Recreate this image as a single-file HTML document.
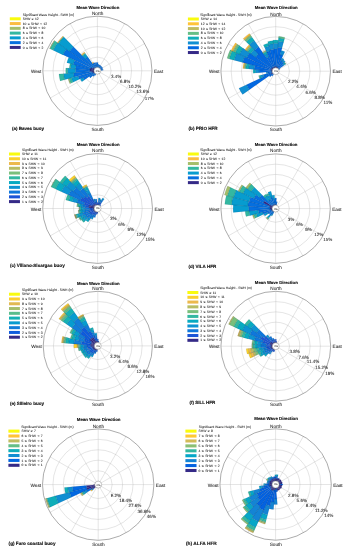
<!DOCTYPE html>
<html><head><meta charset="utf-8"><title>Wave roses</title>
<style>html,body{margin:0;padding:0;background:#fff}svg{display:block}</style></head>
<body>
<svg width="349" height="550" viewBox="0 0 349 550" text-rendering="geometricPrecision" font-family="'Liberation Sans', sans-serif">
<style>text{stroke:#222;stroke-width:0.05px}text[font-weight=bold]{stroke:#111;stroke-width:0.13px}</style>
<rect width="349" height="550" fill="#fff"/>
<g>
<circle cx="97.4" cy="70.8" r="13.65" fill="none" stroke="#b4b4b4" stroke-width="0.35"/>
<circle cx="97.4" cy="70.8" r="23.89" fill="none" stroke="#b4b4b4" stroke-width="0.35"/>
<circle cx="97.4" cy="70.8" r="34.12" fill="none" stroke="#b4b4b4" stroke-width="0.35"/>
<circle cx="97.4" cy="70.8" r="44.36" fill="none" stroke="#b4b4b4" stroke-width="0.35"/>
<line x1="97.4" y1="67.39" x2="97.4" y2="16.2" stroke="#b4b4b4" stroke-width="0.35"/>
<line x1="99.11" y1="67.84" x2="124.7" y2="23.52" stroke="#b4b4b4" stroke-width="0.35"/>
<line x1="100.36" y1="69.09" x2="144.68" y2="43.5" stroke="#b4b4b4" stroke-width="0.35"/>
<line x1="100.81" y1="70.8" x2="152" y2="70.8" stroke="#b4b4b4" stroke-width="0.35"/>
<line x1="100.36" y1="72.51" x2="144.68" y2="98.1" stroke="#b4b4b4" stroke-width="0.35"/>
<line x1="99.11" y1="73.76" x2="124.7" y2="118.08" stroke="#b4b4b4" stroke-width="0.35"/>
<line x1="97.4" y1="74.21" x2="97.4" y2="125.4" stroke="#b4b4b4" stroke-width="0.35"/>
<line x1="95.69" y1="73.76" x2="70.1" y2="118.08" stroke="#b4b4b4" stroke-width="0.35"/>
<line x1="94.44" y1="72.51" x2="50.12" y2="98.1" stroke="#b4b4b4" stroke-width="0.35"/>
<line x1="93.99" y1="70.8" x2="42.8" y2="70.8" stroke="#b4b4b4" stroke-width="0.35"/>
<line x1="94.44" y1="69.09" x2="50.12" y2="43.5" stroke="#b4b4b4" stroke-width="0.35"/>
<line x1="95.69" y1="67.84" x2="70.1" y2="23.52" stroke="#b4b4b4" stroke-width="0.35"/>
<circle cx="97.4" cy="70.8" r="54.6" fill="none" stroke="#666" stroke-width="0.55"/>
<path d="M97.09 67.4L96.65 62.53A8.3 8.3 0 0 1 98.15 62.53L97.71 67.4A3.41 3.41 0 0 0 97.09 67.4Z" fill="#066fdf"/>
<path d="M97.69 67.4L97.94 64.32A6.5 6.5 0 0 1 99.1 64.53L98.29 67.51A3.41 3.41 0 0 0 97.69 67.4Z" fill="#066fdf"/>
<path d="M98.27 67.5L98.98 64.81A6.2 6.2 0 0 1 100.04 65.19L98.85 67.71A3.41 3.41 0 0 0 98.27 67.5Z" fill="#066fdf"/>
<path d="M98.83 67.7L99.92 65.35A6 6 0 0 1 100.86 65.9L99.37 68.01A3.41 3.41 0 0 0 98.83 67.7Z" fill="#066fdf"/>
<path d="M99.35 68L100.82 65.87A6 6 0 0 1 101.66 66.57L99.82 68.4A3.41 3.41 0 0 0 99.35 68Z" fill="#066fdf"/>
<path d="M99.8 68.38L101.49 66.68A5.8 5.8 0 0 1 102.16 67.49L100.2 68.85A3.41 3.41 0 0 0 99.8 68.38Z" fill="#066fdf"/>
<path d="M100.19 68.83L102.3 67.34A6 6 0 0 1 102.85 68.28L100.5 69.37A3.41 3.41 0 0 0 100.19 68.83Z" fill="#066fdf"/>
<path d="M100.49 69.35L102.38 68.46A5.5 5.5 0 0 1 102.72 69.4L100.7 69.93A3.41 3.41 0 0 0 100.49 69.35Z" fill="#066fdf"/>
<path d="M100.69 69.91L103.09 69.25A5.9 5.9 0 0 1 103.28 70.31L100.8 70.51A3.41 3.41 0 0 0 100.69 69.91Z" fill="#066fdf"/>
<path d="M95.97 73.9L95.09 75.79A5.5 5.5 0 0 1 94.23 75.29L95.43 73.59A3.41 3.41 0 0 0 95.97 73.9Z" fill="#066fdf"/>
<path d="M95.45 73.6L93.41 76.55A7 7 0 0 1 92.43 75.73L94.98 73.2A3.41 3.41 0 0 0 95.45 73.6Z" fill="#066fdf"/>
<path d="M95 73.22L90.35 77.9A10 10 0 0 1 89.19 76.51L94.6 72.75A3.41 3.41 0 0 0 95 73.22Z" fill="#066fdf"/>
<path d="M94.61 72.77L93.89 73.28A4.3 4.3 0 0 1 93.5 72.6L94.3 72.23A3.41 3.41 0 0 0 94.61 72.77Z" fill="#352a87"/>
<path d="M93.97 73.22L84.33 80.02A16 16 0 0 1 82.88 77.51L93.59 72.56A4.2 4.2 0 0 0 93.97 73.22Z" fill="#066fdf"/>
<path d="M84.41 79.97L81.87 81.75A19 19 0 0 1 80.15 78.77L82.97 77.47A15.9 15.9 0 0 0 84.41 79.97Z" fill="#079ccf"/>
<path d="M94.31 72.25L92.88 72.93A5 5 0 0 1 92.57 72.08L94.1 71.67A3.41 3.41 0 0 0 94.31 72.25Z" fill="#352a87"/>
<path d="M92.97 72.89L79.3 79.32A20 20 0 0 1 78.06 75.91L92.66 72.05A4.9 4.9 0 0 0 92.97 72.89Z" fill="#066fdf"/>
<path d="M79.39 79.27L72.97 82.3A27 27 0 0 1 71.3 77.7L78.16 75.88A19.9 19.9 0 0 0 79.39 79.27Z" fill="#079ccf"/>
<path d="M73.06 82.25L70.71 83.36A29.5 29.5 0 0 1 68.88 78.34L71.39 77.67A26.9 26.9 0 0 0 73.06 82.25Z" fill="#33b8a1"/>
<path d="M70.8 83.32L69.8 83.79A30.5 30.5 0 0 1 67.91 78.59L68.98 78.31A29.4 29.4 0 0 0 70.8 83.32Z" fill="#a5be6b"/>
<path d="M94.11 71.69L91.61 72.37A6 6 0 0 1 91.42 71.3L94 71.09A3.41 3.41 0 0 0 94.11 71.69Z" fill="#352a87"/>
<path d="M91.71 72.35L74.24 77.09A24 24 0 0 1 73.48 72.81L91.52 71.29A5.9 5.9 0 0 0 91.71 72.35Z" fill="#066fdf"/>
<path d="M74.34 77.07L64.59 79.71A34 34 0 0 1 63.52 73.65L73.58 72.8A23.9 23.9 0 0 0 74.34 77.07Z" fill="#079ccf"/>
<path d="M64.69 79.69L60.15 80.92A38.6 38.6 0 0 1 58.94 74.03L63.62 73.64A33.9 33.9 0 0 0 64.69 79.69Z" fill="#33b8a1"/>
<path d="M94 71.11L89.93 71.48A7.5 7.5 0 0 1 89.93 70.12L94 70.49A3.41 3.41 0 0 0 94 71.11Z" fill="#352a87"/>
<path d="M90.03 71.47L75.49 72.79A22 22 0 0 1 75.49 68.81L90.03 70.13A7.4 7.4 0 0 0 90.03 71.47Z" fill="#066fdf"/>
<path d="M75.59 72.78L67.52 73.52A30 30 0 0 1 67.52 68.08L75.59 68.82A21.9 21.9 0 0 0 75.59 72.78Z" fill="#079ccf"/>
<path d="M67.62 73.51L65.83 73.67A31.7 31.7 0 0 1 65.83 67.93L67.62 68.09A29.9 29.9 0 0 0 67.62 73.51Z" fill="#33b8a1"/>
<path d="M94 70.51L89.93 70.17A7.5 7.5 0 0 1 90.16 68.83L94.11 69.91A3.41 3.41 0 0 0 94 70.51Z" fill="#352a87"/>
<path d="M90.03 70.18L75.48 68.96A22 22 0 0 1 76.17 65.03L90.26 68.86A7.4 7.4 0 0 0 90.03 70.18Z" fill="#066fdf"/>
<path d="M75.58 68.97L70.49 68.54A27 27 0 0 1 71.34 63.72L76.27 65.06A21.9 21.9 0 0 0 75.58 68.97Z" fill="#079ccf"/>
<path d="M70.59 68.55L69.2 68.43A28.3 28.3 0 0 1 70.09 63.38L71.44 63.75A26.9 26.9 0 0 0 70.59 68.55Z" fill="#33b8a1"/>
<path d="M94.1 69.93L90.15 68.88A7.5 7.5 0 0 1 90.61 67.61L94.31 69.35A3.41 3.41 0 0 0 94.1 69.93Z" fill="#352a87"/>
<path d="M90.25 68.91L73.23 64.41A25 25 0 0 1 74.78 60.16L90.7 67.65A7.4 7.4 0 0 0 90.25 68.91Z" fill="#066fdf"/>
<path d="M73.33 64.44L66.85 62.73A31.6 31.6 0 0 1 68.81 57.35L74.87 60.2A24.9 24.9 0 0 0 73.33 64.44Z" fill="#079ccf"/>
<path d="M94.3 69.37L92.41 68.49A5.5 5.5 0 0 1 92.91 67.63L94.61 68.83A3.41 3.41 0 0 0 94.3 69.37Z" fill="#352a87"/>
<path d="M92.5 68.53L62.9 54.86A38 38 0 0 1 66.35 48.9L92.99 67.69A5.4 5.4 0 0 0 92.5 68.53Z" fill="#066fdf"/>
<path d="M63 54.9L53.1 50.33A48.8 48.8 0 0 1 57.52 42.67L66.43 48.95A37.9 37.9 0 0 0 63 54.9Z" fill="#079ccf"/>
<path d="M53.19 50.37L49.92 48.86A52.3 52.3 0 0 1 54.66 40.65L57.61 42.73A48.7 48.7 0 0 0 53.19 50.37Z" fill="#33b8a1"/>
<path d="M50.01 48.9L49.47 48.65A52.8 52.8 0 0 1 54.25 40.36L54.75 40.71A52.2 52.2 0 0 0 50.01 48.9Z" fill="#a5be6b"/>
<path d="M94.6 68.85L93.29 67.95A5 5 0 0 1 93.88 67.25L95 68.38A3.41 3.41 0 0 0 94.6 68.85Z" fill="#352a87"/>
<path d="M93.38 68L69.48 51.4A34 34 0 0 1 73.44 46.67L93.95 67.32A4.9 4.9 0 0 0 93.38 68Z" fill="#066fdf"/>
<path d="M69.56 51.45L58.4 43.69A47.5 47.5 0 0 1 63.93 37.1L73.51 46.75A33.9 33.9 0 0 0 69.56 51.45Z" fill="#079ccf"/>
<path d="M58.48 43.75L57.74 43.23A48.3 48.3 0 0 1 63.37 36.53L64 37.17A47.4 47.4 0 0 0 58.48 43.75Z" fill="#33b8a1"/>
<path d="M57.82 43.29L57.16 42.84A49 49 0 0 1 62.87 36.03L63.44 36.6A48.2 48.2 0 0 0 57.82 43.29Z" fill="#fbbc41"/>
<path d="M94.98 68.4L94.35 67.77A4.3 4.3 0 0 1 94.95 67.27L95.45 68A3.41 3.41 0 0 0 94.98 68.4Z" fill="#352a87"/>
<path d="M94.42 67.84L85.34 58.82A17 17 0 0 1 87.7 56.84L95 67.35A4.2 4.2 0 0 0 94.42 67.84Z" fill="#066fdf"/>
<path d="M85.41 58.89L82.85 56.35A20.5 20.5 0 0 1 85.7 53.97L87.75 56.92A16.9 16.9 0 0 0 85.41 58.89Z" fill="#079ccf"/>
<path d="M82.92 56.43L81.93 55.44A21.8 21.8 0 0 1 84.96 52.9L85.76 54.05A20.4 20.4 0 0 0 82.92 56.43Z" fill="#33b8a1"/>
<path d="M82 55.51L81.22 54.73A22.8 22.8 0 0 1 84.39 52.08L85.02 52.98A21.7 21.7 0 0 0 82 55.51Z" fill="#fbbc41"/>
<path d="M95.43 68.01L92.39 63.69A8.7 8.7 0 0 1 93.75 62.9L95.97 67.7A3.41 3.41 0 0 0 95.43 68.01Z" fill="#066fdf"/>
<path d="M92.44 63.77L91.87 62.96A9.6 9.6 0 0 1 93.37 62.09L93.79 62.99A8.6 8.6 0 0 0 92.44 63.77Z" fill="#fbbc41"/>
<path d="M95.95 67.71L93.78 63.11A8.5 8.5 0 0 1 95.23 62.58L96.53 67.5A3.41 3.41 0 0 0 95.95 67.71Z" fill="#066fdf"/>
<path d="M96.51 67.51L95.22 62.79A8.3 8.3 0 0 1 96.71 62.53L97.11 67.4A3.41 3.41 0 0 0 96.51 67.51Z" fill="#066fdf"/>
<path d="M97.1 67.4L96.68 62.53A8.3 8.3 0 0 1 98.12 62.53L97.7 67.4A3.41 3.41 0 0 0 97.1 67.4ZM97.7 67.4L97.97 64.32A6.5 6.5 0 0 1 99.08 64.52L98.28 67.5A3.41 3.41 0 0 0 97.7 67.4ZM98.28 67.5L99 64.81A6.2 6.2 0 0 1 100.02 65.18L98.84 67.71A3.41 3.41 0 0 0 98.28 67.5ZM98.84 67.71L99.94 65.36A6 6 0 0 1 100.84 65.89L99.36 68A3.41 3.41 0 0 0 98.84 67.71ZM99.36 68L100.84 65.89A6 6 0 0 1 101.64 66.56L99.81 68.39A3.41 3.41 0 0 0 99.36 68ZM99.81 68.39L101.5 66.7A5.8 5.8 0 0 1 102.15 67.47L100.2 68.84A3.41 3.41 0 0 0 99.81 68.39ZM100.2 68.84L102.31 67.36A6 6 0 0 1 102.84 68.26L100.49 69.36A3.41 3.41 0 0 0 100.2 68.84ZM100.49 69.36L102.38 68.48A5.5 5.5 0 0 1 102.71 69.38L100.7 69.92A3.41 3.41 0 0 0 100.49 69.36ZM100.7 69.92L103.1 69.27A5.9 5.9 0 0 1 103.28 70.29L100.8 70.5A3.41 3.41 0 0 0 100.7 69.92ZM95.96 73.89L95.08 75.78A5.5 5.5 0 0 1 94.25 75.31L95.44 73.6A3.41 3.41 0 0 0 95.96 73.89ZM95.44 73.6L93.38 76.53A7 7 0 0 1 92.45 75.75L94.99 73.21A3.41 3.41 0 0 0 95.44 73.6ZM94.99 73.21L90.33 77.87A10 10 0 0 1 89.21 76.54L94.6 72.76A3.41 3.41 0 0 0 94.99 73.21ZM94.6 72.76L93.88 73.27A4.3 4.3 0 0 1 93.5 72.62L94.31 72.24A3.41 3.41 0 0 0 94.6 72.76ZM93.88 73.27L84.29 79.98A16 16 0 0 1 82.9 77.56L93.5 72.62A4.3 4.3 0 0 0 93.88 73.27ZM84.29 79.98L81.84 81.7A19 19 0 0 1 80.18 78.83L82.9 77.56A16 16 0 0 0 84.29 79.98ZM94.31 72.24L92.87 72.91A5 5 0 0 1 92.57 72.09L94.1 71.68A3.41 3.41 0 0 0 94.31 72.24ZM92.87 72.91L79.27 79.25A20 20 0 0 1 78.08 75.98L92.57 72.09A5 5 0 0 0 92.87 72.91ZM79.27 79.25L72.93 82.21A27 27 0 0 1 71.32 77.79L78.08 75.98A20 20 0 0 0 79.27 79.25ZM72.93 82.21L70.66 83.27A29.5 29.5 0 0 1 68.91 78.44L71.32 77.79A27 27 0 0 0 72.93 82.21ZM70.66 83.27L69.76 83.69A30.5 30.5 0 0 1 67.94 78.69L68.91 78.44A29.5 29.5 0 0 0 70.66 83.27ZM94.1 71.68L91.6 72.35A6 6 0 0 1 91.42 71.32L94 71.1A3.41 3.41 0 0 0 94.1 71.68ZM91.6 72.35L74.22 77.01A24 24 0 0 1 73.49 72.89L91.42 71.32A6 6 0 0 0 91.6 72.35ZM74.22 77.01L64.56 79.6A34 34 0 0 1 63.53 73.76L73.49 72.89A24 24 0 0 0 74.22 77.01ZM64.56 79.6L60.12 80.79A38.6 38.6 0 0 1 58.95 74.16L63.53 73.76A34 34 0 0 0 64.56 79.6ZM94 71.1L89.93 71.45A7.5 7.5 0 0 1 89.93 70.15L94 70.5A3.41 3.41 0 0 0 94 71.1ZM89.93 71.45L75.48 72.72A22 22 0 0 1 75.48 68.88L89.93 70.15A7.5 7.5 0 0 0 89.93 71.45ZM75.48 72.72L67.51 73.41A30 30 0 0 1 67.51 68.19L75.48 68.88A22 22 0 0 0 75.48 72.72ZM67.51 73.41L65.82 73.56A31.7 31.7 0 0 1 65.82 68.04L67.51 68.19A30 30 0 0 0 67.51 73.41ZM94 70.5L89.93 70.15A7.5 7.5 0 0 1 90.16 68.86L94.1 69.92A3.41 3.41 0 0 0 94 70.5ZM89.93 70.15L75.48 68.88A22 22 0 0 1 76.15 65.11L90.16 68.86A7.5 7.5 0 0 0 89.93 70.15ZM75.48 68.88L70.5 68.45A27 27 0 0 1 71.32 63.81L76.15 65.11A22 22 0 0 0 75.48 68.88ZM70.5 68.45L69.21 68.33A28.3 28.3 0 0 1 70.06 63.48L71.32 63.81A27 27 0 0 0 70.5 68.45ZM94.1 69.92L90.16 68.86A7.5 7.5 0 0 1 90.6 67.63L94.31 69.36A3.41 3.41 0 0 0 94.1 69.92ZM90.16 68.86L73.25 64.33A25 25 0 0 1 74.74 60.23L90.6 67.63A7.5 7.5 0 0 0 90.16 68.86ZM73.25 64.33L66.88 62.62A31.6 31.6 0 0 1 68.76 57.45L74.74 60.23A25 25 0 0 0 73.25 64.33ZM94.31 69.36L92.42 68.48A5.5 5.5 0 0 1 92.89 67.65L94.6 68.84A3.41 3.41 0 0 0 94.31 69.36ZM92.42 68.48L62.96 54.74A38 38 0 0 1 66.27 49L92.89 67.65A5.5 5.5 0 0 0 92.42 68.48ZM62.96 54.74L53.17 50.18A48.8 48.8 0 0 1 57.43 42.81L66.27 49A38 38 0 0 0 62.96 54.74ZM53.17 50.18L50 48.7A52.3 52.3 0 0 1 54.56 40.8L57.43 42.81A48.8 48.8 0 0 0 53.17 50.18ZM50 48.7L49.55 48.49A52.8 52.8 0 0 1 54.15 40.52L54.56 40.8A52.3 52.3 0 0 0 50 48.7ZM94.6 68.84L93.3 67.93A5 5 0 0 1 93.86 67.26L94.99 68.39A3.41 3.41 0 0 0 94.6 68.84ZM93.3 67.93L69.55 51.3A34 34 0 0 1 73.36 46.76L93.86 67.26A5 5 0 0 0 93.3 67.93ZM69.55 51.3L58.49 43.56A47.5 47.5 0 0 1 63.81 37.21L73.36 46.76A34 34 0 0 0 69.55 51.3ZM58.49 43.56L57.83 43.1A48.3 48.3 0 0 1 63.25 36.65L63.81 37.21A47.5 47.5 0 0 0 58.49 43.56ZM57.83 43.1L57.26 42.69A49 49 0 0 1 62.75 36.15L63.25 36.65A48.3 48.3 0 0 0 57.83 43.1ZM94.99 68.39L94.36 67.76A4.3 4.3 0 0 1 94.93 67.28L95.44 68A3.41 3.41 0 0 0 94.99 68.39ZM94.36 67.76L85.38 58.78A17 17 0 0 1 87.65 56.87L94.93 67.28A4.3 4.3 0 0 0 94.36 67.76ZM85.38 58.78L82.9 56.3A20.5 20.5 0 0 1 85.64 54.01L87.65 56.87A17 17 0 0 0 85.38 58.78ZM82.9 56.3L81.99 55.39A21.8 21.8 0 0 1 84.9 52.94L85.64 54.01A20.5 20.5 0 0 0 82.9 56.3ZM81.99 55.39L81.28 54.68A22.8 22.8 0 0 1 84.32 52.12L84.9 52.94A21.8 21.8 0 0 0 81.99 55.39ZM95.44 68L92.41 63.67A8.7 8.7 0 0 1 93.72 62.92L95.96 67.71A3.41 3.41 0 0 0 95.44 68ZM92.41 63.67L91.89 62.94A9.6 9.6 0 0 1 93.34 62.1L93.72 62.92A8.7 8.7 0 0 0 92.41 63.67ZM95.96 67.71L93.81 63.1A8.5 8.5 0 0 1 95.2 62.59L96.52 67.5A3.41 3.41 0 0 0 95.96 67.71ZM96.52 67.5L95.25 62.78A8.3 8.3 0 0 1 96.68 62.53L97.1 67.4A3.41 3.41 0 0 0 96.52 67.5Z" fill="none" stroke="#06183c" stroke-opacity="0.42" stroke-width="0.2"/>
<circle cx="97.4" cy="70.8" r="3.41" fill="#fff" stroke="#666" stroke-width="0.4"/>
<text x="97.6" y="71.7" font-size="2.6" text-anchor="middle" fill="#555" stroke="none">0%</text>
<text x="97.9" y="8.6" font-size="4.27" font-weight="bold" text-anchor="middle" fill="#111">Mean Wave Direction</text>
<text x="97.6" y="15" font-size="4.65" text-anchor="middle" fill="#222">North</text>
<text x="97.6" y="130.7" font-size="4.65" text-anchor="middle" fill="#222">South</text>
<text x="41.4" y="73" font-size="4.65" text-anchor="end" fill="#222">West</text>
<text x="153.9" y="73" font-size="4.65" text-anchor="start" fill="#222">East</text>
<text x="111.02" y="78.12" font-size="4.5" fill="#222">3.4%</text>
<text x="119.89" y="83.24" font-size="4.5" fill="#222">6.8%</text>
<text x="128.45" y="88.36" font-size="4.5" fill="#222">10.2%</text>
<text x="136.52" y="93.48" font-size="4.5" fill="#222">13.6%</text>
<text x="144.68" y="100.2" font-size="4.5" fill="#222">17%</text>
<text x="22.7" y="15.7" font-size="3.3" fill="#222">Significant Wave Height - SWH (m)</text>
<rect x="9.8" y="17.3" width="10.9" height="3" fill="#f9fb0e"/>
<text x="22.7" y="19.9" font-size="3.3" word-spacing="0.5" fill="#222">SHW ≥ 12</text>
<rect x="9.8" y="22.07" width="10.9" height="3" fill="#fbbc41"/>
<text x="22.7" y="24.67" font-size="3.3" word-spacing="0.5" fill="#222">10 ≤ SHW &lt; 12</text>
<rect x="9.8" y="26.84" width="10.9" height="3" fill="#a5be6b"/>
<text x="22.7" y="29.44" font-size="3.3" word-spacing="0.5" fill="#222">8 ≤ SHW &lt; 10</text>
<rect x="9.8" y="31.61" width="10.9" height="3" fill="#33b8a1"/>
<text x="22.7" y="34.21" font-size="3.3" word-spacing="0.5" fill="#222">6 ≤ SHW &lt; 8</text>
<rect x="9.8" y="36.38" width="10.9" height="3" fill="#079ccf"/>
<text x="22.7" y="38.98" font-size="3.3" word-spacing="0.5" fill="#222">4 ≤ SHW &lt; 6</text>
<rect x="9.8" y="41.15" width="10.9" height="3" fill="#066fdf"/>
<text x="22.7" y="43.75" font-size="3.3" word-spacing="0.5" fill="#222">2 ≤ SHW &lt; 4</text>
<rect x="9.8" y="45.92" width="10.9" height="3" fill="#352a87"/>
<text x="22.7" y="48.52" font-size="3.3" word-spacing="0.5" fill="#222">0 ≤ SHW &lt; 2</text>
<text x="12" y="130" font-size="4.5" font-weight="bold" fill="#111">(a) Baves buoy</text>
</g>
<g>
<circle cx="275.7" cy="71.2" r="13.7" fill="none" stroke="#b4b4b4" stroke-width="0.35"/>
<circle cx="275.7" cy="71.2" r="23.98" fill="none" stroke="#b4b4b4" stroke-width="0.35"/>
<circle cx="275.7" cy="71.2" r="34.25" fill="none" stroke="#b4b4b4" stroke-width="0.35"/>
<circle cx="275.7" cy="71.2" r="44.52" fill="none" stroke="#b4b4b4" stroke-width="0.35"/>
<line x1="275.7" y1="67.78" x2="275.7" y2="16.4" stroke="#b4b4b4" stroke-width="0.35"/>
<line x1="277.41" y1="68.23" x2="303.1" y2="23.74" stroke="#b4b4b4" stroke-width="0.35"/>
<line x1="278.67" y1="69.49" x2="323.16" y2="43.8" stroke="#b4b4b4" stroke-width="0.35"/>
<line x1="279.12" y1="71.2" x2="330.5" y2="71.2" stroke="#b4b4b4" stroke-width="0.35"/>
<line x1="278.67" y1="72.91" x2="323.16" y2="98.6" stroke="#b4b4b4" stroke-width="0.35"/>
<line x1="277.41" y1="74.17" x2="303.1" y2="118.66" stroke="#b4b4b4" stroke-width="0.35"/>
<line x1="275.7" y1="74.62" x2="275.7" y2="126" stroke="#b4b4b4" stroke-width="0.35"/>
<line x1="273.99" y1="74.17" x2="248.3" y2="118.66" stroke="#b4b4b4" stroke-width="0.35"/>
<line x1="272.73" y1="72.91" x2="228.24" y2="98.6" stroke="#b4b4b4" stroke-width="0.35"/>
<line x1="272.27" y1="71.2" x2="220.9" y2="71.2" stroke="#b4b4b4" stroke-width="0.35"/>
<line x1="272.73" y1="69.49" x2="228.24" y2="43.8" stroke="#b4b4b4" stroke-width="0.35"/>
<line x1="273.99" y1="68.23" x2="248.3" y2="23.74" stroke="#b4b4b4" stroke-width="0.35"/>
<circle cx="275.7" cy="71.2" r="54.8" fill="none" stroke="#666" stroke-width="0.55"/>
<path d="M275.39 67.79L275.28 66.56A4.65 4.65 0 0 1 276.12 66.56L276.01 67.79A3.42 3.42 0 0 0 275.39 67.79Z" fill="#352a87"/>
<path d="M275.29 66.66L273.66 48.8A22.49 22.49 0 0 1 277.74 48.8L276.11 66.66A4.55 4.55 0 0 0 275.29 66.66Z" fill="#0268e1"/>
<path d="M273.67 48.9L273.16 43.29A28.03 28.03 0 0 1 278.24 43.29L277.73 48.9A22.39 22.39 0 0 0 273.67 48.9Z" fill="#108ed2"/>
<path d="M273.17 43.39L272.88 40.23A31.1 31.1 0 0 1 278.52 40.23L278.23 43.39A27.93 27.93 0 0 0 273.17 43.39Z" fill="#0faeb9"/>
<path d="M275.99 67.79L276.1 66.46A4.76 4.76 0 0 1 276.95 66.61L276.6 67.89A3.42 3.42 0 0 0 275.99 67.79Z" fill="#352a87"/>
<path d="M276.09 66.55L277.72 47.14A24.14 24.14 0 0 1 282.03 47.9L276.92 66.7A4.66 4.66 0 0 0 276.09 66.55Z" fill="#0268e1"/>
<path d="M277.71 47.24L278.22 41.15A30.16 30.16 0 0 1 283.61 42.1L282 48A24.04 24.04 0 0 0 277.71 47.24Z" fill="#108ed2"/>
<path d="M278.21 41.25L278.5 37.82A33.5 33.5 0 0 1 284.48 38.88L283.58 42.2A30.06 30.06 0 0 0 278.21 41.25Z" fill="#0faeb9"/>
<path d="M278.49 37.92L278.63 36.32A35 35 0 0 1 284.88 37.42L284.46 38.97A33.4 33.4 0 0 0 278.49 37.92Z" fill="#65be86"/>
<path d="M276.57 67.89L276.81 67.01A4.33 4.33 0 0 1 277.54 67.28L277.16 68.1A3.42 3.42 0 0 0 276.57 67.89Z" fill="#352a87"/>
<path d="M276.78 67.11L280.15 54.35A17.43 17.43 0 0 1 283.12 55.43L277.5 67.37A4.23 4.23 0 0 0 276.78 67.11Z" fill="#0268e1"/>
<path d="M280.13 54.44L281.19 50.41A21.5 21.5 0 0 1 284.85 51.75L283.08 55.52A17.33 17.33 0 0 0 280.13 54.44Z" fill="#108ed2"/>
<path d="M277.14 68.09L277.37 67.59A3.98 3.98 0 0 1 277.99 67.95L277.67 68.4A3.42 3.42 0 0 0 277.14 68.09Z" fill="#352a87"/>
<path d="M277.33 67.68L280.74 60.3A12.01 12.01 0 0 1 282.62 61.39L277.94 68.03A3.88 3.88 0 0 0 277.33 67.68Z" fill="#0268e1"/>
<path d="M280.69 60.39L281.78 58.04A14.5 14.5 0 0 1 284.06 59.35L282.56 61.47A11.91 11.91 0 0 0 280.69 60.39Z" fill="#108ed2"/>
<path d="M277.65 68.39L277.94 67.97A3.93 3.93 0 0 1 278.49 68.43L278.13 68.79A3.42 3.42 0 0 0 277.65 68.39Z" fill="#352a87"/>
<path d="M277.89 68.06L282.11 61.98A11.23 11.23 0 0 1 283.67 63.28L278.42 68.5A3.83 3.83 0 0 0 277.89 68.06Z" fill="#0268e1"/>
<path d="M282.05 62.06L283.4 60.11A13.5 13.5 0 0 1 285.28 61.69L283.6 63.36A11.13 11.13 0 0 0 282.05 62.06Z" fill="#108ed2"/>
<path d="M278.11 68.77L278.39 68.49A3.82 3.82 0 0 1 278.83 69.02L278.51 69.25A3.42 3.42 0 0 0 278.11 68.77Z" fill="#352a87"/>
<path d="M278.32 68.56L282.4 64.45A9.51 9.51 0 0 1 283.51 65.77L278.75 69.08A3.72 3.72 0 0 0 278.32 68.56Z" fill="#0268e1"/>
<path d="M282.33 64.52L283.65 63.2A11.28 11.28 0 0 1 284.96 64.76L283.43 65.83A9.41 9.41 0 0 0 282.33 64.52Z" fill="#108ed2"/>
<path d="M283.58 63.27L284.34 62.5A12.26 12.26 0 0 1 285.77 64.2L284.88 64.82A11.18 11.18 0 0 0 283.58 63.27Z" fill="#0faeb9"/>
<path d="M284.27 62.57L284.65 62.19A12.7 12.7 0 0 1 286.13 63.95L285.68 64.26A12.16 12.16 0 0 0 284.27 62.57Z" fill="#65be86"/>
<path d="M278.5 69.23L278.58 69.17A3.53 3.53 0 0 1 278.9 69.72L278.81 69.76A3.42 3.42 0 0 0 278.5 69.23Z" fill="#352a87"/>
<path d="M278.5 69.22L279.79 68.32A5 5 0 0 1 280.24 69.1L278.81 69.76A3.43 3.43 0 0 0 278.5 69.22Z" fill="#0268e1"/>
<path d="M273.75 74.01L273.65 74.15A3.59 3.59 0 0 1 273.15 73.73L273.27 73.61A3.42 3.42 0 0 0 273.75 74.01Z" fill="#352a87"/>
<path d="M273.71 74.07L272.28 76.13A6 6 0 0 1 271.44 75.43L273.22 73.66A3.49 3.49 0 0 0 273.71 74.07Z" fill="#0268e1"/>
<path d="M273.29 73.63L273.08 73.84A3.72 3.72 0 0 1 272.65 73.32L272.89 73.15A3.42 3.42 0 0 0 273.29 73.63Z" fill="#352a87"/>
<path d="M273.15 73.77L270.06 76.88A8 8 0 0 1 269.13 75.77L272.73 73.27A3.62 3.62 0 0 0 273.15 73.77Z" fill="#0268e1"/>
<path d="M272.9 73.17L271.39 74.24A5.28 5.28 0 0 1 270.91 73.41L272.59 72.64A3.42 3.42 0 0 0 272.9 73.17Z" fill="#352a87"/>
<path d="M271.47 74.19L249.42 89.74A32.16 32.16 0 0 1 246.51 84.69L271 73.37A5.18 5.18 0 0 0 271.47 74.19Z" fill="#0268e1"/>
<path d="M249.5 89.68L242.61 94.55A40.5 40.5 0 0 1 238.94 88.19L246.6 84.65A32.06 32.06 0 0 0 249.5 89.68Z" fill="#108ed2"/>
<path d="M272.6 72.66L272.05 72.92A4.03 4.03 0 0 1 271.8 72.23L272.39 72.07A3.42 3.42 0 0 0 272.6 72.66Z" fill="#352a87"/>
<path d="M272.14 72.87L264.13 76.65A12.79 12.79 0 0 1 263.33 74.47L271.9 72.2A3.93 3.93 0 0 0 272.14 72.87Z" fill="#0268e1"/>
<path d="M264.22 76.6L261.67 77.8A15.51 15.51 0 0 1 260.7 75.16L263.43 74.44A12.69 12.69 0 0 0 264.22 76.6Z" fill="#108ed2"/>
<path d="M261.76 77.76L260.3 78.45A17.02 17.02 0 0 1 259.24 75.55L260.8 75.14A15.41 15.41 0 0 0 261.76 77.76Z" fill="#0faeb9"/>
<path d="M260.39 78.4L259.68 78.74A17.7 17.7 0 0 1 258.59 75.72L259.34 75.52A16.92 16.92 0 0 0 260.39 78.4Z" fill="#65be86"/>
<path d="M272.39 72.1L272.1 72.18A3.73 3.73 0 0 1 271.98 71.51L272.29 71.49A3.42 3.42 0 0 0 272.39 72.1Z" fill="#352a87"/>
<path d="M272.19 72.15L267.78 73.35A8.21 8.21 0 0 1 267.52 71.89L272.08 71.5A3.63 3.63 0 0 0 272.19 72.15Z" fill="#0268e1"/>
<path d="M267.87 73.33L266.44 73.72A9.6 9.6 0 0 1 266.13 72L267.62 71.88A8.11 8.11 0 0 0 267.87 73.33Z" fill="#108ed2"/>
<path d="M272.29 71.51L271.44 71.59A4.28 4.28 0 0 1 271.44 70.81L272.29 70.89A3.42 3.42 0 0 0 272.29 71.51Z" fill="#352a87"/>
<path d="M271.54 71.58L259.13 72.71A16.63 16.63 0 0 1 259.13 69.69L271.54 70.82A4.18 4.18 0 0 0 271.54 71.58Z" fill="#0268e1"/>
<path d="M259.23 72.7L255.31 73.06A20.47 20.47 0 0 1 255.31 69.34L259.23 69.7A16.53 16.53 0 0 0 259.23 72.7Z" fill="#108ed2"/>
<path d="M255.41 73.05L253.19 73.25A22.6 22.6 0 0 1 253.19 69.15L255.41 69.35A20.37 20.37 0 0 0 255.41 73.05Z" fill="#0faeb9"/>
<path d="M272.29 70.91L271.11 70.81A4.61 4.61 0 0 1 271.25 69.99L272.39 70.3A3.42 3.42 0 0 0 272.29 70.91Z" fill="#352a87"/>
<path d="M271.21 70.82L254.01 69.38A21.76 21.76 0 0 1 254.7 65.49L271.35 70.02A4.51 4.51 0 0 0 271.21 70.82Z" fill="#0268e1"/>
<path d="M254.11 69.39L248.71 68.93A27.09 27.09 0 0 1 249.56 64.1L254.8 65.52A21.66 21.66 0 0 0 254.11 69.39Z" fill="#108ed2"/>
<path d="M248.81 68.94L245.76 68.69A30.04 30.04 0 0 1 246.71 63.32L249.66 64.12A26.98 26.98 0 0 0 248.81 68.94Z" fill="#0faeb9"/>
<path d="M245.86 68.69L244.44 68.57A31.37 31.37 0 0 1 245.42 62.97L246.8 63.35A29.94 29.94 0 0 0 245.86 68.69Z" fill="#65be86"/>
<path d="M244.54 68.58L243.76 68.52A32.05 32.05 0 0 1 244.77 62.8L245.52 63A31.27 31.27 0 0 0 244.54 68.58Z" fill="#c0bc60"/>
<path d="M243.86 68.53L242.82 68.44A33 33 0 0 1 243.85 62.55L244.86 62.82A31.95 31.95 0 0 0 243.86 68.53Z" fill="#ffc337"/>
<path d="M272.39 70.33L270.47 69.82A5.41 5.41 0 0 1 270.81 68.9L272.6 69.74A3.42 3.42 0 0 0 272.39 70.33Z" fill="#352a87"/>
<path d="M270.57 69.84L242.65 62.47A34.18 34.18 0 0 1 244.77 56.65L270.9 68.94A5.31 5.31 0 0 0 270.57 69.84Z" fill="#0268e1"/>
<path d="M242.75 62.49L234.02 60.19A43.11 43.11 0 0 1 236.7 52.85L244.86 56.69A34.08 34.08 0 0 0 242.75 62.49Z" fill="#108ed2"/>
<path d="M234.12 60.21L229.23 58.92A48.07 48.07 0 0 1 232.21 50.73L236.79 52.89A43.01 43.01 0 0 0 234.12 60.21Z" fill="#0faeb9"/>
<path d="M229.32 58.95L227.07 58.35A50.3 50.3 0 0 1 230.19 49.78L232.3 50.78A47.97 47.97 0 0 0 229.32 58.95Z" fill="#65be86"/>
<path d="M272.59 69.76L270.93 69A5.26 5.26 0 0 1 271.41 68.17L272.9 69.23A3.42 3.42 0 0 0 272.59 69.76Z" fill="#352a87"/>
<path d="M271.02 69.04L246.83 57.86A31.81 31.81 0 0 1 249.71 52.87L271.49 68.23A5.16 5.16 0 0 0 271.02 69.04Z" fill="#0268e1"/>
<path d="M246.92 57.9L239.35 54.4A40.05 40.05 0 0 1 242.98 48.12L249.79 52.92A31.71 31.71 0 0 0 246.92 57.9Z" fill="#108ed2"/>
<path d="M239.44 54.44L235.19 52.48A44.62 44.62 0 0 1 239.24 45.48L243.06 48.17A39.95 39.95 0 0 0 239.44 54.44Z" fill="#0faeb9"/>
<path d="M235.28 52.52L233.32 51.62A46.68 46.68 0 0 1 237.55 44.29L239.32 45.54A44.52 44.52 0 0 0 235.28 52.52Z" fill="#65be86"/>
<path d="M233.41 51.66L232.37 51.18A47.74 47.74 0 0 1 236.69 43.68L237.64 44.35A46.58 46.58 0 0 0 233.41 51.66Z" fill="#c0bc60"/>
<path d="M232.46 51.22L231.04 50.56A49.2 49.2 0 0 1 235.5 42.84L236.78 43.74A47.64 47.64 0 0 0 232.46 51.22Z" fill="#ffc337"/>
<path d="M272.89 69.25L271.77 68.47A4.79 4.79 0 0 1 272.33 67.8L273.29 68.77A3.42 3.42 0 0 0 272.89 69.25Z" fill="#352a87"/>
<path d="M271.85 68.52L255.54 57.19A24.55 24.55 0 0 1 258.4 53.78L272.4 67.87A4.69 4.69 0 0 0 271.85 68.52Z" fill="#0268e1"/>
<path d="M255.62 57.25L250.5 53.69A30.69 30.69 0 0 1 254.08 49.43L258.47 53.85A24.45 24.45 0 0 0 255.62 57.25Z" fill="#108ed2"/>
<path d="M250.59 53.74L247.7 51.74A34.09 34.09 0 0 1 251.68 47.01L254.15 49.5A30.59 30.59 0 0 0 250.59 53.74Z" fill="#0faeb9"/>
<path d="M247.79 51.8L246.45 50.87A35.63 35.63 0 0 1 250.6 45.92L251.75 47.08A33.99 33.99 0 0 0 247.79 51.8Z" fill="#65be86"/>
<path d="M246.53 50.92L245.8 50.42A36.41 36.41 0 0 1 250.04 45.36L250.67 45.99A35.53 35.53 0 0 0 246.53 50.92Z" fill="#c0bc60"/>
<path d="M245.88 50.48L244.91 49.8A37.5 37.5 0 0 1 249.28 44.59L250.12 45.44A36.31 36.31 0 0 0 245.88 50.48Z" fill="#ffc337"/>
<path d="M273.27 68.79L272.06 67.59A5.13 5.13 0 0 1 272.77 66.99L273.75 68.39A3.42 3.42 0 0 0 273.27 68.79Z" fill="#352a87"/>
<path d="M272.13 67.66L254.54 50.19A29.82 29.82 0 0 1 258.68 46.71L272.83 67.07A5.03 5.03 0 0 0 272.13 67.66Z" fill="#0268e1"/>
<path d="M254.61 50.26L249.1 44.79A37.48 37.48 0 0 1 254.31 40.42L258.74 46.79A29.72 29.72 0 0 0 254.61 50.26Z" fill="#108ed2"/>
<path d="M249.17 44.86L246.08 41.79A41.74 41.74 0 0 1 251.88 36.92L254.36 40.5A37.38 37.38 0 0 0 249.17 44.86Z" fill="#0faeb9"/>
<path d="M246.15 41.86L244.72 40.44A43.66 43.66 0 0 1 250.78 35.35L251.93 37.01A41.64 41.64 0 0 0 246.15 41.86Z" fill="#65be86"/>
<path d="M244.79 40.51L244.03 39.75A44.64 44.64 0 0 1 250.22 34.55L250.84 35.43A43.56 43.56 0 0 0 244.79 40.51Z" fill="#c0bc60"/>
<path d="M244.1 39.82L243.06 38.79A46 46 0 0 1 249.45 33.43L250.28 34.63A44.54 44.54 0 0 0 244.1 39.82Z" fill="#ffc337"/>
<path d="M273.73 68.4L273.26 67.74A4.24 4.24 0 0 1 273.92 67.35L274.26 68.09A3.42 3.42 0 0 0 273.73 68.4Z" fill="#352a87"/>
<path d="M273.31 67.82L266.46 58.1A16.03 16.03 0 0 1 268.98 56.65L273.96 67.44A4.14 4.14 0 0 0 273.31 67.82Z" fill="#0268e1"/>
<path d="M266.52 58.19L264.35 55.11A19.69 19.69 0 0 1 267.44 53.33L269.02 56.74A15.93 15.93 0 0 0 266.52 58.19Z" fill="#108ed2"/>
<path d="M264.41 55.2L263.18 53.45A21.72 21.72 0 0 1 266.59 51.49L267.48 53.42A19.59 19.59 0 0 0 264.41 55.2Z" fill="#0faeb9"/>
<path d="M263.24 53.54L262.65 52.71A22.63 22.63 0 0 1 266.21 50.65L266.63 51.58A21.62 21.62 0 0 0 263.24 53.54Z" fill="#65be86"/>
<path d="M262.71 52.79L262.38 52.32A23.1 23.1 0 0 1 266.01 50.23L266.25 50.75A22.53 22.53 0 0 0 262.71 52.79Z" fill="#c0bc60"/>
<path d="M274.24 68.1L273.76 67.07A4.56 4.56 0 0 1 274.53 66.79L274.83 67.89A3.42 3.42 0 0 0 274.24 68.1Z" fill="#352a87"/>
<path d="M273.8 67.16L266.74 52.16A21.04 21.04 0 0 1 270.32 50.85L274.56 66.89A4.46 4.46 0 0 0 273.8 67.16Z" fill="#0268e1"/>
<path d="M266.78 52.25L264.56 47.53A26.16 26.16 0 0 1 269.02 45.91L270.35 50.95A20.94 20.94 0 0 0 266.78 52.25Z" fill="#108ed2"/>
<path d="M264.6 47.62L263.35 44.96A29 29 0 0 1 268.29 43.16L269.04 46.01A26.06 26.06 0 0 0 264.6 47.62Z" fill="#0faeb9"/>
<path d="M274.8 67.89L274.49 66.73A4.63 4.63 0 0 1 275.31 66.58L275.41 67.79A3.42 3.42 0 0 0 274.8 67.89Z" fill="#352a87"/>
<path d="M274.51 66.83L269.89 49.83A22.15 22.15 0 0 1 273.85 49.13L275.32 66.68A4.53 4.53 0 0 0 274.51 66.83Z" fill="#0268e1"/>
<path d="M269.92 49.93L268.47 44.58A27.58 27.58 0 0 1 273.39 43.72L273.86 49.23A22.05 22.05 0 0 0 269.92 49.93Z" fill="#108ed2"/>
<path d="M268.49 44.68L267.68 41.67A30.6 30.6 0 0 1 273.14 40.71L273.4 43.82A27.48 27.48 0 0 0 268.49 44.68Z" fill="#0faeb9"/>
<path d="M275.4 67.79L275.29 66.56A4.65 4.65 0 0 1 276.11 66.56L276 67.79A3.42 3.42 0 0 0 275.4 67.79ZM275.29 66.56L273.74 48.8A22.49 22.49 0 0 1 277.66 48.8L276.11 66.56A4.65 4.65 0 0 0 275.29 66.56ZM273.74 48.8L273.26 43.28A28.03 28.03 0 0 1 278.14 43.28L277.66 48.8A22.49 22.49 0 0 0 273.74 48.8ZM273.26 43.28L272.99 40.22A31.1 31.1 0 0 1 278.41 40.22L278.14 43.28A28.03 28.03 0 0 0 273.26 43.28ZM276 67.79L276.11 66.46A4.76 4.76 0 0 1 276.93 66.6L276.59 67.89A3.42 3.42 0 0 0 276 67.79ZM276.11 66.46L277.8 47.15A24.14 24.14 0 0 1 281.95 47.88L276.93 66.6A4.76 4.76 0 0 0 276.11 66.46ZM277.8 47.15L278.33 41.16A30.16 30.16 0 0 1 283.5 42.07L281.95 47.88A24.14 24.14 0 0 0 277.8 47.15ZM278.33 41.16L278.62 37.83A33.5 33.5 0 0 1 284.37 38.84L283.5 42.07A30.16 30.16 0 0 0 278.33 41.16ZM278.62 37.83L278.75 36.33A35 35 0 0 1 284.76 37.39L284.37 38.84A33.5 33.5 0 0 0 278.62 37.83ZM276.59 67.89L276.82 67.02A4.33 4.33 0 0 1 277.53 67.28L277.15 68.1A3.42 3.42 0 0 0 276.59 67.89ZM276.82 67.02L280.21 54.36A17.43 17.43 0 0 1 283.07 55.4L277.53 67.28A4.33 4.33 0 0 0 276.82 67.02ZM280.21 54.36L281.26 50.43A21.5 21.5 0 0 1 284.79 51.71L283.07 55.4A17.43 17.43 0 0 0 280.21 54.36ZM277.15 68.1L277.38 67.59A3.98 3.98 0 0 1 277.98 67.94L277.66 68.39A3.42 3.42 0 0 0 277.15 68.1ZM277.38 67.59L280.77 60.32A12.01 12.01 0 0 1 282.59 61.36L277.98 67.94A3.98 3.98 0 0 0 277.38 67.59ZM280.77 60.32L281.83 58.06A14.5 14.5 0 0 1 284.02 59.32L282.59 61.36A12.01 12.01 0 0 0 280.77 60.32ZM277.66 68.39L277.95 67.98A3.93 3.93 0 0 1 278.48 68.42L278.12 68.78A3.42 3.42 0 0 0 277.66 68.39ZM277.95 67.98L282.14 62A11.23 11.23 0 0 1 283.64 63.26L278.48 68.42A3.93 3.93 0 0 0 277.95 67.98ZM282.14 62L283.44 60.14A13.5 13.5 0 0 1 285.25 61.65L283.64 63.26A11.23 11.23 0 0 0 282.14 62ZM278.12 68.78L278.4 68.5A3.82 3.82 0 0 1 278.83 69.01L278.51 69.24A3.42 3.42 0 0 0 278.12 68.78ZM278.4 68.5L282.42 64.48A9.51 9.51 0 0 1 283.49 65.75L278.83 69.01A3.82 3.82 0 0 0 278.4 68.5ZM282.42 64.48L283.67 63.23A11.28 11.28 0 0 1 284.94 64.73L283.49 65.75A9.51 9.51 0 0 0 282.42 64.48ZM283.67 63.23L284.37 62.53A12.26 12.26 0 0 1 285.74 64.17L284.94 64.73A11.28 11.28 0 0 0 283.67 63.23ZM284.37 62.53L284.68 62.22A12.7 12.7 0 0 1 286.1 63.92L285.74 64.17A12.26 12.26 0 0 0 284.37 62.53ZM278.51 69.24L278.59 69.18A3.53 3.53 0 0 1 278.9 69.71L278.8 69.75A3.42 3.42 0 0 0 278.51 69.24ZM278.59 69.18L279.8 68.33A5 5 0 0 1 280.23 69.09L278.9 69.71A3.53 3.53 0 0 0 278.59 69.18ZM273.74 74.01L273.64 74.14A3.59 3.59 0 0 1 273.16 73.74L273.28 73.62A3.42 3.42 0 0 0 273.74 74.01ZM273.64 74.14L272.26 76.11A6 6 0 0 1 271.46 75.44L273.16 73.74A3.59 3.59 0 0 0 273.64 74.14ZM273.28 73.62L273.07 73.83A3.72 3.72 0 0 1 272.65 73.33L272.89 73.16A3.42 3.42 0 0 0 273.28 73.62ZM273.07 73.83L270.04 76.86A8 8 0 0 1 269.15 75.79L272.65 73.33A3.72 3.72 0 0 0 273.07 73.83ZM272.89 73.16L271.38 74.23A5.28 5.28 0 0 1 270.92 73.43L272.6 72.65A3.42 3.42 0 0 0 272.89 73.16ZM271.38 74.23L249.36 89.65A32.16 32.16 0 0 1 246.55 84.79L270.92 73.43A5.28 5.28 0 0 0 271.38 74.23ZM249.36 89.65L242.52 94.43A40.5 40.5 0 0 1 238.99 88.32L246.55 84.79A32.16 32.16 0 0 0 249.36 89.65ZM272.6 72.65L272.05 72.9A4.03 4.03 0 0 1 271.81 72.24L272.39 72.09A3.42 3.42 0 0 0 272.6 72.65ZM272.05 72.9L264.11 76.61A12.79 12.79 0 0 1 263.35 74.51L271.81 72.24A4.03 4.03 0 0 0 272.05 72.9ZM264.11 76.61L261.64 77.75A15.51 15.51 0 0 1 260.72 75.21L263.35 74.51A12.79 12.79 0 0 0 264.11 76.61ZM261.64 77.75L260.27 78.39A17.02 17.02 0 0 1 259.26 75.61L260.72 75.21A15.51 15.51 0 0 0 261.64 77.75ZM260.27 78.39L259.66 78.68A17.7 17.7 0 0 1 258.6 75.78L259.26 75.61A17.02 17.02 0 0 0 260.27 78.39ZM272.39 72.09L272.09 72.17A3.73 3.73 0 0 1 271.98 71.53L272.29 71.5A3.42 3.42 0 0 0 272.39 72.09ZM272.09 72.17L267.77 73.33A8.21 8.21 0 0 1 267.52 71.92L271.98 71.53A3.73 3.73 0 0 0 272.09 72.17ZM267.77 73.33L266.43 73.68A9.6 9.6 0 0 1 266.14 72.04L267.52 71.92A8.21 8.21 0 0 0 267.77 73.33ZM272.29 71.5L271.44 71.57A4.28 4.28 0 0 1 271.44 70.83L272.29 70.9A3.42 3.42 0 0 0 272.29 71.5ZM271.44 71.57L259.13 72.65A16.63 16.63 0 0 1 259.13 69.75L271.44 70.83A4.28 4.28 0 0 0 271.44 71.57ZM259.13 72.65L255.31 72.98A20.47 20.47 0 0 1 255.31 69.42L259.13 69.75A16.63 16.63 0 0 0 259.13 72.65ZM255.31 72.98L253.19 73.17A22.6 22.6 0 0 1 253.19 69.23L255.31 69.42A20.47 20.47 0 0 0 255.31 72.98ZM272.29 70.9L271.11 70.8A4.61 4.61 0 0 1 271.25 70.01L272.39 70.31A3.42 3.42 0 0 0 272.29 70.9ZM271.11 70.8L254.02 69.3A21.76 21.76 0 0 1 254.68 65.57L271.25 70.01A4.61 4.61 0 0 0 271.11 70.8ZM254.02 69.3L248.72 68.84A27.09 27.09 0 0 1 249.54 64.19L254.68 65.57A21.76 21.76 0 0 0 254.02 69.3ZM248.72 68.84L245.77 68.58A30.04 30.04 0 0 1 246.68 63.42L249.54 64.19A27.09 27.09 0 0 0 248.72 68.84ZM245.77 68.58L244.45 68.47A31.37 31.37 0 0 1 245.4 63.08L246.68 63.42A30.04 30.04 0 0 0 245.77 68.58ZM244.45 68.47L243.77 68.41A32.05 32.05 0 0 1 244.74 62.9L245.4 63.08A31.37 31.37 0 0 0 244.45 68.47ZM243.77 68.41L242.83 68.32A33 33 0 0 1 243.82 62.66L244.74 62.9A32.05 32.05 0 0 0 243.77 68.41ZM272.39 70.31L270.48 69.8A5.41 5.41 0 0 1 270.8 68.91L272.6 69.75A3.42 3.42 0 0 0 272.39 70.31ZM270.48 69.8L242.69 62.35A34.18 34.18 0 0 1 244.72 56.76L270.8 68.91A5.41 5.41 0 0 0 270.48 69.8ZM242.69 62.35L234.06 60.04A43.11 43.11 0 0 1 236.63 52.98L244.72 56.76A34.18 34.18 0 0 0 242.69 62.35ZM234.06 60.04L229.27 58.76A48.07 48.07 0 0 1 232.14 50.89L236.63 52.98A43.11 43.11 0 0 0 234.06 60.04ZM229.27 58.76L227.11 58.18A50.3 50.3 0 0 1 230.11 49.94L232.14 50.89A48.07 48.07 0 0 0 229.27 58.76ZM272.6 69.75L270.94 68.98A5.26 5.26 0 0 1 271.39 68.19L272.89 69.24A3.42 3.42 0 0 0 272.6 69.75ZM270.94 68.98L246.87 57.76A31.81 31.81 0 0 1 249.65 52.96L271.39 68.19A5.26 5.26 0 0 0 270.94 68.98ZM246.87 57.76L239.41 54.28A40.05 40.05 0 0 1 242.9 48.23L249.65 52.96A31.81 31.81 0 0 0 246.87 57.76ZM239.41 54.28L235.26 52.34A44.62 44.62 0 0 1 239.15 45.61L242.9 48.23A40.05 40.05 0 0 0 239.41 54.28ZM235.26 52.34L233.39 51.47A46.68 46.68 0 0 1 237.46 44.42L239.15 45.61A44.62 44.62 0 0 0 235.26 52.34ZM233.39 51.47L232.44 51.03A47.74 47.74 0 0 1 236.6 43.82L237.46 44.42A46.68 46.68 0 0 0 233.39 51.47ZM232.44 51.03L231.11 50.41A49.2 49.2 0 0 1 235.4 42.98L236.6 43.82A47.74 47.74 0 0 0 232.44 51.03ZM272.89 69.24L271.78 68.45A4.79 4.79 0 0 1 272.31 67.81L273.28 68.78A3.42 3.42 0 0 0 272.89 69.24ZM271.78 68.45L255.59 57.12A24.55 24.55 0 0 1 258.34 53.84L272.31 67.81A4.79 4.79 0 0 0 271.78 68.45ZM255.59 57.12L250.56 53.6A30.69 30.69 0 0 1 254 49.5L258.34 53.84A24.55 24.55 0 0 0 255.59 57.12ZM250.56 53.6L247.77 51.65A34.09 34.09 0 0 1 251.59 47.09L254 49.5A30.69 30.69 0 0 0 250.56 53.6ZM247.77 51.65L246.52 50.77A35.63 35.63 0 0 1 250.51 46.01L251.59 47.09A34.09 34.09 0 0 0 247.77 51.65ZM246.52 50.77L245.88 50.32A36.41 36.41 0 0 1 249.95 45.45L250.51 46.01A35.63 35.63 0 0 0 246.52 50.77ZM245.88 50.32L244.98 49.69A37.5 37.5 0 0 1 249.18 44.68L249.95 45.45A36.41 36.41 0 0 0 245.88 50.32ZM273.28 68.78L272.07 67.57A5.13 5.13 0 0 1 272.76 67L273.74 68.39A3.42 3.42 0 0 0 273.28 68.78ZM272.07 67.57L254.61 50.11A29.82 29.82 0 0 1 258.6 46.77L272.76 67A5.13 5.13 0 0 0 272.07 67.57ZM254.61 50.11L249.19 44.69A37.48 37.48 0 0 1 254.2 40.49L258.6 46.77A29.82 29.82 0 0 0 254.61 50.11ZM249.19 44.69L246.18 41.68A41.74 41.74 0 0 1 251.76 37.01L254.2 40.49A37.48 37.48 0 0 0 249.19 44.69ZM246.18 41.68L244.83 40.33A43.66 43.66 0 0 1 250.66 35.44L251.76 37.01A41.74 41.74 0 0 0 246.18 41.68ZM244.83 40.33L244.14 39.64A44.64 44.64 0 0 1 250.1 34.64L250.66 35.44A43.66 43.66 0 0 0 244.83 40.33ZM244.14 39.64L243.17 38.67A46 46 0 0 1 249.32 33.52L250.1 34.64A44.64 44.64 0 0 0 244.14 39.64ZM273.74 68.39L273.27 67.73A4.24 4.24 0 0 1 273.91 67.36L274.25 68.1A3.42 3.42 0 0 0 273.74 68.39ZM273.27 67.73L266.51 58.07A16.03 16.03 0 0 1 268.93 56.67L273.91 67.36A4.24 4.24 0 0 0 273.27 67.73ZM266.51 58.07L264.41 55.07A19.69 19.69 0 0 1 267.38 53.36L268.93 56.67A16.03 16.03 0 0 0 266.51 58.07ZM264.41 55.07L263.24 53.41A21.72 21.72 0 0 1 266.52 51.52L267.38 53.36A19.69 19.69 0 0 0 264.41 55.07ZM263.24 53.41L262.72 52.66A22.63 22.63 0 0 1 266.14 50.69L266.52 51.52A21.72 21.72 0 0 0 263.24 53.41ZM262.72 52.66L262.45 52.28A23.1 23.1 0 0 1 265.94 50.26L266.14 50.69A22.63 22.63 0 0 0 262.72 52.66ZM274.25 68.1L273.77 67.07A4.56 4.56 0 0 1 274.52 66.79L274.81 67.89A3.42 3.42 0 0 0 274.25 68.1ZM273.77 67.07L266.81 52.13A21.04 21.04 0 0 1 270.25 50.87L274.52 66.79A4.56 4.56 0 0 0 273.77 67.07ZM266.81 52.13L264.65 47.49A26.16 26.16 0 0 1 268.93 45.93L270.25 50.87A21.04 21.04 0 0 0 266.81 52.13ZM264.65 47.49L263.44 44.92A29 29 0 0 1 268.19 43.19L268.93 45.93A26.16 26.16 0 0 0 264.65 47.49ZM274.81 67.89L274.5 66.73A4.63 4.63 0 0 1 275.3 66.58L275.4 67.79A3.42 3.42 0 0 0 274.81 67.89ZM274.5 66.73L269.97 49.81A22.15 22.15 0 0 1 273.77 49.14L275.3 66.58A4.63 4.63 0 0 0 274.5 66.73ZM269.97 49.81L268.56 44.56A27.58 27.58 0 0 1 273.3 43.72L273.77 49.14A22.15 22.15 0 0 0 269.97 49.81ZM268.56 44.56L267.78 41.64A30.6 30.6 0 0 1 273.03 40.72L273.3 43.72A27.58 27.58 0 0 0 268.56 44.56Z" fill="none" stroke="#06183c" stroke-opacity="0.42" stroke-width="0.2"/>
<circle cx="275.7" cy="71.2" r="3.42" fill="#fff" stroke="#666" stroke-width="0.4"/>
<text x="275.9" y="72.1" font-size="2.6" text-anchor="middle" fill="#555" stroke="none">0%</text>
<text x="276.2" y="9.37" font-size="4.29" font-weight="bold" text-anchor="middle" fill="#111">Mean Wave Direction</text>
<text x="275.9" y="15.7" font-size="4.67" text-anchor="middle" fill="#222">North</text>
<text x="275.9" y="131.32" font-size="4.67" text-anchor="middle" fill="#222">South</text>
<text x="219.5" y="73.4" font-size="4.67" text-anchor="end" fill="#222">West</text>
<text x="332.4" y="73.4" font-size="4.67" text-anchor="start" fill="#222">East</text>
<text x="287.96" y="83.15" font-size="4.52" fill="#222">2.2%</text>
<text x="296.36" y="88.29" font-size="4.52" fill="#222">4.4%</text>
<text x="305.46" y="93.62" font-size="4.52" fill="#222">6.6%</text>
<text x="314.46" y="98.76" font-size="4.52" fill="#222">8.8%</text>
<text x="323.56" y="103.7" font-size="4.52" fill="#222">11%</text>
<text x="200.3" y="15.9" font-size="3.31" fill="#222">Significant Wave Height - SWH (m)</text>
<rect x="187.9" y="17.5" width="10.94" height="3.01" fill="#f9fb0e"/>
<text x="200.85" y="20.11" font-size="3.31" word-spacing="0.5" fill="#222">SHW ≥ 14</text>
<rect x="187.9" y="22.29" width="10.94" height="3.01" fill="#ffc337"/>
<text x="200.85" y="24.9" font-size="3.31" word-spacing="0.5" fill="#222">12 ≤ SHW &lt; 14</text>
<rect x="187.9" y="27.08" width="10.94" height="3.01" fill="#c0bc60"/>
<text x="200.85" y="29.69" font-size="3.31" word-spacing="0.5" fill="#222">10 ≤ SHW &lt; 12</text>
<rect x="187.9" y="31.87" width="10.94" height="3.01" fill="#65be86"/>
<text x="200.85" y="34.48" font-size="3.31" word-spacing="0.5" fill="#222">8 ≤ SHW &lt; 10</text>
<rect x="187.9" y="36.66" width="10.94" height="3.01" fill="#0faeb9"/>
<text x="200.85" y="39.27" font-size="3.31" word-spacing="0.5" fill="#222">6 ≤ SHW &lt; 8</text>
<rect x="187.9" y="41.45" width="10.94" height="3.01" fill="#108ed2"/>
<text x="200.85" y="44.06" font-size="3.31" word-spacing="0.5" fill="#222">4 ≤ SHW &lt; 6</text>
<rect x="187.9" y="46.24" width="10.94" height="3.01" fill="#0268e1"/>
<text x="200.85" y="48.85" font-size="3.31" word-spacing="0.5" fill="#222">2 ≤ SHW &lt; 4</text>
<rect x="187.9" y="51.03" width="10.94" height="3.01" fill="#352a87"/>
<text x="200.85" y="53.64" font-size="3.31" word-spacing="0.5" fill="#222">0 ≤ SHW &lt; 2</text>
<text x="188.6" y="130.3" font-size="4.6" font-weight="bold" fill="#111">(b) PRIO HFR</text>
</g>
<g>
<circle cx="97.6" cy="208.5" r="13.72" fill="none" stroke="#b4b4b4" stroke-width="0.35"/>
<circle cx="97.6" cy="208.5" r="24.02" fill="none" stroke="#b4b4b4" stroke-width="0.35"/>
<circle cx="97.6" cy="208.5" r="34.31" fill="none" stroke="#b4b4b4" stroke-width="0.35"/>
<circle cx="97.6" cy="208.5" r="44.61" fill="none" stroke="#b4b4b4" stroke-width="0.35"/>
<line x1="97.6" y1="205.07" x2="97.6" y2="153.6" stroke="#b4b4b4" stroke-width="0.35"/>
<line x1="99.32" y1="205.53" x2="125.05" y2="160.96" stroke="#b4b4b4" stroke-width="0.35"/>
<line x1="100.57" y1="206.78" x2="145.14" y2="181.05" stroke="#b4b4b4" stroke-width="0.35"/>
<line x1="101.03" y1="208.5" x2="152.5" y2="208.5" stroke="#b4b4b4" stroke-width="0.35"/>
<line x1="100.57" y1="210.22" x2="145.14" y2="235.95" stroke="#b4b4b4" stroke-width="0.35"/>
<line x1="99.32" y1="211.47" x2="125.05" y2="256.04" stroke="#b4b4b4" stroke-width="0.35"/>
<line x1="97.6" y1="211.93" x2="97.6" y2="263.4" stroke="#b4b4b4" stroke-width="0.35"/>
<line x1="95.88" y1="211.47" x2="70.15" y2="256.04" stroke="#b4b4b4" stroke-width="0.35"/>
<line x1="94.63" y1="210.22" x2="50.06" y2="235.95" stroke="#b4b4b4" stroke-width="0.35"/>
<line x1="94.17" y1="208.5" x2="42.7" y2="208.5" stroke="#b4b4b4" stroke-width="0.35"/>
<line x1="94.63" y1="206.78" x2="50.06" y2="181.05" stroke="#b4b4b4" stroke-width="0.35"/>
<line x1="95.88" y1="205.53" x2="70.15" y2="160.96" stroke="#b4b4b4" stroke-width="0.35"/>
<circle cx="97.6" cy="208.5" r="54.9" fill="none" stroke="#666" stroke-width="0.55"/>
<path d="M97.29 205.08L97.25 204.66A3.86 3.86 0 0 1 97.95 204.66L97.91 205.08A3.43 3.43 0 0 0 97.29 205.08Z" fill="#352a87"/>
<path d="M97.26 204.76L97.06 202.52A6 6 0 0 1 98.14 202.52L97.94 204.76A3.76 3.76 0 0 0 97.26 204.76Z" fill="#1b55d7"/>
<path d="M97.89 205.08L97.93 204.6A3.91 3.91 0 0 1 98.63 204.73L98.5 205.19A3.43 3.43 0 0 0 97.89 205.08Z" fill="#352a87"/>
<path d="M97.92 204.7L98.13 202.22A6.3 6.3 0 0 1 99.25 202.42L98.6 204.82A3.81 3.81 0 0 0 97.92 204.7Z" fill="#1b55d7"/>
<path d="M98.12 202.32L98.35 199.55A8.98 8.98 0 0 1 99.95 199.84L99.23 202.52A6.2 6.2 0 0 0 98.12 202.32Z" fill="#0f77db"/>
<path d="M98.34 199.65L98.5 197.84A10.7 10.7 0 0 1 100.41 198.17L99.93 199.93A8.88 8.88 0 0 0 98.34 199.65Z" fill="#0d93d2"/>
<path d="M98.48 205.18L98.58 204.8A3.83 3.83 0 0 1 99.23 205.03L99.06 205.4A3.43 3.43 0 0 0 98.48 205.18Z" fill="#352a87"/>
<path d="M98.55 204.89L99.09 202.87A5.83 5.83 0 0 1 100.08 203.23L99.19 205.12A3.73 3.73 0 0 0 98.55 204.89Z" fill="#1b55d7"/>
<path d="M99.06 202.96L99.66 200.7A8.06 8.06 0 0 1 101.03 201.2L100.04 203.32A5.73 5.73 0 0 0 99.06 202.96Z" fill="#0f77db"/>
<path d="M99.63 200.8L100.03 199.32A9.5 9.5 0 0 1 101.64 199.9L100.99 201.3A7.96 7.96 0 0 0 99.63 200.8Z" fill="#0d93d2"/>
<path d="M99.04 205.39L99.27 204.89A3.98 3.98 0 0 1 99.89 205.25L99.58 205.7A3.43 3.43 0 0 0 99.04 205.39Z" fill="#352a87"/>
<path d="M99.23 204.98L100.41 202.42A6.7 6.7 0 0 1 101.46 203.03L99.83 205.33A3.88 3.88 0 0 0 99.23 204.98Z" fill="#1b55d7"/>
<path d="M100.37 202.51L101.69 199.66A9.74 9.74 0 0 1 103.22 200.54L101.4 203.11A6.6 6.6 0 0 0 100.37 202.51Z" fill="#0f77db"/>
<path d="M101.64 199.75L102.51 197.88A11.7 11.7 0 0 1 104.34 198.94L103.16 200.62A9.64 9.64 0 0 0 101.64 199.75Z" fill="#0d93d2"/>
<path d="M99.56 205.68L99.71 205.47A3.69 3.69 0 0 1 100.22 205.9L100.03 206.08A3.43 3.43 0 0 0 99.56 205.68Z" fill="#352a87"/>
<path d="M99.65 205.55L100.45 204.39A5 5 0 0 1 101.15 204.98L100.15 205.97A3.59 3.59 0 0 0 99.65 205.55Z" fill="#1b55d7"/>
<path d="M97.91 211.92L97.93 212.18A3.69 3.69 0 0 1 97.27 212.18L97.29 211.92A3.43 3.43 0 0 0 97.91 211.92Z" fill="#352a87"/>
<path d="M97.93 212.08L98.05 213.48A5 5 0 0 1 97.15 213.48L97.27 212.08A3.59 3.59 0 0 0 97.93 212.08Z" fill="#1b55d7"/>
<path d="M97.31 211.92L97.28 212.35A3.86 3.86 0 0 1 96.59 212.22L96.7 211.81A3.43 3.43 0 0 0 97.31 211.92Z" fill="#352a87"/>
<path d="M97.29 212.25L97.1 214.48A6 6 0 0 1 96.03 214.29L96.61 212.13A3.76 3.76 0 0 0 97.29 212.25Z" fill="#1b55d7"/>
<path d="M96.72 211.82L96.59 212.32A3.95 3.95 0 0 1 95.92 212.08L96.14 211.6A3.43 3.43 0 0 0 96.72 211.82Z" fill="#352a87"/>
<path d="M96.62 212.23L95.92 214.85A6.57 6.57 0 0 1 94.8 214.44L95.96 211.99A3.85 3.85 0 0 0 96.62 212.23Z" fill="#1b55d7"/>
<path d="M95.95 214.76L95.17 217.68A9.5 9.5 0 0 1 93.56 217.1L94.85 214.35A6.47 6.47 0 0 0 95.95 214.76Z" fill="#0f77db"/>
<path d="M96.16 211.61L95.92 212.13A3.99 3.99 0 0 1 95.3 211.76L95.62 211.3A3.43 3.43 0 0 0 96.16 211.61Z" fill="#352a87"/>
<path d="M95.97 212.04L94.74 214.69A6.81 6.81 0 0 1 93.67 214.07L95.35 211.68A3.89 3.89 0 0 0 95.97 212.04Z" fill="#1b55d7"/>
<path d="M94.78 214.59L93.42 217.55A9.97 9.97 0 0 1 91.85 216.65L93.73 213.99A6.71 6.71 0 0 0 94.78 214.59Z" fill="#0f77db"/>
<path d="M93.46 217.46L92.57 219.39A12 12 0 0 1 90.68 218.31L91.91 216.57A9.87 9.87 0 0 0 93.46 217.46Z" fill="#0d93d2"/>
<path d="M95.64 211.32L95.21 211.93A4.18 4.18 0 0 1 94.63 211.45L95.17 210.92A3.43 3.43 0 0 0 95.64 211.32Z" fill="#352a87"/>
<path d="M95.27 211.85L93.07 215.02A7.94 7.94 0 0 1 91.97 214.09L94.7 211.38A4.08 4.08 0 0 0 95.27 211.85Z" fill="#1b55d7"/>
<path d="M93.13 214.94L90.67 218.47A12.14 12.14 0 0 1 88.98 217.06L92.04 214.02A7.84 7.84 0 0 0 93.13 214.94Z" fill="#0f77db"/>
<path d="M90.73 218.39L89.13 220.69A14.85 14.85 0 0 1 87.06 218.96L89.05 216.99A12.04 12.04 0 0 0 90.73 218.39Z" fill="#0d93d2"/>
<path d="M89.18 220.61L88.18 222.05A16.5 16.5 0 0 1 85.89 220.13L87.14 218.89A14.75 14.75 0 0 0 89.18 220.61Z" fill="#07aac1"/>
<path d="M95.18 210.93L94.57 211.56A4.31 4.31 0 0 1 94.06 210.96L94.78 210.46A3.43 3.43 0 0 0 95.18 210.93Z" fill="#352a87"/>
<path d="M94.64 211.48L91.48 214.66A8.68 8.68 0 0 1 90.47 213.45L94.15 210.9A4.21 4.21 0 0 0 94.64 211.48Z" fill="#1b55d7"/>
<path d="M91.55 214.59L88.03 218.13A13.58 13.58 0 0 1 86.45 216.25L90.56 213.4A8.58 8.58 0 0 0 91.55 214.59Z" fill="#0f77db"/>
<path d="M88.1 218.06L85.81 220.37A16.73 16.73 0 0 1 83.87 218.05L86.53 216.19A13.48 13.48 0 0 0 88.1 218.06Z" fill="#0d93d2"/>
<path d="M85.88 220.3L84.46 221.73A18.65 18.65 0 0 1 82.29 219.14L83.95 217.99A16.63 16.63 0 0 0 85.88 220.3Z" fill="#07aac1"/>
<path d="M84.53 221.66L83.72 222.48A19.7 19.7 0 0 1 81.42 219.74L82.37 219.09A18.55 18.55 0 0 0 84.53 221.66Z" fill="#33b8a1"/>
<path d="M94.8 210.48L94.05 211A4.34 4.34 0 0 1 93.66 210.32L94.49 209.94A3.43 3.43 0 0 0 94.8 210.48Z" fill="#352a87"/>
<path d="M94.13 210.94L90.33 213.63A8.89 8.89 0 0 1 89.53 212.23L93.75 210.28A4.24 4.24 0 0 0 94.13 210.94Z" fill="#1b55d7"/>
<path d="M90.41 213.57L86.17 216.56A13.99 13.99 0 0 1 84.9 214.37L89.62 212.19A8.79 8.79 0 0 0 90.41 213.57Z" fill="#0f77db"/>
<path d="M86.25 216.51L83.49 218.45A17.27 17.27 0 0 1 81.92 215.74L84.99 214.33A13.89 13.89 0 0 0 86.25 216.51Z" fill="#0d93d2"/>
<path d="M83.57 218.4L81.85 219.61A19.27 19.27 0 0 1 80.11 216.58L82.02 215.7A17.17 17.17 0 0 0 83.57 218.4Z" fill="#07aac1"/>
<path d="M81.93 219.55L80.96 220.24A20.36 20.36 0 0 1 79.12 217.04L80.2 216.54A19.17 19.17 0 0 0 81.93 219.55Z" fill="#33b8a1"/>
<path d="M81.04 220.18L80.44 220.61A21 21 0 0 1 78.54 217.31L79.21 217A20.26 20.26 0 0 0 81.04 220.18Z" fill="#7abf7c"/>
<path d="M94.5 209.96L93.56 210.4A4.46 4.46 0 0 1 93.29 209.64L94.28 209.38A3.43 3.43 0 0 0 94.5 209.96Z" fill="#352a87"/>
<path d="M93.66 210.36L88.91 212.59A9.6 9.6 0 0 1 88.32 210.95L93.38 209.61A4.36 4.36 0 0 0 93.66 210.36Z" fill="#1b55d7"/>
<path d="M89 212.55L83.7 215.04A15.36 15.36 0 0 1 82.75 212.42L88.41 210.93A9.5 9.5 0 0 0 89 212.55Z" fill="#0f77db"/>
<path d="M83.79 215L80.35 216.62A19.06 19.06 0 0 1 79.17 213.37L82.85 212.4A15.26 15.26 0 0 0 83.79 215Z" fill="#0d93d2"/>
<path d="M80.44 216.57L78.3 217.58A21.33 21.33 0 0 1 76.98 213.95L79.27 213.34A18.96 18.96 0 0 0 80.44 216.57Z" fill="#07aac1"/>
<path d="M78.39 217.54L77.19 218.11A22.56 22.56 0 0 1 75.79 214.26L77.08 213.92A21.23 21.23 0 0 0 78.39 217.54Z" fill="#33b8a1"/>
<path d="M77.28 218.06L76.54 218.41A23.28 23.28 0 0 1 75.09 214.45L75.88 214.24A22.46 22.46 0 0 0 77.28 218.06Z" fill="#7abf7c"/>
<path d="M76.63 218.37L76.26 218.54A23.59 23.59 0 0 1 74.79 214.53L75.19 214.42A23.18 23.18 0 0 0 76.63 218.37Z" fill="#b8bd63"/>
<path d="M76.35 218.5L76.07 218.63A23.79 23.79 0 0 1 74.6 214.58L74.89 214.5A23.49 23.49 0 0 0 76.35 218.5Z" fill="#ecb94c"/>
<path d="M76.16 218.59L75.88 218.72A24 24 0 0 1 74.4 214.63L74.69 214.55A23.69 23.69 0 0 0 76.16 218.59Z" fill="#fad12b"/>
<path d="M94.29 209.4L93.5 209.61A4.25 4.25 0 0 1 93.36 208.86L94.18 208.79A3.43 3.43 0 0 0 94.29 209.4Z" fill="#352a87"/>
<path d="M93.59 209.59L89.54 210.69A8.35 8.35 0 0 1 89.28 209.2L93.46 208.85A4.15 4.15 0 0 0 93.59 209.59Z" fill="#1b55d7"/>
<path d="M89.64 210.66L85.11 211.89A12.94 12.94 0 0 1 84.7 209.58L89.38 209.19A8.25 8.25 0 0 0 89.64 210.66Z" fill="#0f77db"/>
<path d="M85.21 211.87L82.26 212.67A15.89 15.89 0 0 1 81.76 209.83L84.8 209.57A12.84 12.84 0 0 0 85.21 211.87Z" fill="#0d93d2"/>
<path d="M82.36 212.64L80.52 213.14A17.7 17.7 0 0 1 79.97 209.98L81.86 209.82A15.79 15.79 0 0 0 82.36 212.64Z" fill="#07aac1"/>
<path d="M80.62 213.11L79.57 213.4A18.68 18.68 0 0 1 78.99 210.06L80.07 209.97A17.6 17.6 0 0 0 80.62 213.11Z" fill="#33b8a1"/>
<path d="M79.67 213.37L79.02 213.55A19.25 19.25 0 0 1 78.41 210.11L79.08 210.05A18.58 18.58 0 0 0 79.67 213.37Z" fill="#7abf7c"/>
<path d="M79.12 213.52L78.78 213.61A19.5 19.5 0 0 1 78.17 210.13L78.51 210.1A19.15 19.15 0 0 0 79.12 213.52Z" fill="#b8bd63"/>
<path d="M94.18 208.81L93.41 208.88A4.21 4.21 0 0 1 93.41 208.12L94.18 208.19A3.43 3.43 0 0 0 94.18 208.81Z" fill="#352a87"/>
<path d="M93.51 208.87L89.53 209.23A8.11 8.11 0 0 1 89.53 207.77L93.51 208.13A4.11 4.11 0 0 0 93.51 208.87Z" fill="#1b55d7"/>
<path d="M89.63 209.23L85.18 209.63A12.47 12.47 0 0 1 85.18 207.37L89.63 207.77A8.01 8.01 0 0 0 89.63 209.23Z" fill="#0f77db"/>
<path d="M85.28 209.62L82.39 209.88A15.27 15.27 0 0 1 82.39 207.12L85.28 207.38A12.37 12.37 0 0 0 85.28 209.62Z" fill="#0d93d2"/>
<path d="M82.49 209.88L80.68 210.04A16.99 16.99 0 0 1 80.68 206.96L82.49 207.12A15.17 15.17 0 0 0 82.49 209.88Z" fill="#07aac1"/>
<path d="M80.78 210.03L79.75 210.12A17.92 17.92 0 0 1 79.75 206.88L80.78 206.97A16.89 16.89 0 0 0 80.78 210.03Z" fill="#33b8a1"/>
<path d="M79.85 210.12L79.21 210.17A18.47 18.47 0 0 1 79.21 206.83L79.85 206.88A17.82 17.82 0 0 0 79.85 210.12Z" fill="#7abf7c"/>
<path d="M79.31 210.16L78.98 210.19A18.7 18.7 0 0 1 78.98 206.81L79.31 206.84A18.37 18.37 0 0 0 79.31 210.16Z" fill="#b8bd63"/>
<path d="M94.18 208.21L88.63 207.75A9 9 0 0 1 88.91 206.14L94.29 207.6A3.43 3.43 0 0 0 94.18 208.21Z" fill="#352a87"/>
<path d="M88.73 207.76L85.64 207.5A12 12 0 0 1 86.02 205.35L89.01 206.17A8.9 8.9 0 0 0 88.73 207.76Z" fill="#1b55d7"/>
<path d="M85.74 207.5L82.65 207.24A15 15 0 0 1 83.12 204.57L86.12 205.38A11.9 11.9 0 0 0 85.74 207.5Z" fill="#0f77db"/>
<path d="M82.75 207.25L80.66 207.08A17 17 0 0 1 81.19 204.04L83.22 204.59A14.9 14.9 0 0 0 82.75 207.25Z" fill="#0d93d2"/>
<path d="M80.76 207.09L78.97 206.94A18.7 18.7 0 0 1 79.55 203.6L81.29 204.07A16.9 16.9 0 0 0 80.76 207.09Z" fill="#07aac1"/>
<path d="M79.07 206.94L77.67 206.83A20 20 0 0 1 78.3 203.26L79.65 203.62A18.6 18.6 0 0 0 79.07 206.94Z" fill="#33b8a1"/>
<path d="M77.77 206.83L76.67 206.74A21 21 0 0 1 77.33 202.99L78.4 203.28A19.9 19.9 0 0 0 77.77 206.83Z" fill="#7abf7c"/>
<path d="M94.28 207.62L88.9 206.2A9 9 0 0 1 89.46 204.67L94.5 207.04A3.43 3.43 0 0 0 94.28 207.62Z" fill="#352a87"/>
<path d="M89 206.23L84.06 204.92A14 14 0 0 1 84.93 202.54L89.55 204.71A8.9 8.9 0 0 0 89 206.23Z" fill="#1b55d7"/>
<path d="M84.16 204.95L76.81 203.01A21.5 21.5 0 0 1 78.15 199.35L85.02 202.58A13.9 13.9 0 0 0 84.16 204.95Z" fill="#0f77db"/>
<path d="M76.91 203.03L71.98 201.73A26.5 26.5 0 0 1 73.62 197.22L78.24 199.39A21.4 21.4 0 0 0 76.91 203.03Z" fill="#0d93d2"/>
<path d="M72.08 201.76L68.6 200.84A30 30 0 0 1 70.46 195.73L73.71 197.26A26.4 26.4 0 0 0 72.08 201.76Z" fill="#07aac1"/>
<path d="M68.69 200.86L65.69 200.07A33 33 0 0 1 67.74 194.45L70.55 195.77A29.9 29.9 0 0 0 68.69 200.86Z" fill="#33b8a1"/>
<path d="M94.49 207.06L92.15 205.98A6 6 0 0 1 92.7 205.04L94.8 206.52A3.43 3.43 0 0 0 94.49 207.06Z" fill="#352a87"/>
<path d="M92.24 206.03L80.35 200.53A19 19 0 0 1 82.07 197.55L92.78 205.1A5.9 5.9 0 0 0 92.24 206.03Z" fill="#1b55d7"/>
<path d="M80.44 200.57L68.55 195.08A32 32 0 0 1 71.45 190.05L82.16 197.61A18.9 18.9 0 0 0 80.44 200.57Z" fill="#0f77db"/>
<path d="M68.64 195.12L61.29 191.72A40 40 0 0 1 64.91 185.44L71.53 190.11A31.9 31.9 0 0 0 68.64 195.12Z" fill="#0d93d2"/>
<path d="M61.38 191.76L55.39 189A46.5 46.5 0 0 1 59.6 181.7L65 185.5A39.9 39.9 0 0 0 61.38 191.76Z" fill="#07aac1"/>
<path d="M55.48 189.04L51.3 187.11A51 51 0 0 1 55.93 179.1L59.68 181.75A46.4 46.4 0 0 0 55.48 189.04Z" fill="#33b8a1"/>
<path d="M51.39 187.15L50.85 186.9A51.5 51.5 0 0 1 55.52 178.81L56.01 179.16A50.9 50.9 0 0 0 51.39 187.15Z" fill="#7abf7c"/>
<path d="M94.78 206.54L92.9 205.24A5.72 5.72 0 0 1 93.57 204.44L95.18 206.07A3.43 3.43 0 0 0 94.78 206.54Z" fill="#352a87"/>
<path d="M92.99 205.29L83.51 198.7A17.16 17.16 0 0 1 85.51 196.32L93.64 204.51A5.62 5.62 0 0 0 92.99 205.29Z" fill="#1b55d7"/>
<path d="M83.59 198.76L72.98 191.39A29.98 29.98 0 0 1 76.48 187.23L85.58 196.39A17.06 17.06 0 0 0 83.59 198.76Z" fill="#0f77db"/>
<path d="M73.06 191.45L66.22 186.69A38.22 38.22 0 0 1 70.67 181.38L76.55 187.3A29.88 29.88 0 0 0 73.06 191.45Z" fill="#0d93d2"/>
<path d="M66.3 186.75L62.08 183.81A43.25 43.25 0 0 1 67.12 177.81L70.74 181.45A38.12 38.12 0 0 0 66.3 186.75Z" fill="#07aac1"/>
<path d="M62.16 183.87L59.83 182.25A46 46 0 0 1 65.19 175.86L67.19 177.88A43.15 43.15 0 0 0 62.16 183.87Z" fill="#33b8a1"/>
<path d="M95.17 206.08L93.7 204.62A5.5 5.5 0 0 1 94.46 203.98L95.64 205.68A3.43 3.43 0 0 0 95.17 206.08Z" fill="#352a87"/>
<path d="M93.77 204.69L86.96 197.93A15 15 0 0 1 89.04 196.18L94.52 204.07A5.4 5.4 0 0 0 93.77 204.69Z" fill="#1b55d7"/>
<path d="M87.03 198L79.86 190.88A25 25 0 0 1 83.33 187.97L89.1 196.26A14.9 14.9 0 0 0 87.03 198Z" fill="#0f77db"/>
<path d="M79.93 190.95L75.6 186.66A31 31 0 0 1 79.91 183.04L83.39 188.05A24.9 24.9 0 0 0 79.93 190.95Z" fill="#0d93d2"/>
<path d="M75.67 186.73L72.77 183.84A35 35 0 0 1 77.63 179.76L79.96 183.13A30.9 30.9 0 0 0 75.67 186.73Z" fill="#07aac1"/>
<path d="M72.84 183.91L71.7 182.78A36.5 36.5 0 0 1 76.77 178.53L77.68 179.84A34.9 34.9 0 0 0 72.84 183.91Z" fill="#33b8a1"/>
<path d="M71.77 182.85L70.99 182.08A37.5 37.5 0 0 1 76.2 177.71L76.83 178.61A36.4 36.4 0 0 0 71.77 182.85Z" fill="#7abf7c"/>
<path d="M71.06 182.15L70.42 181.51A38.3 38.3 0 0 1 75.74 177.05L76.26 177.79A37.4 37.4 0 0 0 71.06 182.15Z" fill="#b8bd63"/>
<path d="M70.49 181.58L68.86 179.96A40.5 40.5 0 0 1 74.49 175.24L75.8 177.13A38.2 38.2 0 0 0 70.49 181.58Z" fill="#fad12b"/>
<path d="M95.62 205.7L94.72 204.41A5 5 0 0 1 95.5 203.96L96.16 205.39A3.43 3.43 0 0 0 95.62 205.7Z" fill="#352a87"/>
<path d="M94.78 204.5L91.26 199.51A11 11 0 0 1 92.99 198.51L95.54 204.05A4.9 4.9 0 0 0 94.78 204.5Z" fill="#1b55d7"/>
<path d="M91.32 199.59L87.8 194.61A17 17 0 0 1 90.47 193.07L93.03 198.61A10.9 10.9 0 0 0 91.32 199.59Z" fill="#0f77db"/>
<path d="M87.86 194.69L85.49 191.34A21 21 0 0 1 88.79 189.44L90.51 193.16A16.9 16.9 0 0 0 87.86 194.69Z" fill="#0d93d2"/>
<path d="M85.55 191.42L84.05 189.3A23.5 23.5 0 0 1 87.74 187.17L88.83 189.53A20.9 20.9 0 0 0 85.55 191.42Z" fill="#07aac1"/>
<path d="M84.11 189.38L83.48 188.48A24.5 24.5 0 0 1 87.32 186.26L87.78 187.26A23.4 23.4 0 0 0 84.11 189.38Z" fill="#33b8a1"/>
<path d="M83.54 188.56L83.02 187.83A25.3 25.3 0 0 1 86.99 185.53L87.37 186.35A24.4 24.4 0 0 0 83.54 188.56Z" fill="#b8bd63"/>
<path d="M83.07 187.91L82.32 186.85A26.5 26.5 0 0 1 86.48 184.44L87.03 185.62A25.2 25.2 0 0 0 83.07 187.91Z" fill="#fad12b"/>
<path d="M96.14 205.4L95.96 205A3.86 3.86 0 0 1 96.61 204.76L96.72 205.18A3.43 3.43 0 0 0 96.14 205.4Z" fill="#352a87"/>
<path d="M96 205.09L95.04 203.05A6.02 6.02 0 0 1 96.06 202.68L96.64 204.86A3.76 3.76 0 0 0 96 205.09Z" fill="#1b55d7"/>
<path d="M95.08 203.14L94 200.86A8.44 8.44 0 0 1 95.44 200.34L96.09 202.77A5.92 5.92 0 0 0 95.08 203.14Z" fill="#0f77db"/>
<path d="M94.05 200.95L93.34 199.45A10 10 0 0 1 95.05 198.83L95.47 200.43A8.34 8.34 0 0 0 94.05 200.95Z" fill="#0d93d2"/>
<path d="M96.7 205.19L96.56 204.68A3.95 3.95 0 0 1 97.27 204.56L97.31 205.08A3.43 3.43 0 0 0 96.7 205.19Z" fill="#352a87"/>
<path d="M96.59 204.78L95.88 202.16A6.57 6.57 0 0 1 97.05 201.95L97.28 204.66A3.85 3.85 0 0 0 96.59 204.78Z" fill="#1b55d7"/>
<path d="M95.9 202.26L95.11 199.33A9.5 9.5 0 0 1 96.81 199.03L97.06 202.05A6.47 6.47 0 0 0 95.9 202.26Z" fill="#0f77db"/>
<path d="M97.3 205.08L97.26 204.66A3.86 3.86 0 0 1 97.94 204.66L97.9 205.08A3.43 3.43 0 0 0 97.3 205.08ZM97.26 204.66L97.08 202.52A6 6 0 0 1 98.12 202.52L97.94 204.66A3.86 3.86 0 0 0 97.26 204.66ZM97.9 205.08L97.94 204.61A3.91 3.91 0 0 1 98.61 204.72L98.49 205.19A3.43 3.43 0 0 0 97.9 205.08ZM97.94 204.61L98.15 202.22A6.3 6.3 0 0 1 99.23 202.41L98.61 204.72A3.91 3.91 0 0 0 97.94 204.61ZM98.15 202.22L98.38 199.56A8.98 8.98 0 0 1 99.92 199.83L99.23 202.41A6.3 6.3 0 0 0 98.15 202.22ZM98.38 199.56L98.53 197.84A10.7 10.7 0 0 1 100.37 198.16L99.92 199.83A8.98 8.98 0 0 0 98.38 199.56ZM98.49 205.19L98.59 204.8A3.83 3.83 0 0 1 99.22 205.03L99.05 205.39A3.43 3.43 0 0 0 98.49 205.19ZM98.59 204.8L99.11 202.87A5.83 5.83 0 0 1 100.06 203.22L99.22 205.03A3.83 3.83 0 0 0 98.59 204.8ZM99.11 202.87L99.69 200.71A8.06 8.06 0 0 1 101.01 201.19L100.06 203.22A5.83 5.83 0 0 0 99.11 202.87ZM99.69 200.71L100.06 199.32A9.5 9.5 0 0 1 101.61 199.89L101.01 201.19A8.06 8.06 0 0 0 99.69 200.71ZM99.05 205.39L99.28 204.9A3.98 3.98 0 0 1 99.88 205.24L99.57 205.69A3.43 3.43 0 0 0 99.05 205.39ZM99.28 204.9L100.43 202.43A6.7 6.7 0 0 1 101.44 203.02L99.88 205.24A3.98 3.98 0 0 0 99.28 204.9ZM100.43 202.43L101.72 199.67A9.74 9.74 0 0 1 103.19 200.52L101.44 203.02A6.7 6.7 0 0 0 100.43 202.43ZM101.72 199.67L102.54 197.9A11.7 11.7 0 0 1 104.31 198.92L103.19 200.52A9.74 9.74 0 0 0 101.72 199.67ZM99.57 205.69L99.72 205.48A3.69 3.69 0 0 1 100.21 205.89L100.03 206.07A3.43 3.43 0 0 0 99.57 205.69ZM99.72 205.48L100.47 204.4A5 5 0 0 1 101.14 204.96L100.21 205.89A3.69 3.69 0 0 0 99.72 205.48ZM97.9 211.92L97.92 212.18A3.69 3.69 0 0 1 97.28 212.18L97.3 211.92A3.43 3.43 0 0 0 97.9 211.92ZM97.92 212.18L98.04 213.48A5 5 0 0 1 97.16 213.48L97.28 212.18A3.69 3.69 0 0 0 97.92 212.18ZM97.3 211.92L97.26 212.34A3.86 3.86 0 0 1 96.6 212.23L96.71 211.81A3.43 3.43 0 0 0 97.3 211.92ZM97.26 212.34L97.08 214.48A6 6 0 0 1 96.05 214.3L96.6 212.23A3.86 3.86 0 0 0 97.26 212.34ZM96.71 211.81L96.58 212.32A3.95 3.95 0 0 1 95.93 212.08L96.15 211.61A3.43 3.43 0 0 0 96.71 211.81ZM96.58 212.32L95.9 214.85A6.57 6.57 0 0 1 94.82 214.45L95.93 212.08A3.95 3.95 0 0 0 96.58 212.32ZM95.9 214.85L95.14 217.68A9.5 9.5 0 0 1 93.59 217.11L94.82 214.45A6.57 6.57 0 0 0 95.9 214.85ZM96.15 211.61L95.91 212.12A3.99 3.99 0 0 1 95.31 211.77L95.63 211.31A3.43 3.43 0 0 0 96.15 211.61ZM95.91 212.12L94.72 214.68A6.81 6.81 0 0 1 93.69 214.08L95.31 211.77A3.99 3.99 0 0 0 95.91 212.12ZM94.72 214.68L93.39 217.54A9.97 9.97 0 0 1 91.88 216.67L93.69 214.08A6.81 6.81 0 0 0 94.72 214.68ZM93.39 217.54L92.53 219.38A12 12 0 0 1 90.72 218.33L91.88 216.67A9.97 9.97 0 0 0 93.39 217.54ZM95.63 211.31L95.2 211.93A4.18 4.18 0 0 1 94.64 211.46L95.17 210.93A3.43 3.43 0 0 0 95.63 211.31ZM95.2 211.93L93.05 215A7.94 7.94 0 0 1 91.99 214.11L94.64 211.46A4.18 4.18 0 0 0 95.2 211.93ZM93.05 215L90.63 218.45A12.14 12.14 0 0 1 89.01 217.09L91.99 214.11A7.94 7.94 0 0 0 93.05 215ZM90.63 218.45L89.08 220.66A14.85 14.85 0 0 1 87.1 219L89.01 217.09A12.14 12.14 0 0 0 90.63 218.45ZM89.08 220.66L88.14 222.02A16.5 16.5 0 0 1 85.93 220.17L87.1 219A14.85 14.85 0 0 0 89.08 220.66ZM95.17 210.93L94.56 211.54A4.31 4.31 0 0 1 94.07 210.97L94.79 210.47A3.43 3.43 0 0 0 95.17 210.93ZM94.56 211.54L91.46 214.64A8.68 8.68 0 0 1 90.49 213.48L94.07 210.97A4.31 4.31 0 0 0 94.56 211.54ZM91.46 214.64L88 218.1A13.58 13.58 0 0 1 86.48 216.29L90.49 213.48A8.68 8.68 0 0 0 91.46 214.64ZM88 218.1L85.77 220.33A16.73 16.73 0 0 1 83.9 218.09L86.48 216.29A13.58 13.58 0 0 0 88 218.1ZM85.77 220.33L84.41 221.69A18.65 18.65 0 0 1 82.32 219.2L83.9 218.09A16.73 16.73 0 0 0 85.77 220.33ZM84.41 221.69L83.67 222.43A19.7 19.7 0 0 1 81.46 219.8L82.32 219.2A18.65 18.65 0 0 0 84.41 221.69ZM94.79 210.47L94.04 210.99A4.34 4.34 0 0 1 93.67 210.33L94.49 209.95A3.43 3.43 0 0 0 94.79 210.47ZM94.04 210.99L90.32 213.6A8.89 8.89 0 0 1 89.54 212.26L93.67 210.33A4.34 4.34 0 0 0 94.04 210.99ZM90.32 213.6L86.14 216.52A13.99 13.99 0 0 1 84.92 214.41L89.54 212.26A8.89 8.89 0 0 0 90.32 213.6ZM86.14 216.52L83.46 218.4A17.27 17.27 0 0 1 81.95 215.8L84.92 214.41A13.99 13.99 0 0 0 86.14 216.52ZM83.46 218.4L81.81 219.55A19.27 19.27 0 0 1 80.14 216.64L81.95 215.8A17.27 17.27 0 0 0 83.46 218.4ZM81.81 219.55L80.92 220.18A20.36 20.36 0 0 1 79.15 217.11L80.14 216.64A19.27 19.27 0 0 0 81.81 219.55ZM80.92 220.18L80.4 220.55A21 21 0 0 1 78.57 217.37L79.15 217.11A20.36 20.36 0 0 0 80.92 220.18ZM94.49 209.95L93.56 210.38A4.46 4.46 0 0 1 93.29 209.65L94.29 209.39A3.43 3.43 0 0 0 94.49 209.95ZM93.56 210.38L88.9 212.56A9.6 9.6 0 0 1 88.33 210.99L93.29 209.65A4.46 4.46 0 0 0 93.56 210.38ZM88.9 212.56L83.68 214.99A15.36 15.36 0 0 1 82.76 212.48L88.33 210.99A9.6 9.6 0 0 0 88.9 212.56ZM83.68 214.99L80.32 216.56A19.06 19.06 0 0 1 79.19 213.43L82.76 212.48A15.36 15.36 0 0 0 83.68 214.99ZM80.32 216.56L78.27 217.51A21.33 21.33 0 0 1 77 214.02L79.19 213.43A19.06 19.06 0 0 0 80.32 216.56ZM78.27 217.51L77.15 218.03A22.56 22.56 0 0 1 75.81 214.34L77 214.02A21.33 21.33 0 0 0 78.27 217.51ZM77.15 218.03L76.5 218.34A23.28 23.28 0 0 1 75.11 214.53L75.81 214.34A22.56 22.56 0 0 0 77.15 218.03ZM76.5 218.34L76.22 218.47A23.59 23.59 0 0 1 74.82 214.61L75.11 214.53A23.28 23.28 0 0 0 76.5 218.34ZM76.22 218.47L76.04 218.56A23.79 23.79 0 0 1 74.62 214.66L74.82 214.61A23.59 23.59 0 0 0 76.22 218.47ZM76.04 218.56L75.85 218.64A24 24 0 0 1 74.42 214.71L74.62 214.66A23.79 23.79 0 0 0 76.04 218.56ZM94.29 209.39L93.49 209.6A4.25 4.25 0 0 1 93.37 208.87L94.18 208.8A3.43 3.43 0 0 0 94.29 209.39ZM93.49 209.6L89.53 210.66A8.35 8.35 0 0 1 89.28 209.23L93.37 208.87A4.25 4.25 0 0 0 93.49 209.6ZM89.53 210.66L85.1 211.85A12.94 12.94 0 0 1 84.71 209.63L89.28 209.23A8.35 8.35 0 0 0 89.53 210.66ZM85.1 211.85L82.25 212.61A15.89 15.89 0 0 1 81.77 209.89L84.71 209.63A12.94 12.94 0 0 0 85.1 211.85ZM82.25 212.61L80.51 213.08A17.7 17.7 0 0 1 79.97 210.04L81.77 209.89A15.89 15.89 0 0 0 82.25 212.61ZM80.51 213.08L79.56 213.33A18.68 18.68 0 0 1 78.99 210.13L79.97 210.04A17.7 17.7 0 0 0 80.51 213.08ZM79.56 213.33L79 213.48A19.25 19.25 0 0 1 78.42 210.18L78.99 210.13A18.68 18.68 0 0 0 79.56 213.33ZM79 213.48L78.76 213.55A19.5 19.5 0 0 1 78.17 210.2L78.42 210.18A19.25 19.25 0 0 0 79 213.48ZM94.18 208.8L93.41 208.87A4.21 4.21 0 0 1 93.41 208.13L94.18 208.2A3.43 3.43 0 0 0 94.18 208.8ZM93.41 208.87L89.53 209.21A8.11 8.11 0 0 1 89.53 207.79L93.41 208.13A4.21 4.21 0 0 0 93.41 208.87ZM89.53 209.21L85.18 209.59A12.47 12.47 0 0 1 85.18 207.41L89.53 207.79A8.11 8.11 0 0 0 89.53 209.21ZM85.18 209.59L82.39 209.83A15.27 15.27 0 0 1 82.39 207.17L85.18 207.41A12.47 12.47 0 0 0 85.18 209.59ZM82.39 209.83L80.68 209.98A16.99 16.99 0 0 1 80.68 207.02L82.39 207.17A15.27 15.27 0 0 0 82.39 209.83ZM80.68 209.98L79.75 210.06A17.92 17.92 0 0 1 79.75 206.94L80.68 207.02A16.99 16.99 0 0 0 80.68 209.98ZM79.75 210.06L79.2 210.11A18.47 18.47 0 0 1 79.2 206.89L79.75 206.94A17.92 17.92 0 0 0 79.75 210.06ZM79.2 210.11L78.97 210.13A18.7 18.7 0 0 1 78.97 206.87L79.2 206.89A18.47 18.47 0 0 0 79.2 210.11ZM94.18 208.2L88.63 207.72A9 9 0 0 1 88.91 206.17L94.29 207.61A3.43 3.43 0 0 0 94.18 208.2ZM88.63 207.72L85.65 207.45A12 12 0 0 1 86.01 205.39L88.91 206.17A9 9 0 0 0 88.63 207.72ZM85.65 207.45L82.66 207.19A15 15 0 0 1 83.11 204.62L86.01 205.39A12 12 0 0 0 85.65 207.45ZM82.66 207.19L80.66 207.02A17 17 0 0 1 81.18 204.1L83.11 204.62A15 15 0 0 0 82.66 207.19ZM80.66 207.02L78.97 206.87A18.7 18.7 0 0 1 79.54 203.66L81.18 204.1A17 17 0 0 0 80.66 207.02ZM78.97 206.87L77.68 206.76A20 20 0 0 1 78.28 203.32L79.54 203.66A18.7 18.7 0 0 0 78.97 206.87ZM77.68 206.76L76.68 206.67A21 21 0 0 1 77.32 203.06L78.28 203.32A20 20 0 0 0 77.68 206.76ZM94.29 207.61L88.91 206.17A9 9 0 0 1 89.44 204.7L94.49 207.05A3.43 3.43 0 0 0 94.29 207.61ZM88.91 206.17L84.08 204.88A14 14 0 0 1 84.91 202.58L89.44 204.7A9 9 0 0 0 88.91 206.17ZM84.08 204.88L76.83 202.94A21.5 21.5 0 0 1 78.11 199.41L84.91 202.58A14 14 0 0 0 84.08 204.88ZM76.83 202.94L72 201.64A26.5 26.5 0 0 1 73.58 197.3L78.11 199.41A21.5 21.5 0 0 0 76.83 202.94ZM72 201.64L68.62 200.74A30 30 0 0 1 70.41 195.82L73.58 197.3A26.5 26.5 0 0 0 72 201.64ZM68.62 200.74L65.72 199.96A33 33 0 0 1 67.69 194.55L70.41 195.82A30 30 0 0 0 68.62 200.74ZM94.49 207.05L92.16 205.96A6 6 0 0 1 92.69 205.06L94.79 206.53A3.43 3.43 0 0 0 94.49 207.05ZM92.16 205.96L80.38 200.47A19 19 0 0 1 82.04 197.6L92.69 205.06A6 6 0 0 0 92.16 205.96ZM80.38 200.47L68.6 194.98A32 32 0 0 1 71.39 190.15L82.04 197.6A19 19 0 0 0 80.38 200.47ZM68.6 194.98L61.35 191.6A40 40 0 0 1 64.83 185.56L71.39 190.15A32 32 0 0 0 68.6 194.98ZM61.35 191.6L55.46 188.85A46.5 46.5 0 0 1 59.51 181.83L64.83 185.56A40 40 0 0 0 61.35 191.6ZM55.46 188.85L51.38 186.95A51 51 0 0 1 55.82 179.25L59.51 181.83A46.5 46.5 0 0 0 55.46 188.85ZM51.38 186.95L50.93 186.74A51.5 51.5 0 0 1 55.41 178.96L55.82 179.25A51 51 0 0 0 51.38 186.95ZM94.79 206.53L92.91 205.22A5.72 5.72 0 0 1 93.56 204.46L95.17 206.07A3.43 3.43 0 0 0 94.79 206.53ZM92.91 205.22L83.54 198.66A17.16 17.16 0 0 1 85.46 196.36L93.56 204.46A5.72 5.72 0 0 0 92.91 205.22ZM83.54 198.66L73.04 191.3A29.98 29.98 0 0 1 76.4 187.3L85.46 196.36A17.16 17.16 0 0 0 83.54 198.66ZM73.04 191.3L66.29 186.58A38.22 38.22 0 0 1 70.58 181.48L76.4 187.3A29.98 29.98 0 0 0 73.04 191.3ZM66.29 186.58L62.17 183.69A43.25 43.25 0 0 1 67.02 177.92L70.58 181.48A38.22 38.22 0 0 0 66.29 186.58ZM62.17 183.69L59.92 182.12A46 46 0 0 1 65.07 175.97L67.02 177.92A43.25 43.25 0 0 0 62.17 183.69ZM95.17 206.07L93.71 204.61A5.5 5.5 0 0 1 94.45 203.99L95.63 205.69A3.43 3.43 0 0 0 95.17 206.07ZM93.71 204.61L86.99 197.89A15 15 0 0 1 89 196.21L94.45 203.99A5.5 5.5 0 0 0 93.71 204.61ZM86.99 197.89L79.92 190.82A25 25 0 0 1 83.26 188.02L89 196.21A15 15 0 0 0 86.99 197.89ZM79.92 190.82L75.68 186.58A31 31 0 0 1 79.82 183.11L83.26 188.02A25 25 0 0 0 79.92 190.82ZM75.68 186.58L72.85 183.75A35 35 0 0 1 77.52 179.83L79.82 183.11A31 31 0 0 0 75.68 186.58ZM72.85 183.75L71.79 182.69A36.5 36.5 0 0 1 76.66 178.6L77.52 179.83A35 35 0 0 0 72.85 183.75ZM71.79 182.69L71.08 181.98A37.5 37.5 0 0 1 76.09 177.78L76.66 178.6A36.5 36.5 0 0 0 71.79 182.69ZM71.08 181.98L70.52 181.42A38.3 38.3 0 0 1 75.63 177.13L76.09 177.78A37.5 37.5 0 0 0 71.08 181.98ZM70.52 181.42L68.96 179.86A40.5 40.5 0 0 1 74.37 175.32L75.63 177.13A38.3 38.3 0 0 0 70.52 181.42ZM95.63 205.69L94.73 204.4A5 5 0 0 1 95.49 203.97L96.15 205.39A3.43 3.43 0 0 0 95.63 205.69ZM94.73 204.4L91.29 199.49A11 11 0 0 1 92.95 198.53L95.49 203.97A5 5 0 0 0 94.73 204.4ZM91.29 199.49L87.85 194.57A17 17 0 0 1 90.42 193.09L92.95 198.53A11 11 0 0 0 91.29 199.49ZM87.85 194.57L85.55 191.3A21 21 0 0 1 88.73 189.47L90.42 193.09A17 17 0 0 0 87.85 194.57ZM85.55 191.3L84.12 189.25A23.5 23.5 0 0 1 87.67 187.2L88.73 189.47A21 21 0 0 0 85.55 191.3ZM84.12 189.25L83.55 188.43A24.5 24.5 0 0 1 87.25 186.3L87.67 187.2A23.5 23.5 0 0 0 84.12 189.25ZM83.55 188.43L83.09 187.78A25.3 25.3 0 0 1 86.91 185.57L87.25 186.3A24.5 24.5 0 0 0 83.55 188.43ZM83.09 187.78L82.4 186.79A26.5 26.5 0 0 1 86.4 184.48L86.91 185.57A25.3 25.3 0 0 0 83.09 187.78ZM96.15 205.39L95.97 205A3.86 3.86 0 0 1 96.6 204.77L96.71 205.19A3.43 3.43 0 0 0 96.15 205.39ZM95.97 205L95.05 203.04A6.02 6.02 0 0 1 96.04 202.68L96.6 204.77A3.86 3.86 0 0 0 95.97 205ZM95.05 203.04L94.03 200.85A8.44 8.44 0 0 1 95.41 200.34L96.04 202.68A6.02 6.02 0 0 0 95.05 203.04ZM94.03 200.85L93.37 199.44A10 10 0 0 1 95.01 198.84L95.41 200.34A8.44 8.44 0 0 0 94.03 200.85ZM96.71 205.19L96.58 204.68A3.95 3.95 0 0 1 97.26 204.56L97.3 205.08A3.43 3.43 0 0 0 96.71 205.19ZM96.58 204.68L95.9 202.15A6.57 6.57 0 0 1 97.03 201.95L97.26 204.56A3.95 3.95 0 0 0 96.58 204.68ZM95.9 202.15L95.14 199.32A9.5 9.5 0 0 1 96.77 199.04L97.03 201.95A6.57 6.57 0 0 0 95.9 202.15Z" fill="none" stroke="#06183c" stroke-opacity="0.42" stroke-width="0.2"/>
<circle cx="97.6" cy="208.5" r="3.43" fill="#fff" stroke="#666" stroke-width="0.4"/>
<text x="97.8" y="209.4" font-size="2.6" text-anchor="middle" fill="#555" stroke="none">0%</text>
<text x="98.1" y="145.66" font-size="4.29" font-weight="bold" text-anchor="middle" fill="#111">Mean Wave Direction</text>
<text x="97.8" y="152.4" font-size="4.68" text-anchor="middle" fill="#222">North</text>
<text x="97.8" y="268.73" font-size="4.68" text-anchor="middle" fill="#222">South</text>
<text x="41.3" y="210.7" font-size="4.68" text-anchor="end" fill="#222">West</text>
<text x="154.4" y="210.7" font-size="4.68" text-anchor="start" fill="#222">East</text>
<text x="109.89" y="220.46" font-size="4.52" fill="#222">3%</text>
<text x="118.3" y="225.61" font-size="4.52" fill="#222">6%</text>
<text x="127.42" y="230.96" font-size="4.52" fill="#222">9%</text>
<text x="136.43" y="236.1" font-size="4.52" fill="#222">12%</text>
<text x="145.54" y="241.05" font-size="4.52" fill="#222">15%</text>
<text x="22" y="150.9" font-size="3.32" fill="#222">Significant Wave Height - SWH (m)</text>
<rect x="9" y="152.5" width="10.96" height="3.02" fill="#f9fb0e"/>
<text x="21.97" y="155.11" font-size="3.32" word-spacing="0.5" fill="#222">SHW ≥ 11</text>
<rect x="9" y="157.26" width="10.96" height="3.02" fill="#fad12b"/>
<text x="21.97" y="159.87" font-size="3.32" word-spacing="0.5" fill="#222">10 ≤ SHW &lt; 11</text>
<rect x="9" y="162.02" width="10.96" height="3.02" fill="#ecb94c"/>
<text x="21.97" y="164.63" font-size="3.32" word-spacing="0.5" fill="#222">9 ≤ SHW &lt; 10</text>
<rect x="9" y="166.78" width="10.96" height="3.02" fill="#b8bd63"/>
<text x="21.97" y="169.39" font-size="3.32" word-spacing="0.5" fill="#222">8 ≤ SHW &lt; 9</text>
<rect x="9" y="171.54" width="10.96" height="3.02" fill="#7abf7c"/>
<text x="21.97" y="174.15" font-size="3.32" word-spacing="0.5" fill="#222">7 ≤ SHW &lt; 8</text>
<rect x="9" y="176.3" width="10.96" height="3.02" fill="#33b8a1"/>
<text x="21.97" y="178.91" font-size="3.32" word-spacing="0.5" fill="#222">6 ≤ SHW &lt; 7</text>
<rect x="9" y="181.06" width="10.96" height="3.02" fill="#07aac1"/>
<text x="21.97" y="183.67" font-size="3.32" word-spacing="0.5" fill="#222">5 ≤ SHW &lt; 6</text>
<rect x="9" y="185.82" width="10.96" height="3.02" fill="#0d93d2"/>
<text x="21.97" y="188.43" font-size="3.32" word-spacing="0.5" fill="#222">4 ≤ SHW &lt; 5</text>
<rect x="9" y="190.58" width="10.96" height="3.02" fill="#0f77db"/>
<text x="21.97" y="193.19" font-size="3.32" word-spacing="0.5" fill="#222">3 ≤ SHW &lt; 4</text>
<rect x="9" y="195.34" width="10.96" height="3.02" fill="#1b55d7"/>
<text x="21.97" y="197.95" font-size="3.32" word-spacing="0.5" fill="#222">2 ≤ SHW &lt; 3</text>
<rect x="9" y="200.1" width="10.96" height="3.02" fill="#352a87"/>
<text x="21.97" y="202.71" font-size="3.32" word-spacing="0.5" fill="#222">1 ≤ SHW &lt; 2</text>
<text x="9.9" y="266.6" font-size="4.6" font-weight="bold" fill="#111">(c) Villano-Sisargas buoy</text>
</g>
<g>
<circle cx="275.6" cy="208.6" r="13.68" fill="none" stroke="#b4b4b4" stroke-width="0.35"/>
<circle cx="275.6" cy="208.6" r="23.93" fill="none" stroke="#b4b4b4" stroke-width="0.35"/>
<circle cx="275.6" cy="208.6" r="34.19" fill="none" stroke="#b4b4b4" stroke-width="0.35"/>
<circle cx="275.6" cy="208.6" r="44.44" fill="none" stroke="#b4b4b4" stroke-width="0.35"/>
<line x1="275.6" y1="205.18" x2="275.6" y2="153.9" stroke="#b4b4b4" stroke-width="0.35"/>
<line x1="277.31" y1="205.64" x2="302.95" y2="161.23" stroke="#b4b4b4" stroke-width="0.35"/>
<line x1="278.56" y1="206.89" x2="322.97" y2="181.25" stroke="#b4b4b4" stroke-width="0.35"/>
<line x1="279.02" y1="208.6" x2="330.3" y2="208.6" stroke="#b4b4b4" stroke-width="0.35"/>
<line x1="278.56" y1="210.31" x2="322.97" y2="235.95" stroke="#b4b4b4" stroke-width="0.35"/>
<line x1="277.31" y1="211.56" x2="302.95" y2="255.97" stroke="#b4b4b4" stroke-width="0.35"/>
<line x1="275.6" y1="212.02" x2="275.6" y2="263.3" stroke="#b4b4b4" stroke-width="0.35"/>
<line x1="273.89" y1="211.56" x2="248.25" y2="255.97" stroke="#b4b4b4" stroke-width="0.35"/>
<line x1="272.64" y1="210.31" x2="228.23" y2="235.95" stroke="#b4b4b4" stroke-width="0.35"/>
<line x1="272.18" y1="208.6" x2="220.9" y2="208.6" stroke="#b4b4b4" stroke-width="0.35"/>
<line x1="272.64" y1="206.89" x2="228.23" y2="181.25" stroke="#b4b4b4" stroke-width="0.35"/>
<line x1="273.89" y1="205.64" x2="248.25" y2="161.23" stroke="#b4b4b4" stroke-width="0.35"/>
<circle cx="275.6" cy="208.6" r="54.7" fill="none" stroke="#666" stroke-width="0.55"/>
<path d="M275.29 205.2L275.22 204.46A4.16 4.16 0 0 1 275.98 204.46L275.91 205.2A3.42 3.42 0 0 0 275.29 205.2Z" fill="#352a87"/>
<path d="M275.23 204.56L274.65 198.14A10.5 10.5 0 0 1 276.55 198.14L275.97 204.56A4.06 4.06 0 0 0 275.23 204.56Z" fill="#066fdf"/>
<path d="M275.89 205.19L275.92 204.82A3.79 3.79 0 0 1 276.59 204.94L276.5 205.3A3.42 3.42 0 0 0 275.89 205.19Z" fill="#352a87"/>
<path d="M275.91 204.92L276.19 201.62A7 7 0 0 1 277.44 201.84L276.57 205.04A3.69 3.69 0 0 0 275.91 204.92Z" fill="#066fdf"/>
<path d="M274.17 211.7L274.05 211.96A3.71 3.71 0 0 1 273.46 211.63L273.63 211.39A3.42 3.42 0 0 0 274.17 211.7Z" fill="#352a87"/>
<path d="M274.09 211.87L273.01 214.2A6.17 6.17 0 0 1 272.04 213.64L273.52 211.55A3.61 3.61 0 0 0 274.09 211.87Z" fill="#066fdf"/>
<path d="M273.05 214.11L272.24 215.86A8 8 0 0 1 270.99 215.14L272.1 213.56A6.07 6.07 0 0 0 273.05 214.11Z" fill="#079ccf"/>
<path d="M273.65 211.41L273.36 211.83A3.93 3.93 0 0 1 272.81 211.37L273.17 211.01A3.42 3.42 0 0 0 273.65 211.41Z" fill="#352a87"/>
<path d="M273.42 211.74L270.86 215.42A8.31 8.31 0 0 1 269.71 214.45L272.88 211.3A3.83 3.83 0 0 0 273.42 211.74Z" fill="#066fdf"/>
<path d="M270.92 215.34L269 218.1A11.57 11.57 0 0 1 267.39 216.75L269.78 214.38A8.21 8.21 0 0 0 270.92 215.34Z" fill="#079ccf"/>
<path d="M269.06 218.01L268.24 219.18A12.89 12.89 0 0 1 266.45 217.68L267.46 216.68A11.47 11.47 0 0 0 269.06 218.01Z" fill="#33b8a1"/>
<path d="M268.3 219.1L267.9 219.69A13.5 13.5 0 0 1 266.02 218.11L266.53 217.61A12.79 12.79 0 0 0 268.3 219.1Z" fill="#a5be6b"/>
<path d="M273.19 211.03L272.85 211.36A3.9 3.9 0 0 1 272.4 210.82L272.79 210.55A3.42 3.42 0 0 0 273.19 211.03Z" fill="#352a87"/>
<path d="M272.93 211.29L269.96 214.28A8 8 0 0 1 269.03 213.17L272.48 210.77A3.8 3.8 0 0 0 272.93 211.29Z" fill="#066fdf"/>
<path d="M272.81 210.57L272.32 210.92A4.02 4.02 0 0 1 271.95 210.29L272.5 210.03A3.42 3.42 0 0 0 272.81 210.57Z" fill="#352a87"/>
<path d="M272.4 210.86L268.11 213.88A9.17 9.17 0 0 1 267.28 212.45L272.04 210.24A3.92 3.92 0 0 0 272.4 210.86Z" fill="#066fdf"/>
<path d="M268.19 213.83L264.98 216.09A13 13 0 0 1 263.8 214.05L267.37 212.4A9.07 9.07 0 0 0 268.19 213.83Z" fill="#079ccf"/>
<path d="M272.51 210.06L271.57 210.5A4.46 4.46 0 0 1 271.29 209.74L272.29 209.47A3.42 3.42 0 0 0 272.51 210.06Z" fill="#352a87"/>
<path d="M271.66 210.46L263.48 214.3A13.4 13.4 0 0 1 262.65 212.02L271.39 209.71A4.36 4.36 0 0 0 271.66 210.46Z" fill="#066fdf"/>
<path d="M263.57 214.26L257.46 217.14A20.05 20.05 0 0 1 256.22 213.72L262.74 212A13.3 13.3 0 0 0 263.57 214.26Z" fill="#079ccf"/>
<path d="M257.55 217.09L255.01 218.29A22.75 22.75 0 0 1 253.6 214.41L256.31 213.7A19.95 19.95 0 0 0 257.55 217.09Z" fill="#33b8a1"/>
<path d="M255.1 218.25L253.88 218.82A24 24 0 0 1 252.4 214.73L253.7 214.39A22.65 22.65 0 0 0 255.1 218.25Z" fill="#a5be6b"/>
<path d="M272.3 209.5L270.89 209.88A4.88 4.88 0 0 1 270.74 209.01L272.19 208.89A3.42 3.42 0 0 0 272.3 209.5Z" fill="#352a87"/>
<path d="M270.99 209.85L258.76 213.17A17.45 17.45 0 0 1 258.21 210.06L270.84 209A4.78 4.78 0 0 0 270.99 209.85Z" fill="#066fdf"/>
<path d="M258.86 213.15L249.74 215.63A26.8 26.8 0 0 1 248.89 210.84L258.31 210.05A17.35 17.35 0 0 0 258.86 213.15Z" fill="#079ccf"/>
<path d="M249.83 215.6L246.07 216.62A30.6 30.6 0 0 1 245.11 211.16L248.99 210.83A26.7 26.7 0 0 0 249.83 215.6Z" fill="#33b8a1"/>
<path d="M272.2 208.91L269.76 209.13A5.86 5.86 0 0 1 269.76 208.07L272.2 208.29A3.42 3.42 0 0 0 272.2 208.91Z" fill="#352a87"/>
<path d="M269.86 209.12L248.84 211.04A26.87 26.87 0 0 1 248.84 206.16L269.86 208.08A5.76 5.76 0 0 0 269.86 209.12Z" fill="#066fdf"/>
<path d="M248.94 211.03L233.27 212.45A42.5 42.5 0 0 1 233.27 204.75L248.94 206.17A26.77 26.77 0 0 0 248.94 211.03Z" fill="#079ccf"/>
<path d="M272.19 208.31L269.64 208.1A5.98 5.98 0 0 1 269.83 207.03L272.3 207.7A3.42 3.42 0 0 0 272.19 208.31Z" fill="#352a87"/>
<path d="M269.74 208.11L247.72 206.26A27.98 27.98 0 0 1 248.6 201.26L269.93 207.06A5.88 5.88 0 0 0 269.74 208.11Z" fill="#066fdf"/>
<path d="M247.82 206.27L231.41 204.89A44.35 44.35 0 0 1 232.8 196.97L248.7 201.29A27.88 27.88 0 0 0 247.82 206.27Z" fill="#079ccf"/>
<path d="M231.51 204.9L224.78 204.33A51 51 0 0 1 226.38 195.23L232.9 197A44.25 44.25 0 0 0 231.51 204.9Z" fill="#33b8a1"/>
<path d="M272.29 207.73L269.87 207.09A5.92 5.92 0 0 1 270.24 206.08L272.51 207.14A3.42 3.42 0 0 0 272.29 207.73Z" fill="#352a87"/>
<path d="M269.97 207.11L249.05 201.59A27.46 27.46 0 0 1 250.76 196.91L270.33 206.12A5.82 5.82 0 0 0 269.97 207.11Z" fill="#066fdf"/>
<path d="M249.15 201.61L233.56 197.49A43.48 43.48 0 0 1 236.25 190.09L250.85 196.95A27.36 27.36 0 0 0 249.15 201.61Z" fill="#079ccf"/>
<path d="M233.65 197.52L227.26 195.83A50 50 0 0 1 230.36 187.31L236.34 190.13A43.38 43.38 0 0 0 233.65 197.52Z" fill="#33b8a1"/>
<path d="M227.36 195.85L224.36 195.06A53 53 0 0 1 227.64 186.03L230.45 187.36A49.9 49.9 0 0 0 227.36 195.85Z" fill="#a5be6b"/>
<path d="M272.5 207.17L263.44 202.98A13.4 13.4 0 0 1 264.65 200.88L272.81 206.63A3.42 3.42 0 0 0 272.5 207.17Z" fill="#352a87"/>
<path d="M263.53 203.02L253.81 198.53A24 24 0 0 1 255.99 194.77L264.73 200.93A13.3 13.3 0 0 0 263.53 203.02Z" fill="#066fdf"/>
<path d="M253.9 198.58L242.92 193.5A36 36 0 0 1 246.18 187.85L256.07 194.82A23.9 23.9 0 0 0 253.9 198.58Z" fill="#079ccf"/>
<path d="M243.01 193.54L239.29 191.82A40 40 0 0 1 242.91 185.54L246.26 187.91A35.9 35.9 0 0 0 243.01 193.54Z" fill="#33b8a1"/>
<path d="M239.38 191.86L237.93 191.19A41.5 41.5 0 0 1 241.69 184.68L243 185.6A39.9 39.9 0 0 0 239.38 191.86Z" fill="#a5be6b"/>
<path d="M272.79 206.65L271.42 205.7A5.09 5.09 0 0 1 272.01 204.99L273.19 206.17A3.42 3.42 0 0 0 272.79 206.65Z" fill="#352a87"/>
<path d="M271.5 205.75L259.62 197.49A19.46 19.46 0 0 1 261.89 194.79L272.08 205.06A4.99 4.99 0 0 0 271.5 205.75Z" fill="#066fdf"/>
<path d="M259.7 197.55L250.84 191.39A30.15 30.15 0 0 1 254.35 187.21L261.96 194.86A19.36 19.36 0 0 0 259.7 197.55Z" fill="#079ccf"/>
<path d="M250.92 191.45L247.27 188.91A34.5 34.5 0 0 1 251.29 184.12L254.42 187.28A30.05 30.05 0 0 0 250.92 191.45Z" fill="#33b8a1"/>
<path d="M247.36 188.97L245.63 187.77A36.5 36.5 0 0 1 249.88 182.7L251.36 184.19A34.4 34.4 0 0 0 247.36 188.97Z" fill="#a5be6b"/>
<path d="M273.17 206.19L272.64 205.66A4.18 4.18 0 0 1 273.22 205.17L273.65 205.79A3.42 3.42 0 0 0 273.17 206.19Z" fill="#352a87"/>
<path d="M272.71 205.73L268.02 201.07A10.69 10.69 0 0 1 269.5 199.82L273.27 205.25A4.08 4.08 0 0 0 272.71 205.73Z" fill="#066fdf"/>
<path d="M268.09 201.14L264.58 197.66A15.53 15.53 0 0 1 266.74 195.85L269.56 199.91A10.59 10.59 0 0 0 268.09 201.14Z" fill="#079ccf"/>
<path d="M264.65 197.73L263.18 196.27A17.5 17.5 0 0 1 265.61 194.23L266.79 195.93A15.43 15.43 0 0 0 264.65 197.73Z" fill="#33b8a1"/>
<path d="M273.63 205.81L273.21 205.21A4.15 4.15 0 0 1 273.86 204.83L274.17 205.5A3.42 3.42 0 0 0 273.63 205.81Z" fill="#352a87"/>
<path d="M273.27 205.29L269.59 200.08A10.43 10.43 0 0 1 271.23 199.13L273.9 204.92A4.05 4.05 0 0 0 273.27 205.29Z" fill="#066fdf"/>
<path d="M269.65 200.16L266.89 196.26A15.1 15.1 0 0 1 269.27 194.89L271.27 199.22A10.33 10.33 0 0 0 269.65 200.16Z" fill="#079ccf"/>
<path d="M266.95 196.34L265.8 194.71A17 17 0 0 1 268.47 193.17L269.31 194.98A15 15 0 0 0 266.95 196.34Z" fill="#33b8a1"/>
<path d="M274.14 205.51L273.76 204.68A4.33 4.33 0 0 1 274.49 204.41L274.73 205.29A3.42 3.42 0 0 0 274.14 205.51Z" fill="#352a87"/>
<path d="M273.8 204.77L270.42 197.59A12.17 12.17 0 0 1 272.49 196.84L274.52 204.51A4.23 4.23 0 0 0 273.8 204.77Z" fill="#066fdf"/>
<path d="M270.46 197.68L267.94 192.31A18 18 0 0 1 271 191.2L272.52 196.93A12.07 12.07 0 0 0 270.46 197.68Z" fill="#079ccf"/>
<path d="M274.7 205.3L274.54 204.68A4.06 4.06 0 0 1 275.26 204.55L275.31 205.19A3.42 3.42 0 0 0 274.7 205.3Z" fill="#352a87"/>
<path d="M274.56 204.78L273.09 199.35A9.59 9.59 0 0 1 274.8 199.05L275.27 204.65A3.96 3.96 0 0 0 274.56 204.78Z" fill="#066fdf"/>
<path d="M273.11 199.44L272.01 195.38A13.7 13.7 0 0 1 274.45 194.95L274.81 199.15A9.49 9.49 0 0 0 273.11 199.44Z" fill="#079ccf"/>
<path d="M275.3 205.19L275.24 204.46A4.16 4.16 0 0 1 275.96 204.46L275.9 205.19A3.42 3.42 0 0 0 275.3 205.19ZM275.24 204.46L274.68 198.14A10.5 10.5 0 0 1 276.52 198.14L275.96 204.46A4.16 4.16 0 0 0 275.24 204.46ZM275.9 205.19L275.93 204.82A3.79 3.79 0 0 1 276.58 204.94L276.48 205.3A3.42 3.42 0 0 0 275.9 205.19ZM275.93 204.82L276.21 201.63A7 7 0 0 1 277.41 201.84L276.58 204.94A3.79 3.79 0 0 0 275.93 204.82ZM274.16 211.7L274.03 211.96A3.71 3.71 0 0 1 273.47 211.64L273.64 211.4A3.42 3.42 0 0 0 274.16 211.7ZM274.03 211.96L272.99 214.19A6.17 6.17 0 0 1 272.06 213.65L273.47 211.64A3.71 3.71 0 0 0 274.03 211.96ZM272.99 214.19L272.22 215.85A8 8 0 0 1 271.01 215.15L272.06 213.65A6.17 6.17 0 0 0 272.99 214.19ZM273.64 211.4L273.35 211.82A3.93 3.93 0 0 1 272.82 211.38L273.18 211.02A3.42 3.42 0 0 0 273.64 211.4ZM273.35 211.82L270.84 215.4A8.31 8.31 0 0 1 269.73 214.47L272.82 211.38A3.93 3.93 0 0 0 273.35 211.82ZM270.84 215.4L268.97 218.07A11.57 11.57 0 0 1 267.42 216.78L269.73 214.47A8.31 8.31 0 0 0 270.84 215.4ZM268.97 218.07L268.21 219.16A12.89 12.89 0 0 1 266.49 217.71L267.42 216.78A11.57 11.57 0 0 0 268.97 218.07ZM268.21 219.16L267.86 219.66A13.5 13.5 0 0 1 266.05 218.15L266.49 217.71A12.89 12.89 0 0 0 268.21 219.16ZM273.18 211.02L272.85 211.35A3.9 3.9 0 0 1 272.41 210.83L272.8 210.56A3.42 3.42 0 0 0 273.18 211.02ZM272.85 211.35L269.94 214.26A8 8 0 0 1 269.05 213.19L272.41 210.83A3.9 3.9 0 0 0 272.85 211.35ZM272.8 210.56L272.31 210.9A4.02 4.02 0 0 1 271.96 210.3L272.5 210.04A3.42 3.42 0 0 0 272.8 210.56ZM272.31 210.9L268.09 213.86A9.17 9.17 0 0 1 267.29 212.47L271.96 210.3A4.02 4.02 0 0 0 272.31 210.9ZM268.09 213.86L264.95 216.06A13 13 0 0 1 263.82 214.09L267.29 212.47A9.17 9.17 0 0 0 268.09 213.86ZM272.5 210.04L271.56 210.48A4.46 4.46 0 0 1 271.29 209.75L272.3 209.48A3.42 3.42 0 0 0 272.5 210.04ZM271.56 210.48L263.46 214.26A13.4 13.4 0 0 1 262.66 212.07L271.29 209.75A4.46 4.46 0 0 0 271.56 210.48ZM263.46 214.26L257.43 217.07A20.05 20.05 0 0 1 256.23 213.79L262.66 212.07A13.4 13.4 0 0 0 263.46 214.26ZM257.43 217.07L254.98 218.22A22.75 22.75 0 0 1 253.62 214.49L256.23 213.79A20.05 20.05 0 0 0 257.43 217.07ZM254.98 218.22L253.85 218.74A24 24 0 0 1 252.42 214.81L253.62 214.49A22.75 22.75 0 0 0 254.98 218.22ZM272.3 209.48L270.89 209.86A4.88 4.88 0 0 1 270.74 209.03L272.19 208.9A3.42 3.42 0 0 0 272.3 209.48ZM270.89 209.86L258.75 213.12A17.45 17.45 0 0 1 258.22 210.12L270.74 209.03A4.88 4.88 0 0 0 270.89 209.86ZM258.75 213.12L249.71 215.54A26.8 26.8 0 0 1 248.9 210.94L258.22 210.12A17.45 17.45 0 0 0 258.75 213.12ZM249.71 215.54L246.04 216.52A30.6 30.6 0 0 1 245.12 211.27L248.9 210.94A26.8 26.8 0 0 0 249.71 215.54ZM272.19 208.9L269.76 209.11A5.86 5.86 0 0 1 269.76 208.09L272.19 208.3A3.42 3.42 0 0 0 272.19 208.9ZM269.76 209.11L248.83 210.94A26.87 26.87 0 0 1 248.83 206.26L269.76 208.09A5.86 5.86 0 0 0 269.76 209.11ZM248.83 210.94L233.26 212.3A42.5 42.5 0 0 1 233.26 204.9L248.83 206.26A26.87 26.87 0 0 0 248.83 210.94ZM272.19 208.3L269.65 208.08A5.98 5.98 0 0 1 269.83 207.05L272.3 207.72A3.42 3.42 0 0 0 272.19 208.3ZM269.65 208.08L247.73 206.16A27.98 27.98 0 0 1 248.58 201.36L269.83 207.05A5.98 5.98 0 0 0 269.65 208.08ZM247.73 206.16L231.42 204.73A44.35 44.35 0 0 1 232.76 197.12L248.58 201.36A27.98 27.98 0 0 0 247.73 206.16ZM231.42 204.73L224.79 204.16A51 51 0 0 1 226.34 195.4L232.76 197.12A44.35 44.35 0 0 0 231.42 204.73ZM272.3 207.72L269.88 207.07A5.92 5.92 0 0 1 270.23 206.1L272.5 207.16A3.42 3.42 0 0 0 272.3 207.72ZM269.88 207.07L249.08 201.49A27.46 27.46 0 0 1 250.71 197L270.23 206.1A5.92 5.92 0 0 0 269.88 207.07ZM249.08 201.49L233.6 197.35A43.48 43.48 0 0 1 236.19 190.22L250.71 197A27.46 27.46 0 0 0 249.08 201.49ZM233.6 197.35L227.31 195.66A50 50 0 0 1 230.29 187.47L236.19 190.22A43.48 43.48 0 0 0 233.6 197.35ZM227.31 195.66L224.41 194.88A53 53 0 0 1 227.57 186.2L230.29 187.47A50 50 0 0 0 227.31 195.66ZM272.5 207.16L263.46 202.94A13.4 13.4 0 0 1 264.62 200.91L272.8 206.64A3.42 3.42 0 0 0 272.5 207.16ZM263.46 202.94L253.85 198.46A24 24 0 0 1 255.94 194.83L264.62 200.91A13.4 13.4 0 0 0 263.46 202.94ZM253.85 198.46L242.97 193.39A36 36 0 0 1 246.11 187.95L255.94 194.83A24 24 0 0 0 253.85 198.46ZM242.97 193.39L239.35 191.7A40 40 0 0 1 242.83 185.66L246.11 187.95A36 36 0 0 0 242.97 193.39ZM239.35 191.7L237.99 191.06A41.5 41.5 0 0 1 241.61 184.8L242.83 185.66A40 40 0 0 0 239.35 191.7ZM272.8 206.64L271.43 205.68A5.09 5.09 0 0 1 272 205L273.18 206.18A3.42 3.42 0 0 0 272.8 206.64ZM271.43 205.68L259.66 197.44A19.46 19.46 0 0 1 261.84 194.84L272 205A5.09 5.09 0 0 0 271.43 205.68ZM259.66 197.44L250.9 191.31A30.15 30.15 0 0 1 254.28 187.28L261.84 194.84A19.46 19.46 0 0 0 259.66 197.44ZM250.9 191.31L247.34 188.81A34.5 34.5 0 0 1 251.21 184.21L254.28 187.28A30.15 30.15 0 0 0 250.9 191.31ZM247.34 188.81L245.7 187.66A36.5 36.5 0 0 1 249.79 182.79L251.21 184.21A34.5 34.5 0 0 0 247.34 188.81ZM273.18 206.18L272.65 205.65A4.18 4.18 0 0 1 273.2 205.18L273.64 205.8A3.42 3.42 0 0 0 273.18 206.18ZM272.65 205.65L268.04 201.04A10.69 10.69 0 0 1 269.47 199.85L273.2 205.18A4.18 4.18 0 0 0 272.65 205.65ZM268.04 201.04L264.62 197.62A15.53 15.53 0 0 1 266.69 195.88L269.47 199.85A10.69 10.69 0 0 0 268.04 201.04ZM264.62 197.62L263.23 196.23A17.5 17.5 0 0 1 265.56 194.26L266.69 195.88A15.53 15.53 0 0 0 264.62 197.62ZM273.64 205.8L273.22 205.2A4.15 4.15 0 0 1 273.85 204.84L274.16 205.5A3.42 3.42 0 0 0 273.64 205.8ZM273.22 205.2L269.62 200.06A10.43 10.43 0 0 1 271.19 199.15L273.85 204.84A4.15 4.15 0 0 0 273.22 205.2ZM269.62 200.06L266.94 196.23A15.1 15.1 0 0 1 269.22 194.91L271.19 199.15A10.43 10.43 0 0 0 269.62 200.06ZM266.94 196.23L265.85 194.67A17 17 0 0 1 268.42 193.19L269.22 194.91A15.1 15.1 0 0 0 266.94 196.23ZM274.16 205.5L273.77 204.68A4.33 4.33 0 0 1 274.48 204.42L274.72 205.3A3.42 3.42 0 0 0 274.16 205.5ZM273.77 204.68L270.46 197.57A12.17 12.17 0 0 1 272.45 196.85L274.48 204.42A4.33 4.33 0 0 0 273.77 204.68ZM270.46 197.57L267.99 192.29A18 18 0 0 1 270.94 191.21L272.45 196.85A12.17 12.17 0 0 0 270.46 197.57ZM274.72 205.3L274.55 204.68A4.06 4.06 0 0 1 275.25 204.55L275.3 205.19A3.42 3.42 0 0 0 274.72 205.3ZM274.55 204.68L273.12 199.34A9.59 9.59 0 0 1 274.76 199.05L275.25 204.55A4.06 4.06 0 0 0 274.55 204.68ZM273.12 199.34L272.05 195.37A13.7 13.7 0 0 1 274.41 194.95L274.76 199.05A9.59 9.59 0 0 0 273.12 199.34Z" fill="none" stroke="#06183c" stroke-opacity="0.42" stroke-width="0.2"/>
<circle cx="275.6" cy="208.6" r="3.42" fill="#fff" stroke="#666" stroke-width="0.4"/>
<text x="275.8" y="209.5" font-size="2.6" text-anchor="middle" fill="#555" stroke="none">0%</text>
<text x="276.1" y="145.69" font-size="4.28" font-weight="bold" text-anchor="middle" fill="#111">Mean Wave Direction</text>
<text x="275.8" y="152.2" font-size="4.66" text-anchor="middle" fill="#222">North</text>
<text x="275.8" y="268.61" font-size="4.66" text-anchor="middle" fill="#222">South</text>
<text x="219.5" y="210.8" font-size="4.66" text-anchor="end" fill="#222">West</text>
<text x="332.2" y="210.8" font-size="4.66" text-anchor="start" fill="#222">East</text>
<text x="287.84" y="220.54" font-size="4.51" fill="#222">3%</text>
<text x="296.23" y="225.67" font-size="4.51" fill="#222">6%</text>
<text x="305.31" y="230.99" font-size="4.51" fill="#222">9%</text>
<text x="314.29" y="236.12" font-size="4.51" fill="#222">12%</text>
<text x="323.37" y="241.05" font-size="4.51" fill="#222">15%</text>
<text x="200.3" y="150.9" font-size="3.31" fill="#222">Significant Wave Height - SWH (m)</text>
<rect x="187.9" y="152.5" width="10.92" height="3.01" fill="#f9fb0e"/>
<text x="200.82" y="155.1" font-size="3.31" word-spacing="0.5" fill="#222">SHW ≥ 12</text>
<rect x="187.9" y="157.27" width="10.92" height="3.01" fill="#fbbc41"/>
<text x="200.82" y="159.87" font-size="3.31" word-spacing="0.5" fill="#222">10 ≤ SHW &lt; 12</text>
<rect x="187.9" y="162.04" width="10.92" height="3.01" fill="#a5be6b"/>
<text x="200.82" y="164.64" font-size="3.31" word-spacing="0.5" fill="#222">8 ≤ SHW &lt; 10</text>
<rect x="187.9" y="166.81" width="10.92" height="3.01" fill="#33b8a1"/>
<text x="200.82" y="169.41" font-size="3.31" word-spacing="0.5" fill="#222">6 ≤ SHW &lt; 8</text>
<rect x="187.9" y="171.58" width="10.92" height="3.01" fill="#079ccf"/>
<text x="200.82" y="174.18" font-size="3.31" word-spacing="0.5" fill="#222">4 ≤ SHW &lt; 6</text>
<rect x="187.9" y="176.35" width="10.92" height="3.01" fill="#066fdf"/>
<text x="200.82" y="178.95" font-size="3.31" word-spacing="0.5" fill="#222">2 ≤ SHW &lt; 4</text>
<rect x="187.9" y="181.12" width="10.92" height="3.01" fill="#352a87"/>
<text x="200.82" y="183.72" font-size="3.31" word-spacing="0.5" fill="#222">0 ≤ SHW &lt; 2</text>
<text x="188.6" y="267.5" font-size="4.5" font-weight="bold" fill="#111">(d) VILA HFR</text>
</g>
<g>
<circle cx="97.8" cy="345.9" r="13.65" fill="none" stroke="#b4b4b4" stroke-width="0.35"/>
<circle cx="97.8" cy="345.9" r="23.89" fill="none" stroke="#b4b4b4" stroke-width="0.35"/>
<circle cx="97.8" cy="345.9" r="34.12" fill="none" stroke="#b4b4b4" stroke-width="0.35"/>
<circle cx="97.8" cy="345.9" r="44.36" fill="none" stroke="#b4b4b4" stroke-width="0.35"/>
<line x1="97.8" y1="342.49" x2="97.8" y2="291.3" stroke="#b4b4b4" stroke-width="0.35"/>
<line x1="99.51" y1="342.94" x2="125.1" y2="298.62" stroke="#b4b4b4" stroke-width="0.35"/>
<line x1="100.76" y1="344.19" x2="145.08" y2="318.6" stroke="#b4b4b4" stroke-width="0.35"/>
<line x1="101.21" y1="345.9" x2="152.4" y2="345.9" stroke="#b4b4b4" stroke-width="0.35"/>
<line x1="100.76" y1="347.61" x2="145.08" y2="373.2" stroke="#b4b4b4" stroke-width="0.35"/>
<line x1="99.51" y1="348.86" x2="125.1" y2="393.18" stroke="#b4b4b4" stroke-width="0.35"/>
<line x1="97.8" y1="349.31" x2="97.8" y2="400.5" stroke="#b4b4b4" stroke-width="0.35"/>
<line x1="96.09" y1="348.86" x2="70.5" y2="393.18" stroke="#b4b4b4" stroke-width="0.35"/>
<line x1="94.84" y1="347.61" x2="50.52" y2="373.2" stroke="#b4b4b4" stroke-width="0.35"/>
<line x1="94.39" y1="345.9" x2="43.2" y2="345.9" stroke="#b4b4b4" stroke-width="0.35"/>
<line x1="94.84" y1="344.19" x2="50.52" y2="318.6" stroke="#b4b4b4" stroke-width="0.35"/>
<line x1="96.09" y1="342.94" x2="70.5" y2="298.62" stroke="#b4b4b4" stroke-width="0.35"/>
<circle cx="97.8" cy="345.9" r="54.6" fill="none" stroke="#666" stroke-width="0.55"/>
<path d="M97.49 342.5L97.39 341.34A4.58 4.58 0 0 1 98.21 341.34L98.11 342.5A3.41 3.41 0 0 0 97.49 342.5Z" fill="#352a87"/>
<path d="M97.39 341.44L97.17 338.93A7 7 0 0 1 98.43 338.93L98.21 341.44A4.48 4.48 0 0 0 97.39 341.44Z" fill="#0f5cdd"/>
<path d="M98.09 342.5L98.13 341.99A3.93 3.93 0 0 1 98.83 342.11L98.69 342.61A3.41 3.41 0 0 0 98.09 342.5Z" fill="#352a87"/>
<path d="M98.12 342.08L98.22 340.92A5 5 0 0 1 99.11 341.07L98.8 342.21A3.83 3.83 0 0 0 98.12 342.08Z" fill="#0f5cdd"/>
<path d="M97.51 349.3L97.44 350.14A4.25 4.25 0 0 1 96.68 350L96.91 349.19A3.41 3.41 0 0 0 97.51 349.3Z" fill="#352a87"/>
<path d="M97.45 350.04L97.3 351.88A6 6 0 0 1 96.23 351.69L96.71 349.91A4.15 4.15 0 0 0 97.45 350.04Z" fill="#0f5cdd"/>
<path d="M96.93 349.2L96.68 350.13A4.37 4.37 0 0 1 95.94 349.86L96.35 348.99A3.41 3.41 0 0 0 96.93 349.2Z" fill="#352a87"/>
<path d="M96.71 350.03L96.17 352.06A6.37 6.37 0 0 1 95.09 351.67L95.98 349.77A4.27 4.27 0 0 0 96.71 350.03Z" fill="#0f5cdd"/>
<path d="M96.2 351.96L95.76 353.63A8 8 0 0 1 94.39 353.14L95.13 351.58A6.27 6.27 0 0 0 96.2 351.96Z" fill="#127dd8"/>
<path d="M96.37 349L95.73 350.37A4.93 4.93 0 0 1 94.96 349.93L95.83 348.69A3.41 3.41 0 0 0 96.37 349Z" fill="#352a87"/>
<path d="M95.78 350.28L94.41 353.23A8.07 8.07 0 0 1 93.15 352.5L95.02 349.84A4.83 4.83 0 0 0 95.78 350.28Z" fill="#0f5cdd"/>
<path d="M94.46 353.14L93.34 355.56A10.64 10.64 0 0 1 91.67 354.59L93.2 352.41A7.97 7.97 0 0 0 94.46 353.14Z" fill="#127dd8"/>
<path d="M93.38 355.46L92.56 357.25A12.5 12.5 0 0 1 90.59 356.11L91.73 354.51A10.54 10.54 0 0 0 93.38 355.46Z" fill="#079ccf"/>
<path d="M95.85 348.7L94.81 350.2A5.24 5.24 0 0 1 94.08 349.59L95.38 348.3A3.41 3.41 0 0 0 95.85 348.7Z" fill="#352a87"/>
<path d="M94.87 350.12L92.64 353.33A9.04 9.04 0 0 1 91.38 352.27L94.15 349.52A5.14 5.14 0 0 0 94.87 350.12Z" fill="#0f5cdd"/>
<path d="M92.7 353.24L90.87 355.87A12.14 12.14 0 0 1 89.19 354.45L91.45 352.2A8.94 8.94 0 0 0 92.7 353.24Z" fill="#127dd8"/>
<path d="M90.93 355.79L89.59 357.72A14.39 14.39 0 0 1 87.59 356.04L89.26 354.38A12.04 12.04 0 0 0 90.93 355.79Z" fill="#079ccf"/>
<path d="M89.64 357.64L88.78 358.87A15.8 15.8 0 0 1 86.59 357.03L87.66 355.97A14.29 14.29 0 0 0 89.64 357.64Z" fill="#15b1b4"/>
<path d="M95.4 348.32L93.98 349.75A5.42 5.42 0 0 1 93.35 348.99L95 347.85A3.41 3.41 0 0 0 95.4 348.32Z" fill="#352a87"/>
<path d="M94.05 349.67L91.04 352.7A9.59 9.59 0 0 1 89.93 351.37L93.43 348.94A5.32 5.32 0 0 0 94.05 349.67Z" fill="#0f5cdd"/>
<path d="M91.11 352.63L88.65 355.11A12.99 12.99 0 0 1 87.14 353.31L90.01 351.32A9.49 9.49 0 0 0 91.11 352.63Z" fill="#127dd8"/>
<path d="M88.72 355.04L86.91 356.87A15.46 15.46 0 0 1 85.11 354.72L87.22 353.25A12.89 12.89 0 0 0 88.72 355.04Z" fill="#079ccf"/>
<path d="M86.98 356.8L85.82 357.96A17 17 0 0 1 83.84 355.6L85.19 354.66A15.36 15.36 0 0 0 86.98 356.8Z" fill="#15b1b4"/>
<path d="M95.01 347.87L93.37 349.02A5.42 5.42 0 0 1 92.88 348.17L94.7 347.33A3.41 3.41 0 0 0 95.01 347.87Z" fill="#352a87"/>
<path d="M93.45 348.97L89.96 351.43A9.59 9.59 0 0 1 89.1 349.92L92.97 348.13A5.32 5.32 0 0 0 93.45 348.97Z" fill="#0f5cdd"/>
<path d="M90.05 351.37L87.19 353.39A12.99 12.99 0 0 1 86.01 351.35L89.19 349.88A9.49 9.49 0 0 0 90.05 351.37Z" fill="#127dd8"/>
<path d="M87.27 353.33L85.17 354.81A15.46 15.46 0 0 1 83.77 352.38L86.1 351.3A12.89 12.89 0 0 0 87.27 353.33Z" fill="#079ccf"/>
<path d="M85.25 354.75L83.91 355.7A17 17 0 0 1 82.37 353.03L83.86 352.34A15.36 15.36 0 0 0 85.25 354.75Z" fill="#15b1b4"/>
<path d="M94.71 347.35L92.83 348.24A5.49 5.49 0 0 1 92.49 347.3L94.5 346.77A3.41 3.41 0 0 0 94.71 347.35Z" fill="#352a87"/>
<path d="M92.92 348.2L88.92 350.08A9.82 9.82 0 0 1 88.31 348.41L92.59 347.28A5.39 5.39 0 0 0 92.92 348.2Z" fill="#0f5cdd"/>
<path d="M89.01 350.04L85.73 351.58A13.34 13.34 0 0 1 84.9 349.31L88.41 348.38A9.72 9.72 0 0 0 89.01 350.04Z" fill="#127dd8"/>
<path d="M85.82 351.54L83.41 352.67A15.9 15.9 0 0 1 82.43 349.96L85 349.28A13.24 13.24 0 0 0 85.82 351.54Z" fill="#079ccf"/>
<path d="M83.5 352.63L81.97 353.35A17.5 17.5 0 0 1 80.88 350.37L82.53 349.94A15.8 15.8 0 0 0 83.5 352.63Z" fill="#15b1b4"/>
<path d="M94.51 346.79L92.31 347.39A5.69 5.69 0 0 1 92.13 346.38L94.4 346.19A3.41 3.41 0 0 0 94.51 346.79Z" fill="#352a87"/>
<path d="M92.41 347.37L87.75 348.63A10.42 10.42 0 0 1 87.42 346.77L92.23 346.37A5.59 5.59 0 0 0 92.41 347.37Z" fill="#0f5cdd"/>
<path d="M87.84 348.61L84.03 349.64A14.27 14.27 0 0 1 83.58 347.09L87.52 346.76A10.32 10.32 0 0 0 87.84 348.61Z" fill="#127dd8"/>
<path d="M84.12 349.62L81.32 350.38A17.07 17.07 0 0 1 80.79 347.33L83.68 347.09A14.17 14.17 0 0 0 84.12 349.62Z" fill="#079ccf"/>
<path d="M81.42 350.35L79.63 350.84A18.82 18.82 0 0 1 79.04 347.48L80.89 347.32A16.97 16.97 0 0 0 81.42 350.35Z" fill="#15b1b4"/>
<path d="M79.73 350.81L78.79 351.07A19.7 19.7 0 0 1 78.17 347.55L79.14 347.47A18.72 18.72 0 0 0 79.73 350.81Z" fill="#59bd8c"/>
<path d="M94.4 346.21L90.83 346.53A7 7 0 0 1 90.83 345.27L94.4 345.59A3.41 3.41 0 0 0 94.4 346.21Z" fill="#352a87"/>
<path d="M90.93 346.53L86.85 346.9A11 11 0 0 1 86.85 344.9L90.93 345.27A6.9 6.9 0 0 0 90.93 346.53Z" fill="#0f5cdd"/>
<path d="M86.94 346.89L83.36 347.21A14.5 14.5 0 0 1 83.36 344.59L86.94 344.91A10.9 10.9 0 0 0 86.94 346.89Z" fill="#127dd8"/>
<path d="M83.46 347.21L80.87 347.44A17 17 0 0 1 80.87 344.36L83.46 344.59A14.4 14.4 0 0 0 83.46 347.21Z" fill="#079ccf"/>
<path d="M80.97 347.43L79.38 347.58A18.5 18.5 0 0 1 79.38 344.22L80.97 344.37A16.9 16.9 0 0 0 80.97 347.43Z" fill="#15b1b4"/>
<path d="M79.48 347.57L78.38 347.67A19.5 19.5 0 0 1 78.38 344.13L79.48 344.23A18.4 18.4 0 0 0 79.48 347.57Z" fill="#59bd8c"/>
<path d="M78.48 347.66L77.68 347.73A20.2 20.2 0 0 1 77.68 344.07L78.48 344.14A19.4 19.4 0 0 0 78.48 347.66Z" fill="#a5be6b"/>
<path d="M77.78 347.72L77.19 347.78A20.7 20.7 0 0 1 77.19 344.02L77.78 344.08A20.1 20.1 0 0 0 77.78 347.72Z" fill="#e1b952"/>
<path d="M77.28 347.77L73.9 348.08A24 24 0 0 1 73.9 343.72L77.28 344.03A20.6 20.6 0 0 0 77.28 347.77Z" fill="#fcce2e"/>
<path d="M94.4 345.61L90.11 345.25A7.71 7.71 0 0 1 90.36 343.88L94.51 345.01A3.41 3.41 0 0 0 94.4 345.61Z" fill="#352a87"/>
<path d="M90.21 345.26L81.21 344.51A16.65 16.65 0 0 1 81.73 341.54L90.45 343.9A7.61 7.61 0 0 0 90.21 345.26Z" fill="#0f5cdd"/>
<path d="M81.31 344.52L73.96 343.9A23.93 23.93 0 0 1 74.71 339.63L81.83 341.56A16.55 16.55 0 0 0 81.31 344.52Z" fill="#127dd8"/>
<path d="M74.06 343.91L68.68 343.45A29.22 29.22 0 0 1 69.6 338.24L74.81 339.65A23.83 23.83 0 0 0 74.06 343.91Z" fill="#079ccf"/>
<path d="M68.78 343.46L65.38 343.18A32.53 32.53 0 0 1 66.41 337.37L69.7 338.26A29.12 29.12 0 0 0 68.78 343.46Z" fill="#15b1b4"/>
<path d="M65.48 343.19L63.74 343.04A34.18 34.18 0 0 1 64.81 336.94L66.5 337.4A32.43 32.43 0 0 0 65.48 343.19Z" fill="#59bd8c"/>
<path d="M63.84 343.05L62.91 342.97A35.01 35.01 0 0 1 64.01 336.72L64.91 336.96A34.08 34.08 0 0 0 63.84 343.05Z" fill="#a5be6b"/>
<path d="M63.01 342.98L62.25 342.91A35.67 35.67 0 0 1 63.38 336.55L64.11 336.75A34.91 34.91 0 0 0 63.01 342.98Z" fill="#e1b952"/>
<path d="M62.35 342.92L61.43 342.85A36.5 36.5 0 0 1 62.58 336.33L63.47 336.57A35.57 35.57 0 0 0 62.35 342.92Z" fill="#fcce2e"/>
<path d="M94.5 345.03L91.11 344.13A6.92 6.92 0 0 1 91.54 342.95L94.71 344.45A3.41 3.41 0 0 0 94.5 345.03Z" fill="#352a87"/>
<path d="M91.21 344.16L84.07 342.27A14.2 14.2 0 0 1 84.95 339.85L91.63 343A6.82 6.82 0 0 0 91.21 344.16Z" fill="#0f5cdd"/>
<path d="M84.17 342.3L78.33 340.76A20.14 20.14 0 0 1 79.58 337.33L85.04 339.9A14.1 14.1 0 0 0 84.17 342.3Z" fill="#127dd8"/>
<path d="M78.43 340.78L74.16 339.65A24.45 24.45 0 0 1 75.67 335.49L79.67 337.37A20.04 20.04 0 0 0 78.43 340.78Z" fill="#079ccf"/>
<path d="M74.25 339.68L71.55 338.96A27.15 27.15 0 0 1 73.23 334.34L75.76 335.53A24.35 24.35 0 0 0 74.25 339.68Z" fill="#15b1b4"/>
<path d="M71.65 338.99L70.25 338.62A28.5 28.5 0 0 1 72.01 333.77L73.32 334.38A27.05 27.05 0 0 0 71.65 338.99Z" fill="#59bd8c"/>
<path d="M94.7 344.47L91.2 342.85A7.27 7.27 0 0 1 91.86 341.71L95.01 343.93A3.41 3.41 0 0 0 94.7 344.47Z" fill="#352a87"/>
<path d="M91.29 342.89L83.93 339.49A15.28 15.28 0 0 1 85.32 337.09L91.94 341.77A7.17 7.17 0 0 0 91.29 342.89Z" fill="#0f5cdd"/>
<path d="M84.02 339.53L78.01 336.75A21.8 21.8 0 0 1 79.98 333.33L85.4 337.15A15.18 15.18 0 0 0 84.02 339.53Z" fill="#127dd8"/>
<path d="M78.1 336.8L73.7 334.76A26.55 26.55 0 0 1 76.1 330.6L80.06 333.39A21.7 21.7 0 0 0 78.1 336.8Z" fill="#079ccf"/>
<path d="M73.79 334.81L71.01 333.52A29.52 29.52 0 0 1 73.68 328.89L76.19 330.65A26.45 26.45 0 0 0 73.79 334.81Z" fill="#15b1b4"/>
<path d="M71.1 333.56L69.66 332.9A31 31 0 0 1 72.47 328.03L73.76 328.94A29.42 29.42 0 0 0 71.1 333.56Z" fill="#59bd8c"/>
<path d="M95 343.95L89.59 340.19A10 10 0 0 1 90.75 338.8L95.4 343.48A3.41 3.41 0 0 0 95 343.95Z" fill="#352a87"/>
<path d="M89.67 340.25L80.15 333.63A21.5 21.5 0 0 1 82.65 330.64L90.82 338.88A9.9 9.9 0 0 0 89.67 340.25Z" fill="#0f5cdd"/>
<path d="M80.23 333.69L71.93 327.92A31.5 31.5 0 0 1 75.6 323.55L82.72 330.72A21.4 21.4 0 0 0 80.23 333.69Z" fill="#127dd8"/>
<path d="M72.02 327.98L66.6 324.21A38 38 0 0 1 71.02 318.94L75.67 323.62A31.4 31.4 0 0 0 72.02 327.98Z" fill="#079ccf"/>
<path d="M66.68 324.27L62.9 321.64A42.5 42.5 0 0 1 67.85 315.74L71.09 319.01A37.9 37.9 0 0 0 66.68 324.27Z" fill="#15b1b4"/>
<path d="M62.98 321.7L61.09 320.39A44.7 44.7 0 0 1 66.3 314.18L67.92 315.81A42.4 42.4 0 0 0 62.98 321.7Z" fill="#59bd8c"/>
<path d="M61.18 320.45L60.19 319.76A45.8 45.8 0 0 1 65.53 313.4L66.37 314.25A44.6 44.6 0 0 0 61.18 320.45Z" fill="#a5be6b"/>
<path d="M60.27 319.82L59.62 319.36A46.5 46.5 0 0 1 65.03 312.9L65.6 313.47A45.7 45.7 0 0 0 60.27 319.82Z" fill="#e1b952"/>
<path d="M59.7 319.42L58.8 318.79A47.5 47.5 0 0 1 64.33 312.2L65.1 312.98A46.4 46.4 0 0 0 59.7 319.42Z" fill="#fcce2e"/>
<path d="M95.38 343.5L90.7 338.85A10 10 0 0 1 92.09 337.69L95.85 343.1A3.41 3.41 0 0 0 95.38 343.5Z" fill="#352a87"/>
<path d="M90.78 338.92L81.48 329.69A23 23 0 0 1 84.67 327.01L92.15 337.77A9.9 9.9 0 0 0 90.78 338.92Z" fill="#0f5cdd"/>
<path d="M81.55 329.76L73.67 321.94A34 34 0 0 1 78.4 317.98L84.73 327.1A22.9 22.9 0 0 0 81.55 329.76Z" fill="#127dd8"/>
<path d="M73.75 322.01L68.71 317.01A41 41 0 0 1 74.4 312.23L78.45 318.06A33.9 33.9 0 0 0 73.75 322.01Z" fill="#079ccf"/>
<path d="M68.78 317.08L65.16 313.49A46 46 0 0 1 71.55 308.13L74.46 312.31A40.9 40.9 0 0 0 68.78 317.08Z" fill="#15b1b4"/>
<path d="M65.23 313.56L63.39 311.73A48.5 48.5 0 0 1 70.12 306.07L71.6 308.21A45.9 45.9 0 0 0 65.23 313.56Z" fill="#59bd8c"/>
<path d="M63.46 311.8L62.53 310.88A49.7 49.7 0 0 1 69.44 305.09L70.18 306.16A48.4 48.4 0 0 0 63.46 311.8Z" fill="#a5be6b"/>
<path d="M62.61 310.95L61.9 310.25A50.6 50.6 0 0 1 68.92 304.35L69.49 305.17A49.6 49.6 0 0 0 62.61 310.95Z" fill="#e1b952"/>
<path d="M61.97 310.32L60.9 309.26A52 52 0 0 1 68.12 303.2L68.98 304.43A50.5 50.5 0 0 0 61.97 310.32Z" fill="#fcce2e"/>
<path d="M95.83 343.11L92.32 338.14A9.5 9.5 0 0 1 93.82 337.28L96.37 342.8A3.41 3.41 0 0 0 95.83 343.11Z" fill="#352a87"/>
<path d="M92.38 338.22L88.29 332.42A16.5 16.5 0 0 1 90.88 330.92L93.86 337.37A9.4 9.4 0 0 0 92.38 338.22Z" fill="#0f5cdd"/>
<path d="M88.35 332.5L84.25 326.7A23.5 23.5 0 0 1 87.94 324.57L90.92 331.01A16.4 16.4 0 0 0 88.35 332.5Z" fill="#127dd8"/>
<path d="M84.31 326.78L81.37 322.61A28.5 28.5 0 0 1 85.85 320.03L87.98 324.66A23.4 23.4 0 0 0 84.31 326.78Z" fill="#079ccf"/>
<path d="M81.43 322.69L79.64 320.16A31.5 31.5 0 0 1 84.59 317.31L85.89 320.12A28.4 28.4 0 0 0 81.43 322.69Z" fill="#15b1b4"/>
<path d="M79.7 320.24L78.78 318.93A33 33 0 0 1 83.96 315.94L84.63 317.4A31.4 31.4 0 0 0 79.7 320.24Z" fill="#59bd8c"/>
<path d="M78.84 319.02L78.37 318.36A33.7 33.7 0 0 1 83.66 315.31L84 316.03A32.9 32.9 0 0 0 78.84 319.02Z" fill="#a5be6b"/>
<path d="M78.43 318.44L78.09 317.95A34.2 34.2 0 0 1 83.45 314.85L83.71 315.4A33.6 33.6 0 0 0 78.43 318.44Z" fill="#e1b952"/>
<path d="M78.14 318.04L77.62 317.3A35 35 0 0 1 83.12 314.13L83.5 314.94A34.1 34.1 0 0 0 78.14 318.04Z" fill="#fcce2e"/>
<path d="M96.35 342.81L95.37 340.73A5.72 5.72 0 0 1 96.34 340.37L96.93 342.6A3.41 3.41 0 0 0 96.35 342.81Z" fill="#352a87"/>
<path d="M95.41 340.82L93.33 336.4A10.5 10.5 0 0 1 95.12 335.75L96.37 340.47A5.62 5.62 0 0 0 95.41 340.82Z" fill="#0f5cdd"/>
<path d="M93.37 336.49L91.67 332.88A14.39 14.39 0 0 1 94.12 331.98L95.14 335.85A10.4 10.4 0 0 0 93.37 336.49Z" fill="#127dd8"/>
<path d="M91.71 332.97L90.46 330.31A17.23 17.23 0 0 1 93.4 329.24L94.15 332.08A14.29 14.29 0 0 0 91.71 332.97Z" fill="#079ccf"/>
<path d="M90.51 330.4L89.71 328.71A19 19 0 0 1 92.95 327.53L93.42 329.34A17.13 17.13 0 0 0 90.51 330.4Z" fill="#15b1b4"/>
<path d="M96.91 342.61L96.49 341.06A5.01 5.01 0 0 1 97.38 340.91L97.51 342.5A3.41 3.41 0 0 0 96.91 342.61Z" fill="#352a87"/>
<path d="M96.51 341.16L95.62 337.86A8.33 8.33 0 0 1 97.1 337.6L97.39 341.01A4.91 4.91 0 0 0 96.51 341.16Z" fill="#0f5cdd"/>
<path d="M95.64 337.96L94.91 335.25A11.03 11.03 0 0 1 96.88 334.91L97.11 337.7A8.23 8.23 0 0 0 95.64 337.96Z" fill="#127dd8"/>
<path d="M94.93 335.35L94.39 333.35A13 13 0 0 1 96.71 332.95L96.89 335.01A10.93 10.93 0 0 0 94.93 335.35Z" fill="#079ccf"/>
<path d="M97.5 342.5L97.4 341.34A4.58 4.58 0 0 1 98.2 341.34L98.1 342.5A3.41 3.41 0 0 0 97.5 342.5ZM97.4 341.34L97.19 338.93A7 7 0 0 1 98.41 338.93L98.2 341.34A4.58 4.58 0 0 0 97.4 341.34ZM98.1 342.5L98.14 341.99A3.93 3.93 0 0 1 98.82 342.11L98.68 342.6A3.41 3.41 0 0 0 98.1 342.5ZM98.14 341.99L98.24 340.92A5 5 0 0 1 99.09 341.07L98.82 342.11A3.93 3.93 0 0 0 98.14 341.99ZM97.5 349.3L97.43 350.14A4.25 4.25 0 0 1 96.7 350.01L96.92 349.2A3.41 3.41 0 0 0 97.5 349.3ZM97.43 350.14L97.28 351.88A6 6 0 0 1 96.25 351.7L96.7 350.01A4.25 4.25 0 0 0 97.43 350.14ZM96.92 349.2L96.67 350.13A4.37 4.37 0 0 1 95.95 349.86L96.36 348.99A3.41 3.41 0 0 0 96.92 349.2ZM96.67 350.13L96.15 352.06A6.37 6.37 0 0 1 95.11 351.68L95.95 349.86A4.37 4.37 0 0 0 96.67 350.13ZM96.15 352.06L95.73 353.63A8 8 0 0 1 94.42 353.15L95.11 351.68A6.37 6.37 0 0 0 96.15 352.06ZM96.36 348.99L95.72 350.37A4.93 4.93 0 0 1 94.97 349.94L95.84 348.7A3.41 3.41 0 0 0 96.36 348.99ZM95.72 350.37L94.39 353.22A8.07 8.07 0 0 1 93.17 352.51L94.97 349.94A4.93 4.93 0 0 0 95.72 350.37ZM94.39 353.22L93.31 355.54A10.64 10.64 0 0 1 91.7 354.61L93.17 352.51A8.07 8.07 0 0 0 94.39 353.22ZM93.31 355.54L92.52 357.23A12.5 12.5 0 0 1 90.63 356.14L91.7 354.61A10.64 10.64 0 0 0 93.31 355.54ZM95.84 348.7L94.79 350.19A5.24 5.24 0 0 1 94.09 349.61L95.39 348.31A3.41 3.41 0 0 0 95.84 348.7ZM94.79 350.19L92.61 353.31A9.04 9.04 0 0 1 91.41 352.29L94.09 349.61A5.24 5.24 0 0 0 94.79 350.19ZM92.61 353.31L90.84 355.84A12.14 12.14 0 0 1 89.22 354.48L91.41 352.29A9.04 9.04 0 0 0 92.61 353.31ZM90.84 355.84L89.54 357.69A14.39 14.39 0 0 1 87.62 356.08L89.22 354.48A12.14 12.14 0 0 0 90.84 355.84ZM89.54 357.69L88.74 358.84A15.8 15.8 0 0 1 86.63 357.07L87.62 356.08A14.39 14.39 0 0 0 89.54 357.69ZM95.39 348.31L93.97 349.73A5.42 5.42 0 0 1 93.36 349.01L95 347.86A3.41 3.41 0 0 0 95.39 348.31ZM93.97 349.73L91.02 352.68A9.59 9.59 0 0 1 89.95 351.4L93.36 349.01A5.42 5.42 0 0 0 93.97 349.73ZM91.02 352.68L88.62 355.08A12.99 12.99 0 0 1 87.16 353.35L89.95 351.4A9.59 9.59 0 0 0 91.02 352.68ZM88.62 355.08L86.87 356.83A15.46 15.46 0 0 1 85.14 354.77L87.16 353.35A12.99 12.99 0 0 0 88.62 355.08ZM86.87 356.83L85.78 357.92A17 17 0 0 1 83.87 355.65L85.14 354.77A15.46 15.46 0 0 0 86.87 356.83ZM95 347.86L93.36 349.01A5.42 5.42 0 0 1 92.89 348.19L94.71 347.34A3.41 3.41 0 0 0 95 347.86ZM93.36 349.01L89.95 351.4A9.59 9.59 0 0 1 89.11 349.95L92.89 348.19A5.42 5.42 0 0 0 93.36 349.01ZM89.95 351.4L87.16 353.35A12.99 12.99 0 0 1 86.03 351.39L89.11 349.95A9.59 9.59 0 0 0 89.95 351.4ZM87.16 353.35L85.14 354.77A15.46 15.46 0 0 1 83.79 352.43L86.03 351.39A12.99 12.99 0 0 0 87.16 353.35ZM85.14 354.77L83.87 355.65A17 17 0 0 1 82.39 353.08L83.79 352.43A15.46 15.46 0 0 0 85.14 354.77ZM94.71 347.34L92.82 348.22A5.49 5.49 0 0 1 92.49 347.32L94.5 346.78A3.41 3.41 0 0 0 94.71 347.34ZM92.82 348.22L88.9 350.05A9.82 9.82 0 0 1 88.32 348.44L92.49 347.32A5.49 5.49 0 0 0 92.82 348.22ZM88.9 350.05L85.71 351.54A13.34 13.34 0 0 1 84.92 349.35L88.32 348.44A9.82 9.82 0 0 0 88.9 350.05ZM85.71 351.54L83.39 352.62A15.9 15.9 0 0 1 82.44 350.02L84.92 349.35A13.34 13.34 0 0 0 85.71 351.54ZM83.39 352.62L81.94 353.3A17.5 17.5 0 0 1 80.9 350.43L82.44 350.02A15.9 15.9 0 0 0 83.39 352.62ZM94.5 346.78L92.3 347.37A5.69 5.69 0 0 1 92.13 346.4L94.4 346.2A3.41 3.41 0 0 0 94.5 346.78ZM92.3 347.37L87.74 348.6A10.42 10.42 0 0 1 87.42 346.81L92.13 346.4A5.69 5.69 0 0 0 92.3 347.37ZM87.74 348.6L84.02 349.59A14.27 14.27 0 0 1 83.58 347.14L87.42 346.81A10.42 10.42 0 0 0 87.74 348.6ZM84.02 349.59L81.31 350.32A17.07 17.07 0 0 1 80.79 347.39L83.58 347.14A14.27 14.27 0 0 0 84.02 349.59ZM81.31 350.32L79.62 350.77A18.82 18.82 0 0 1 79.05 347.54L80.79 347.39A17.07 17.07 0 0 0 81.31 350.32ZM79.62 350.77L78.77 351A19.7 19.7 0 0 1 78.17 347.62L79.05 347.54A18.82 18.82 0 0 0 79.62 350.77ZM94.4 346.2L90.83 346.51A7 7 0 0 1 90.83 345.29L94.4 345.6A3.41 3.41 0 0 0 94.4 346.2ZM90.83 346.51L86.84 346.86A11 11 0 0 1 86.84 344.94L90.83 345.29A7 7 0 0 0 90.83 346.51ZM86.84 346.86L83.36 347.16A14.5 14.5 0 0 1 83.36 344.64L86.84 344.94A11 11 0 0 0 86.84 346.86ZM83.36 347.16L80.86 347.38A17 17 0 0 1 80.86 344.42L83.36 344.64A14.5 14.5 0 0 0 83.36 347.16ZM80.86 347.38L79.37 347.51A18.5 18.5 0 0 1 79.37 344.29L80.86 344.42A17 17 0 0 0 80.86 347.38ZM79.37 347.51L78.37 347.6A19.5 19.5 0 0 1 78.37 344.2L79.37 344.29A18.5 18.5 0 0 0 79.37 347.51ZM78.37 347.6L77.68 347.66A20.2 20.2 0 0 1 77.68 344.14L78.37 344.2A19.5 19.5 0 0 0 78.37 347.6ZM77.68 347.66L77.18 347.7A20.7 20.7 0 0 1 77.18 344.1L77.68 344.14A20.2 20.2 0 0 0 77.68 347.66ZM77.18 347.7L73.89 347.99A24 24 0 0 1 73.89 343.81L77.18 344.1A20.7 20.7 0 0 0 77.18 347.7ZM94.4 345.6L90.12 345.23A7.71 7.71 0 0 1 90.35 343.9L94.5 345.02A3.41 3.41 0 0 0 94.4 345.6ZM90.12 345.23L81.22 344.45A16.65 16.65 0 0 1 81.72 341.59L90.35 343.9A7.71 7.71 0 0 0 90.12 345.23ZM81.22 344.45L73.96 343.81A23.93 23.93 0 0 1 74.69 339.71L81.72 341.59A16.65 16.65 0 0 0 81.22 344.45ZM73.96 343.81L68.69 343.35A29.22 29.22 0 0 1 69.57 338.34L74.69 339.71A23.93 23.93 0 0 0 73.96 343.81ZM68.69 343.35L65.39 343.06A32.53 32.53 0 0 1 66.38 337.48L69.57 338.34A29.22 29.22 0 0 0 68.69 343.35ZM65.39 343.06L63.75 342.92A34.18 34.18 0 0 1 64.78 337.05L66.38 337.48A32.53 32.53 0 0 0 65.39 343.06ZM63.75 342.92L62.92 342.85A35.01 35.01 0 0 1 63.98 336.84L64.78 337.05A34.18 34.18 0 0 0 63.75 342.92ZM62.92 342.85L62.26 342.79A35.67 35.67 0 0 1 63.34 336.67L63.98 336.84A35.01 35.01 0 0 0 62.92 342.85ZM62.26 342.79L61.44 342.72A36.5 36.5 0 0 1 62.54 336.45L63.34 336.67A35.67 35.67 0 0 0 62.26 342.79ZM94.5 345.02L91.12 344.11A6.92 6.92 0 0 1 91.53 342.98L94.71 344.46A3.41 3.41 0 0 0 94.5 345.02ZM91.12 344.11L84.08 342.22A14.2 14.2 0 0 1 84.93 339.9L91.53 342.98A6.92 6.92 0 0 0 91.12 344.11ZM84.08 342.22L78.35 340.69A20.14 20.14 0 0 1 79.55 337.39L84.93 339.9A14.2 14.2 0 0 0 84.08 342.22ZM78.35 340.69L74.18 339.57A24.45 24.45 0 0 1 75.64 335.57L79.55 337.39A20.14 20.14 0 0 0 78.35 340.69ZM74.18 339.57L71.57 338.87A27.15 27.15 0 0 1 73.19 334.43L75.64 335.57A24.45 24.45 0 0 0 74.18 339.57ZM71.57 338.87L70.27 338.52A28.5 28.5 0 0 1 71.97 333.86L73.19 334.43A27.15 27.15 0 0 0 71.57 338.87ZM94.71 344.46L91.21 342.83A7.27 7.27 0 0 1 91.85 341.73L95 343.94A3.41 3.41 0 0 0 94.71 344.46ZM91.21 342.83L83.95 339.44A15.28 15.28 0 0 1 85.28 337.14L91.85 341.73A7.27 7.27 0 0 0 91.21 342.83ZM83.95 339.44L78.04 336.69A21.8 21.8 0 0 1 79.94 333.39L85.28 337.14A15.28 15.28 0 0 0 83.95 339.44ZM78.04 336.69L73.74 334.68A26.55 26.55 0 0 1 76.05 330.67L79.94 333.39A21.8 21.8 0 0 0 78.04 336.69ZM73.74 334.68L71.05 333.43A29.52 29.52 0 0 1 73.62 328.97L76.05 330.67A26.55 26.55 0 0 0 73.74 334.68ZM71.05 333.43L69.7 332.8A31 31 0 0 1 72.41 328.12L73.62 328.97A29.52 29.52 0 0 0 71.05 333.43ZM95 343.94L89.61 340.16A10 10 0 0 1 90.73 338.83L95.39 343.49A3.41 3.41 0 0 0 95 343.94ZM89.61 340.16L80.19 333.57A21.5 21.5 0 0 1 82.6 330.7L90.73 338.83A10 10 0 0 0 89.61 340.16ZM80.19 333.57L72 327.83A31.5 31.5 0 0 1 75.53 323.63L82.6 330.7A21.5 21.5 0 0 0 80.19 333.57ZM72 327.83L66.67 324.1A38 38 0 0 1 70.93 319.03L75.53 323.63A31.5 31.5 0 0 0 72 327.83ZM66.67 324.1L62.99 321.52A42.5 42.5 0 0 1 67.75 315.85L70.93 319.03A38 38 0 0 0 66.67 324.1ZM62.99 321.52L61.18 320.26A44.7 44.7 0 0 1 66.19 314.29L67.75 315.85A42.5 42.5 0 0 0 62.99 321.52ZM61.18 320.26L60.28 319.63A45.8 45.8 0 0 1 65.41 313.51L66.19 314.29A44.7 44.7 0 0 0 61.18 320.26ZM60.28 319.63L59.71 319.23A46.5 46.5 0 0 1 64.92 313.02L65.41 313.51A45.8 45.8 0 0 0 60.28 319.63ZM59.71 319.23L58.89 318.66A47.5 47.5 0 0 1 64.21 312.31L64.92 313.02A46.5 46.5 0 0 0 59.71 319.23ZM95.39 343.49L90.73 338.83A10 10 0 0 1 92.06 337.71L95.84 343.1A3.41 3.41 0 0 0 95.39 343.49ZM90.73 338.83L81.54 329.64A23 23 0 0 1 84.61 327.06L92.06 337.71A10 10 0 0 0 90.73 338.83ZM81.54 329.64L73.76 321.86A34 34 0 0 1 78.3 318.05L84.61 327.06A23 23 0 0 0 81.54 329.64ZM73.76 321.86L68.81 316.91A41 41 0 0 1 74.28 312.31L78.3 318.05A34 34 0 0 0 73.76 321.86ZM68.81 316.91L65.27 313.37A46 46 0 0 1 71.42 308.22L74.28 312.31A41 41 0 0 0 68.81 316.91ZM65.27 313.37L63.51 311.61A48.5 48.5 0 0 1 69.98 306.17L71.42 308.22A46 46 0 0 0 65.27 313.37ZM63.51 311.61L62.66 310.76A49.7 49.7 0 0 1 69.29 305.19L69.98 306.17A48.5 48.5 0 0 0 63.51 311.61ZM62.66 310.76L62.02 310.12A50.6 50.6 0 0 1 68.78 304.45L69.29 305.19A49.7 49.7 0 0 0 62.66 310.76ZM62.02 310.12L61.03 309.13A52 52 0 0 1 67.97 303.3L68.78 304.45A50.6 50.6 0 0 0 62.02 310.12ZM95.84 343.1L92.35 338.12A9.5 9.5 0 0 1 93.79 337.29L96.36 342.81A3.41 3.41 0 0 0 95.84 343.1ZM92.35 338.12L88.34 332.38A16.5 16.5 0 0 1 90.83 330.95L93.79 337.29A9.5 9.5 0 0 0 92.35 338.12ZM88.34 332.38L84.32 326.65A23.5 23.5 0 0 1 87.87 324.6L90.83 330.95A16.5 16.5 0 0 0 88.34 332.38ZM84.32 326.65L81.45 322.55A28.5 28.5 0 0 1 85.76 320.07L87.87 324.6A23.5 23.5 0 0 0 84.32 326.65ZM81.45 322.55L79.73 320.1A31.5 31.5 0 0 1 84.49 317.35L85.76 320.07A28.5 28.5 0 0 0 81.45 322.55ZM79.73 320.1L78.87 318.87A33 33 0 0 1 83.85 315.99L84.49 317.35A31.5 31.5 0 0 0 79.73 320.1ZM78.87 318.87L78.47 318.29A33.7 33.7 0 0 1 83.56 315.36L83.85 315.99A33 33 0 0 0 78.87 318.87ZM78.47 318.29L78.18 317.89A34.2 34.2 0 0 1 83.35 314.9L83.56 315.36A33.7 33.7 0 0 0 78.47 318.29ZM78.18 317.89L77.72 317.23A35 35 0 0 1 83.01 314.18L83.35 314.9A34.2 34.2 0 0 0 78.18 317.89ZM96.36 342.81L95.38 340.72A5.72 5.72 0 0 1 96.32 340.38L96.92 342.6A3.41 3.41 0 0 0 96.36 342.81ZM95.38 340.72L93.36 336.39A10.5 10.5 0 0 1 95.08 335.76L96.32 340.38A5.72 5.72 0 0 0 95.38 340.72ZM93.36 336.39L91.72 332.85A14.39 14.39 0 0 1 94.07 332L95.08 335.76A10.5 10.5 0 0 0 93.36 336.39ZM91.72 332.85L90.52 330.29A17.23 17.23 0 0 1 93.34 329.26L94.07 332A14.39 14.39 0 0 0 91.72 332.85ZM90.52 330.29L89.77 328.68A19 19 0 0 1 92.88 327.55L93.34 329.26A17.23 17.23 0 0 0 90.52 330.29ZM96.92 342.6L96.5 341.06A5.01 5.01 0 0 1 97.36 340.91L97.5 342.5A3.41 3.41 0 0 0 96.92 342.6ZM96.5 341.06L95.64 337.85A8.33 8.33 0 0 1 97.07 337.6L97.36 340.91A5.01 5.01 0 0 0 96.5 341.06ZM95.64 337.85L94.94 335.24A11.03 11.03 0 0 1 96.84 334.91L97.07 337.6A8.33 8.33 0 0 0 95.64 337.85ZM94.94 335.24L94.44 333.34A13 13 0 0 1 96.67 332.95L96.84 334.91A11.03 11.03 0 0 0 94.94 335.24Z" fill="none" stroke="#06183c" stroke-opacity="0.42" stroke-width="0.2"/>
<circle cx="97.8" cy="345.9" r="3.41" fill="#fff" stroke="#666" stroke-width="0.4"/>
<text x="98" y="346.8" font-size="2.6" text-anchor="middle" fill="#555" stroke="none">0%</text>
<text x="98.3" y="284.5" font-size="4.27" font-weight="bold" text-anchor="middle" fill="#111">Mean Wave Direction</text>
<text x="98" y="290.1" font-size="4.65" text-anchor="middle" fill="#222">North</text>
<text x="98" y="405.8" font-size="4.65" text-anchor="middle" fill="#222">South</text>
<text x="41.8" y="348.1" font-size="4.65" text-anchor="end" fill="#222">West</text>
<text x="154.3" y="348.1" font-size="4.65" text-anchor="start" fill="#222">East</text>
<text x="110.02" y="357.82" font-size="4.5" fill="#222">3.2%</text>
<text x="118.39" y="362.94" font-size="4.5" fill="#222">6.4%</text>
<text x="127.45" y="368.26" font-size="4.5" fill="#222">9.6%</text>
<text x="136.42" y="373.38" font-size="4.5" fill="#222">12.8%</text>
<text x="145.48" y="378.3" font-size="4.5" fill="#222">16%</text>
<text x="22" y="291.1" font-size="3.3" fill="#222">Significant Wave Height - SWH (m)</text>
<rect x="9" y="292.7" width="10.9" height="3" fill="#f9fb0e"/>
<text x="21.9" y="295.3" font-size="3.3" word-spacing="0.5" fill="#222">SHW ≥ 10</text>
<rect x="9" y="297.48" width="10.9" height="3" fill="#fcce2e"/>
<text x="21.9" y="300.08" font-size="3.3" word-spacing="0.5" fill="#222">9 ≤ SHW &lt; 10</text>
<rect x="9" y="302.26" width="10.9" height="3" fill="#e1b952"/>
<text x="21.9" y="304.86" font-size="3.3" word-spacing="0.5" fill="#222">8 ≤ SHW &lt; 9</text>
<rect x="9" y="307.04" width="10.9" height="3" fill="#a5be6b"/>
<text x="21.9" y="309.64" font-size="3.3" word-spacing="0.5" fill="#222">7 ≤ SHW &lt; 8</text>
<rect x="9" y="311.82" width="10.9" height="3" fill="#59bd8c"/>
<text x="21.9" y="314.42" font-size="3.3" word-spacing="0.5" fill="#222">6 ≤ SHW &lt; 7</text>
<rect x="9" y="316.6" width="10.9" height="3" fill="#15b1b4"/>
<text x="21.9" y="319.2" font-size="3.3" word-spacing="0.5" fill="#222">5 ≤ SHW &lt; 6</text>
<rect x="9" y="321.38" width="10.9" height="3" fill="#079ccf"/>
<text x="21.9" y="323.98" font-size="3.3" word-spacing="0.5" fill="#222">4 ≤ SHW &lt; 5</text>
<rect x="9" y="326.16" width="10.9" height="3" fill="#127dd8"/>
<text x="21.9" y="328.76" font-size="3.3" word-spacing="0.5" fill="#222">3 ≤ SHW &lt; 4</text>
<rect x="9" y="330.94" width="10.9" height="3" fill="#0f5cdd"/>
<text x="21.9" y="333.54" font-size="3.3" word-spacing="0.5" fill="#222">2 ≤ SHW &lt; 3</text>
<rect x="9" y="335.72" width="10.9" height="3" fill="#352a87"/>
<text x="21.9" y="338.32" font-size="3.3" word-spacing="0.5" fill="#222">1 ≤ SHW &lt; 2</text>
<text x="9.9" y="405" font-size="4.55" font-weight="bold" fill="#111">(e) Silleiro buoy</text>
</g>
<g>
<circle cx="275.8" cy="346.2" r="13.72" fill="none" stroke="#b4b4b4" stroke-width="0.35"/>
<circle cx="275.8" cy="346.2" r="24.02" fill="none" stroke="#b4b4b4" stroke-width="0.35"/>
<circle cx="275.8" cy="346.2" r="34.31" fill="none" stroke="#b4b4b4" stroke-width="0.35"/>
<circle cx="275.8" cy="346.2" r="44.61" fill="none" stroke="#b4b4b4" stroke-width="0.35"/>
<line x1="275.8" y1="342.77" x2="275.8" y2="291.3" stroke="#b4b4b4" stroke-width="0.35"/>
<line x1="277.52" y1="343.23" x2="303.25" y2="298.66" stroke="#b4b4b4" stroke-width="0.35"/>
<line x1="278.77" y1="344.48" x2="323.34" y2="318.75" stroke="#b4b4b4" stroke-width="0.35"/>
<line x1="279.23" y1="346.2" x2="330.7" y2="346.2" stroke="#b4b4b4" stroke-width="0.35"/>
<line x1="278.77" y1="347.92" x2="323.34" y2="373.65" stroke="#b4b4b4" stroke-width="0.35"/>
<line x1="277.52" y1="349.17" x2="303.25" y2="393.74" stroke="#b4b4b4" stroke-width="0.35"/>
<line x1="275.8" y1="349.63" x2="275.8" y2="401.1" stroke="#b4b4b4" stroke-width="0.35"/>
<line x1="274.08" y1="349.17" x2="248.35" y2="393.74" stroke="#b4b4b4" stroke-width="0.35"/>
<line x1="272.83" y1="347.92" x2="228.26" y2="373.65" stroke="#b4b4b4" stroke-width="0.35"/>
<line x1="272.37" y1="346.2" x2="220.9" y2="346.2" stroke="#b4b4b4" stroke-width="0.35"/>
<line x1="272.83" y1="344.48" x2="228.26" y2="318.75" stroke="#b4b4b4" stroke-width="0.35"/>
<line x1="274.08" y1="343.23" x2="248.35" y2="298.66" stroke="#b4b4b4" stroke-width="0.35"/>
<circle cx="275.8" cy="346.2" r="54.9" fill="none" stroke="#666" stroke-width="0.55"/>
<path d="M275.49 342.78L275.41 341.89A4.32 4.32 0 0 1 276.19 341.89L276.11 342.78A3.43 3.43 0 0 0 275.49 342.78Z" fill="#352a87"/>
<path d="M275.42 341.99L275.17 339.23A7 7 0 0 1 276.43 339.23L276.18 341.99A4.22 4.22 0 0 0 275.42 341.99Z" fill="#1b55d7"/>
<path d="M276.09 342.78L276.12 342.39A3.82 3.82 0 0 1 276.8 342.51L276.7 342.89A3.43 3.43 0 0 0 276.09 342.78Z" fill="#352a87"/>
<path d="M276.11 342.49L276.22 341.22A5 5 0 0 1 277.11 341.37L276.78 342.61A3.72 3.72 0 0 0 276.11 342.49Z" fill="#1b55d7"/>
<path d="M274.92 349.52L274.76 350.14A4.07 4.07 0 0 1 274.07 349.89L274.34 349.3A3.43 3.43 0 0 0 274.92 349.52Z" fill="#352a87"/>
<path d="M274.79 350.04L274.27 352A6 6 0 0 1 273.25 351.63L274.11 349.8A3.97 3.97 0 0 0 274.79 350.04Z" fill="#1b55d7"/>
<path d="M274.36 349.31L274.09 349.9A4.07 4.07 0 0 1 273.45 349.53L273.82 349A3.43 3.43 0 0 0 274.36 349.31Z" fill="#352a87"/>
<path d="M274.13 349.81L273.28 351.65A6 6 0 0 1 272.34 351.1L273.51 349.45A3.97 3.97 0 0 0 274.13 349.81Z" fill="#1b55d7"/>
<path d="M273.84 349.02L273.47 349.56A4.09 4.09 0 0 1 272.9 349.08L273.37 348.62A3.43 3.43 0 0 0 273.84 349.02Z" fill="#352a87"/>
<path d="M273.52 349.47L272.34 351.18A6.06 6.06 0 0 1 271.5 350.47L272.97 349.01A3.99 3.99 0 0 0 273.52 349.47Z" fill="#1b55d7"/>
<path d="M272.4 351.09L271.06 353.02A8.31 8.31 0 0 1 269.9 352.06L271.57 350.4A5.96 5.96 0 0 0 272.4 351.09Z" fill="#0f77db"/>
<path d="M271.11 352.94L270.09 354.41A10 10 0 0 1 268.7 353.25L269.97 351.99A8.21 8.21 0 0 0 271.11 352.94Z" fill="#0d93d2"/>
<path d="M273.38 348.63L272.72 349.31A4.38 4.38 0 0 1 272.21 348.7L272.98 348.16A3.43 3.43 0 0 0 273.38 348.63Z" fill="#352a87"/>
<path d="M272.79 349.23L270.72 351.32A7.21 7.21 0 0 1 269.88 350.32L272.29 348.64A4.28 4.28 0 0 0 272.79 349.23Z" fill="#1b55d7"/>
<path d="M270.79 351.25L268.44 353.62A10.45 10.45 0 0 1 267.22 352.16L269.96 350.26A7.11 7.11 0 0 0 270.79 351.25Z" fill="#0f77db"/>
<path d="M268.51 353.54L266.72 355.34A12.88 12.88 0 0 1 265.22 353.55L267.3 352.11A10.35 10.35 0 0 0 268.51 353.54Z" fill="#0d93d2"/>
<path d="M266.79 355.27L265.58 356.49A14.5 14.5 0 0 1 263.89 354.48L265.31 353.49A12.78 12.78 0 0 0 266.79 355.27Z" fill="#07aac1"/>
<path d="M273 348.18L272.03 348.86A4.62 4.62 0 0 1 271.61 348.14L272.69 347.64A3.43 3.43 0 0 0 273 348.18Z" fill="#352a87"/>
<path d="M272.11 348.8L269.12 350.91A8.17 8.17 0 0 1 268.38 349.63L271.7 348.09A4.52 4.52 0 0 0 272.11 348.8Z" fill="#1b55d7"/>
<path d="M269.2 350.85L265.8 353.25A12.24 12.24 0 0 1 264.69 351.33L268.47 349.59A8.07 8.07 0 0 0 269.2 350.85Z" fill="#0f77db"/>
<path d="M265.88 353.2L263.31 355.01A15.28 15.28 0 0 1 261.93 352.61L264.78 351.29A12.14 12.14 0 0 0 265.88 353.2Z" fill="#0d93d2"/>
<path d="M263.39 354.95L261.65 356.18A17.31 17.31 0 0 1 260.08 353.46L262.02 352.57A15.18 15.18 0 0 0 263.39 354.95Z" fill="#07aac1"/>
<path d="M261.73 356.12L260.68 356.86A18.5 18.5 0 0 1 259.01 353.96L260.17 353.42A17.21 17.21 0 0 0 261.73 356.12Z" fill="#33b8a1"/>
<path d="M272.7 347.66L270.82 348.54A5.5 5.5 0 0 1 270.48 347.6L272.48 347.08A3.43 3.43 0 0 0 272.7 347.66Z" fill="#352a87"/>
<path d="M270.91 348.5L268.11 349.82A8.5 8.5 0 0 1 267.58 348.37L270.58 347.58A5.4 5.4 0 0 0 270.91 348.5Z" fill="#1b55d7"/>
<path d="M268.2 349.78L265.39 351.1A11.5 11.5 0 0 1 264.68 349.14L267.68 348.35A8.4 8.4 0 0 0 268.2 349.78Z" fill="#0f77db"/>
<path d="M265.48 351.05L263.13 352.16A14 14 0 0 1 262.26 349.78L264.78 349.11A11.4 11.4 0 0 0 265.48 351.05Z" fill="#0d93d2"/>
<path d="M263.22 352.12L260.87 353.23A16.5 16.5 0 0 1 259.85 350.41L262.36 349.75A13.9 13.9 0 0 0 263.22 352.12Z" fill="#07aac1"/>
<path d="M260.96 353.18L258.61 354.29A19 19 0 0 1 257.43 351.05L259.94 350.39A16.4 16.4 0 0 0 260.96 353.18Z" fill="#33b8a1"/>
<path d="M258.7 354.25L256.35 355.35A21.5 21.5 0 0 1 255.01 351.69L257.53 351.03A18.9 18.9 0 0 0 258.7 354.25Z" fill="#7abf7c"/>
<path d="M256.44 355.31L254.54 356.21A23.5 23.5 0 0 1 253.08 352.2L255.11 351.67A21.4 21.4 0 0 0 256.44 355.31Z" fill="#b8bd63"/>
<path d="M254.63 356.16L252.27 357.27A26 26 0 0 1 250.66 352.84L253.18 352.18A23.4 23.4 0 0 0 254.63 356.16Z" fill="#ecb94c"/>
<path d="M252.36 357.23L250.28 358.21A28.2 28.2 0 0 1 248.54 353.4L250.76 352.82A25.9 25.9 0 0 0 252.36 357.23Z" fill="#fad12b"/>
<path d="M272.49 347.1L270.49 347.64A5.5 5.5 0 0 1 270.32 346.66L272.38 346.49A3.43 3.43 0 0 0 272.49 347.1Z" fill="#352a87"/>
<path d="M270.59 347.62L267.11 348.56A9 9 0 0 1 266.83 346.95L270.42 346.65A5.4 5.4 0 0 0 270.59 347.62Z" fill="#1b55d7"/>
<path d="M267.21 348.53L264.22 349.35A12 12 0 0 1 263.84 347.2L266.93 346.94A8.9 8.9 0 0 0 267.21 348.53Z" fill="#0f77db"/>
<path d="M264.32 349.32L261.32 350.13A15 15 0 0 1 260.85 347.46L263.94 347.2A11.9 11.9 0 0 0 264.32 349.32Z" fill="#0d93d2"/>
<path d="M261.42 350.11L258.91 350.79A17.5 17.5 0 0 1 258.36 347.66L260.95 347.45A14.9 14.9 0 0 0 261.42 350.11Z" fill="#07aac1"/>
<path d="M259.01 350.76L256.5 351.44A20 20 0 0 1 255.87 347.87L258.46 347.66A17.4 17.4 0 0 0 259.01 350.76Z" fill="#33b8a1"/>
<path d="M256.6 351.42L254.09 352.1A22.5 22.5 0 0 1 253.38 348.08L255.97 347.87A19.9 19.9 0 0 0 256.6 351.42Z" fill="#7abf7c"/>
<path d="M254.18 352.07L251.67 352.75A25 25 0 0 1 250.89 348.29L253.48 348.07A22.4 22.4 0 0 0 254.18 352.07Z" fill="#b8bd63"/>
<path d="M251.77 352.73L249.26 353.41A27.5 27.5 0 0 1 248.4 348.5L250.99 348.28A24.9 24.9 0 0 0 251.77 352.73Z" fill="#ecb94c"/>
<path d="M249.36 353.38L247.14 353.99A29.7 29.7 0 0 1 246.2 348.69L248.5 348.49A27.4 27.4 0 0 0 249.36 353.38Z" fill="#fad12b"/>
<path d="M272.38 346.51L270.86 346.65A4.96 4.96 0 0 1 270.86 345.75L272.38 345.89A3.43 3.43 0 0 0 272.38 346.51Z" fill="#352a87"/>
<path d="M270.96 346.64L266.28 347.07A9.56 9.56 0 0 1 266.28 345.33L270.96 345.76A4.86 4.86 0 0 0 270.96 346.64Z" fill="#1b55d7"/>
<path d="M266.38 347.06L261.05 347.54A14.81 14.81 0 0 1 261.05 344.86L266.38 345.34A9.46 9.46 0 0 0 266.38 347.06Z" fill="#0f77db"/>
<path d="M261.15 347.53L257.13 347.9A18.75 18.75 0 0 1 257.13 344.5L261.15 344.87A14.71 14.71 0 0 0 261.15 347.53Z" fill="#0d93d2"/>
<path d="M257.23 347.89L254.51 348.14A21.37 21.37 0 0 1 254.51 344.26L257.23 344.51A18.65 18.65 0 0 0 257.23 347.89Z" fill="#07aac1"/>
<path d="M254.61 348.13L252.99 348.28A22.91 22.91 0 0 1 252.99 344.12L254.61 344.27A21.27 21.27 0 0 0 254.61 348.13Z" fill="#33b8a1"/>
<path d="M253.09 348.27L251.9 348.38A24 24 0 0 1 251.9 344.02L253.09 344.13A22.81 22.81 0 0 0 253.09 348.27Z" fill="#7abf7c"/>
<path d="M272.38 345.91L270.85 345.78A4.96 4.96 0 0 1 271.01 344.9L272.49 345.3A3.43 3.43 0 0 0 272.38 345.91Z" fill="#352a87"/>
<path d="M270.95 345.79L266.28 345.4A9.56 9.56 0 0 1 266.58 343.69L271.11 344.92A4.86 4.86 0 0 0 270.95 345.79Z" fill="#1b55d7"/>
<path d="M266.38 345.41L261.04 344.96A14.81 14.81 0 0 1 261.51 342.32L266.67 343.72A9.46 9.46 0 0 0 266.38 345.41Z" fill="#0f77db"/>
<path d="M261.14 344.97L257.12 344.63A18.75 18.75 0 0 1 257.71 341.28L261.6 342.34A14.71 14.71 0 0 0 261.14 344.97Z" fill="#0d93d2"/>
<path d="M257.22 344.64L254.5 344.41A21.37 21.37 0 0 1 255.17 340.6L257.8 341.31A18.65 18.65 0 0 0 257.22 344.64Z" fill="#07aac1"/>
<path d="M254.6 344.42L252.97 344.28A22.91 22.91 0 0 1 253.7 340.19L255.27 340.62A21.27 21.27 0 0 0 254.6 344.42Z" fill="#33b8a1"/>
<path d="M253.07 344.29L251.88 344.19A24 24 0 0 1 252.64 339.91L253.79 340.22A22.81 22.81 0 0 0 253.07 344.29Z" fill="#7abf7c"/>
<path d="M272.48 345.32L270.04 344.68A5.96 5.96 0 0 1 270.41 343.66L272.7 344.74A3.43 3.43 0 0 0 272.48 345.32Z" fill="#352a87"/>
<path d="M270.14 344.7L262.72 342.74A13.53 13.53 0 0 1 263.56 340.44L270.5 343.71A5.86 5.86 0 0 0 270.14 344.7Z" fill="#1b55d7"/>
<path d="M262.82 342.77L254.35 340.53A22.19 22.19 0 0 1 255.72 336.75L263.65 340.48A13.43 13.43 0 0 0 262.82 342.77Z" fill="#0f77db"/>
<path d="M254.45 340.56L248.07 338.87A28.68 28.68 0 0 1 249.85 333.99L255.82 336.8A22.09 22.09 0 0 0 254.45 340.56Z" fill="#0d93d2"/>
<path d="M248.17 338.9L243.89 337.77A33.01 33.01 0 0 1 245.93 332.15L249.94 334.03A28.58 28.58 0 0 0 248.17 338.9Z" fill="#07aac1"/>
<path d="M243.98 337.79L241.45 337.12A35.53 35.53 0 0 1 243.65 331.07L246.02 332.19A32.91 32.91 0 0 0 243.98 337.79Z" fill="#33b8a1"/>
<path d="M241.54 337.15L239.7 336.66A37.34 37.34 0 0 1 242.02 330.3L243.74 331.11A35.43 35.43 0 0 0 241.54 337.15Z" fill="#7abf7c"/>
<path d="M239.8 336.69L238.48 336.34A38.6 38.6 0 0 1 240.88 329.77L242.11 330.35A37.24 37.24 0 0 0 239.8 336.69Z" fill="#b8bd63"/>
<path d="M238.58 336.37L237.96 336.2A39.14 39.14 0 0 1 240.39 329.54L240.97 329.81A38.5 38.5 0 0 0 238.58 336.37Z" fill="#ecb94c"/>
<path d="M238.06 336.23L237.61 336.11A39.5 39.5 0 0 1 240.06 329.38L240.48 329.58A39.04 39.04 0 0 0 238.06 336.23Z" fill="#fad12b"/>
<path d="M272.69 344.76L269.9 343.47A6.5 6.5 0 0 1 270.49 342.45L273 344.22A3.43 3.43 0 0 0 272.69 344.76Z" fill="#352a87"/>
<path d="M269.99 343.52L260.37 339.07A17 17 0 0 1 261.91 336.4L270.57 342.51A6.4 6.4 0 0 0 269.99 343.52Z" fill="#1b55d7"/>
<path d="M260.46 339.11L249.93 334.25A28.5 28.5 0 0 1 252.51 329.77L261.99 336.46A16.9 16.9 0 0 0 260.46 339.11Z" fill="#0f77db"/>
<path d="M250.02 334.29L242.21 330.68A37 37 0 0 1 245.57 324.87L252.59 329.83A28.4 28.4 0 0 0 250.02 334.29Z" fill="#0d93d2"/>
<path d="M242.3 330.72L236.77 328.16A43 43 0 0 1 240.66 321.41L245.65 324.93A36.9 36.9 0 0 0 242.3 330.72Z" fill="#07aac1"/>
<path d="M236.86 328.21L233.59 326.7A46.5 46.5 0 0 1 237.8 319.4L240.74 321.47A42.9 42.9 0 0 0 236.86 328.21Z" fill="#33b8a1"/>
<path d="M233.68 326.74L229.32 324.72A51.2 51.2 0 0 1 233.96 316.69L237.88 319.45A46.4 46.4 0 0 0 233.68 326.74Z" fill="#7abf7c"/>
<path d="M229.41 324.77L228.41 324.3A52.2 52.2 0 0 1 233.15 316.11L234.04 316.74A51.1 51.1 0 0 0 229.41 324.77Z" fill="#b8bd63"/>
<path d="M272.98 344.24L270.75 342.69A6.15 6.15 0 0 1 271.47 341.84L273.38 343.77A3.43 3.43 0 0 0 272.98 344.24Z" fill="#352a87"/>
<path d="M270.83 342.75L264.05 338.03A14.31 14.31 0 0 1 265.72 336.05L271.54 341.91A6.05 6.05 0 0 0 270.83 342.75Z" fill="#1b55d7"/>
<path d="M264.13 338.09L256.4 332.71A23.63 23.63 0 0 1 259.15 329.43L265.79 336.12A14.21 14.21 0 0 0 264.13 338.09Z" fill="#0f77db"/>
<path d="M256.48 332.77L250.66 328.72A30.62 30.62 0 0 1 254.22 324.47L259.22 329.5A23.53 23.53 0 0 0 256.48 332.77Z" fill="#0d93d2"/>
<path d="M250.74 328.78L246.83 326.06A35.28 35.28 0 0 1 250.94 321.17L254.29 324.54A30.52 30.52 0 0 0 250.74 328.78Z" fill="#07aac1"/>
<path d="M246.91 326.12L244.6 324.51A38 38 0 0 1 249.02 319.24L251.01 321.24A35.18 35.18 0 0 0 246.91 326.12Z" fill="#33b8a1"/>
<path d="M273.37 343.78L272.62 343.04A4.49 4.49 0 0 1 273.24 342.51L273.84 343.38A3.43 3.43 0 0 0 273.37 343.78Z" fill="#352a87"/>
<path d="M272.69 343.11L270.37 340.8A7.66 7.66 0 0 1 271.43 339.91L273.3 342.6A4.39 4.39 0 0 0 272.69 343.11Z" fill="#1b55d7"/>
<path d="M270.44 340.87L267.79 338.25A11.28 11.28 0 0 1 269.36 336.94L271.49 339.99A7.56 7.56 0 0 0 270.44 340.87Z" fill="#0f77db"/>
<path d="M267.87 338.32L265.87 336.34A14 14 0 0 1 267.81 334.7L269.42 337.02A11.18 11.18 0 0 0 267.87 338.32Z" fill="#0d93d2"/>
<path d="M273.82 343.4L273.23 342.56A4.45 4.45 0 0 1 273.93 342.16L274.36 343.09A3.43 3.43 0 0 0 273.82 343.4Z" fill="#352a87"/>
<path d="M273.29 342.65L271.47 340.07A7.51 7.51 0 0 1 272.65 339.39L273.98 342.25A4.35 4.35 0 0 0 273.29 342.65Z" fill="#1b55d7"/>
<path d="M271.53 340.15L269.46 337.21A11 11 0 0 1 271.19 336.21L272.69 339.48A7.41 7.41 0 0 0 271.53 340.15Z" fill="#0f77db"/>
<path d="M274.34 343.1L274.05 342.49A4.1 4.1 0 0 1 274.75 342.24L274.92 342.88A3.43 3.43 0 0 0 274.34 343.1Z" fill="#352a87"/>
<path d="M274.1 342.58L273.2 340.67A6.11 6.11 0 0 1 274.24 340.3L274.78 342.33A4 4 0 0 0 274.1 342.58Z" fill="#1b55d7"/>
<path d="M273.24 340.76L272.22 338.6A8.4 8.4 0 0 1 273.65 338.08L274.27 340.39A6.01 6.01 0 0 0 273.24 340.76Z" fill="#0f77db"/>
<path d="M274.9 342.89L274.67 342.03A4.32 4.32 0 0 1 275.44 341.89L275.51 342.78A3.43 3.43 0 0 0 274.9 342.89Z" fill="#352a87"/>
<path d="M274.69 342.12L273.96 339.44A7 7 0 0 1 275.21 339.22L275.45 341.99A4.22 4.22 0 0 0 274.69 342.12Z" fill="#1b55d7"/>
<path d="M275.5 342.78L275.42 341.89A4.32 4.32 0 0 1 276.18 341.89L276.1 342.78A3.43 3.43 0 0 0 275.5 342.78ZM275.42 341.89L275.19 339.23A7 7 0 0 1 276.41 339.23L276.18 341.89A4.32 4.32 0 0 0 275.42 341.89ZM276.1 342.78L276.13 342.39A3.82 3.82 0 0 1 276.79 342.51L276.69 342.89A3.43 3.43 0 0 0 276.1 342.78ZM276.13 342.39L276.24 341.22A5 5 0 0 1 277.09 341.37L276.79 342.51A3.82 3.82 0 0 0 276.13 342.39ZM274.91 349.51L274.75 350.13A4.07 4.07 0 0 1 274.08 349.89L274.35 349.31A3.43 3.43 0 0 0 274.91 349.51ZM274.75 350.13L274.25 352A6 6 0 0 1 273.26 351.64L274.08 349.89A4.07 4.07 0 0 0 274.75 350.13ZM274.35 349.31L274.08 349.89A4.07 4.07 0 0 1 273.46 349.54L273.83 349.01A3.43 3.43 0 0 0 274.35 349.31ZM274.08 349.89L273.26 351.64A6 6 0 0 1 272.36 351.11L273.46 349.54A4.07 4.07 0 0 0 274.08 349.89ZM273.83 349.01L273.46 349.55A4.09 4.09 0 0 1 272.91 349.09L273.37 348.63A3.43 3.43 0 0 0 273.83 349.01ZM273.46 349.55L272.32 351.16A6.06 6.06 0 0 1 271.52 350.48L272.91 349.09A4.09 4.09 0 0 0 273.46 349.55ZM272.32 351.16L271.03 353.01A8.31 8.31 0 0 1 269.92 352.08L271.52 350.48A6.06 6.06 0 0 0 272.32 351.16ZM271.03 353.01L270.06 354.39A10 10 0 0 1 268.73 353.27L269.92 352.08A8.31 8.31 0 0 0 271.03 353.01ZM273.37 348.63L272.71 349.29A4.38 4.38 0 0 1 272.22 348.71L272.99 348.17A3.43 3.43 0 0 0 273.37 348.63ZM272.71 349.29L270.7 351.3A7.21 7.21 0 0 1 269.89 350.34L272.22 348.71A4.38 4.38 0 0 0 272.71 349.29ZM270.7 351.3L268.41 353.59A10.45 10.45 0 0 1 267.24 352.19L269.89 350.34A7.21 7.21 0 0 0 270.7 351.3ZM268.41 353.59L266.69 355.31A12.88 12.88 0 0 1 265.25 353.59L267.24 352.19A10.45 10.45 0 0 0 268.41 353.59ZM266.69 355.31L265.55 356.45A14.5 14.5 0 0 1 263.92 354.52L265.25 353.59A12.88 12.88 0 0 0 266.69 355.31ZM272.99 348.17L272.02 348.85A4.62 4.62 0 0 1 271.62 348.15L272.69 347.65A3.43 3.43 0 0 0 272.99 348.17ZM272.02 348.85L269.11 350.89A8.17 8.17 0 0 1 268.39 349.65L271.62 348.15A4.62 4.62 0 0 0 272.02 348.85ZM269.11 350.89L265.78 353.22A12.24 12.24 0 0 1 264.71 351.37L268.39 349.65A8.17 8.17 0 0 0 269.11 350.89ZM265.78 353.22L263.28 354.97A15.28 15.28 0 0 1 261.95 352.66L264.71 351.37A12.24 12.24 0 0 0 265.78 353.22ZM263.28 354.97L261.62 356.13A17.31 17.31 0 0 1 260.11 353.52L261.95 352.66A15.28 15.28 0 0 0 263.28 354.97ZM261.62 356.13L260.65 356.81A18.5 18.5 0 0 1 259.03 354.02L260.11 353.52A17.31 17.31 0 0 0 261.62 356.13ZM272.69 347.65L270.82 348.52A5.5 5.5 0 0 1 270.49 347.62L272.49 347.09A3.43 3.43 0 0 0 272.69 347.65ZM270.82 348.52L268.1 349.79A8.5 8.5 0 0 1 267.59 348.4L270.49 347.62A5.5 5.5 0 0 0 270.82 348.52ZM268.1 349.79L265.38 351.06A11.5 11.5 0 0 1 264.69 349.18L267.59 348.4A8.5 8.5 0 0 0 268.1 349.79ZM265.38 351.06L263.11 352.12A14 14 0 0 1 262.28 349.82L264.69 349.18A11.5 11.5 0 0 0 265.38 351.06ZM263.11 352.12L260.85 353.17A16.5 16.5 0 0 1 259.86 350.47L262.28 349.82A14 14 0 0 0 263.11 352.12ZM260.85 353.17L258.58 354.23A19 19 0 0 1 257.45 351.12L259.86 350.47A16.5 16.5 0 0 0 260.85 353.17ZM258.58 354.23L256.31 355.29A21.5 21.5 0 0 1 255.03 351.76L257.45 351.12A19 19 0 0 0 258.58 354.23ZM256.31 355.29L254.5 356.13A23.5 23.5 0 0 1 253.1 352.28L255.03 351.76A21.5 21.5 0 0 0 256.31 355.29ZM254.5 356.13L252.24 357.19A26 26 0 0 1 250.69 352.93L253.1 352.28A23.5 23.5 0 0 0 254.5 356.13ZM252.24 357.19L250.24 358.12A28.2 28.2 0 0 1 248.56 353.5L250.69 352.93A26 26 0 0 0 252.24 357.19ZM272.49 347.09L270.49 347.62A5.5 5.5 0 0 1 270.32 346.68L272.38 346.5A3.43 3.43 0 0 0 272.49 347.09ZM270.49 347.62L267.11 348.53A9 9 0 0 1 266.83 346.98L270.32 346.68A5.5 5.5 0 0 0 270.49 347.62ZM267.11 348.53L264.21 349.31A12 12 0 0 1 263.85 347.25L266.83 346.98A9 9 0 0 0 267.11 348.53ZM264.21 349.31L261.31 350.08A15 15 0 0 1 260.86 347.51L263.85 347.25A12 12 0 0 0 264.21 349.31ZM261.31 350.08L258.9 350.73A17.5 17.5 0 0 1 258.37 347.73L260.86 347.51A15 15 0 0 0 261.31 350.08ZM258.9 350.73L256.48 351.38A20 20 0 0 1 255.88 347.94L258.37 347.73A17.5 17.5 0 0 0 258.9 350.73ZM256.48 351.38L254.07 352.02A22.5 22.5 0 0 1 253.39 348.16L255.88 347.94A20 20 0 0 0 256.48 351.38ZM254.07 352.02L251.65 352.67A25 25 0 0 1 250.9 348.38L253.39 348.16A22.5 22.5 0 0 0 254.07 352.02ZM251.65 352.67L249.24 353.32A27.5 27.5 0 0 1 248.4 348.6L250.9 348.38A25 25 0 0 0 251.65 352.67ZM249.24 353.32L247.11 353.89A29.7 29.7 0 0 1 246.21 348.79L248.4 348.6A27.5 27.5 0 0 0 249.24 353.32ZM272.38 346.5L270.86 346.63A4.96 4.96 0 0 1 270.86 345.77L272.38 345.9A3.43 3.43 0 0 0 272.38 346.5ZM270.86 346.63L266.28 347.03A9.56 9.56 0 0 1 266.28 345.37L270.86 345.77A4.96 4.96 0 0 0 270.86 346.63ZM266.28 347.03L261.05 347.49A14.81 14.81 0 0 1 261.05 344.91L266.28 345.37A9.56 9.56 0 0 0 266.28 347.03ZM261.05 347.49L257.12 347.83A18.75 18.75 0 0 1 257.12 344.57L261.05 344.91A14.81 14.81 0 0 0 261.05 347.49ZM257.12 347.83L254.51 348.06A21.37 21.37 0 0 1 254.51 344.34L257.12 344.57A18.75 18.75 0 0 0 257.12 347.83ZM254.51 348.06L252.98 348.2A22.91 22.91 0 0 1 252.98 344.2L254.51 344.34A21.37 21.37 0 0 0 254.51 348.06ZM252.98 348.2L251.89 348.29A24 24 0 0 1 251.89 344.11L252.98 344.2A22.91 22.91 0 0 0 252.98 348.2ZM272.38 345.9L270.86 345.77A4.96 4.96 0 0 1 271.01 344.92L272.49 345.31A3.43 3.43 0 0 0 272.38 345.9ZM270.86 345.77L266.28 345.37A9.56 9.56 0 0 1 266.57 343.73L271.01 344.92A4.96 4.96 0 0 0 270.86 345.77ZM266.28 345.37L261.05 344.91A14.81 14.81 0 0 1 261.49 342.37L266.57 343.73A9.56 9.56 0 0 0 266.28 345.37ZM261.05 344.91L257.12 344.57A18.75 18.75 0 0 1 257.69 341.35L261.49 342.37A14.81 14.81 0 0 0 261.05 344.91ZM257.12 344.57L254.51 344.34A21.37 21.37 0 0 1 255.15 340.67L257.69 341.35A18.75 18.75 0 0 0 257.12 344.57ZM254.51 344.34L252.98 344.2A22.91 22.91 0 0 1 253.67 340.27L255.15 340.67A21.37 21.37 0 0 0 254.51 344.34ZM252.98 344.2L251.89 344.11A24 24 0 0 1 252.62 339.99L253.67 340.27A22.91 22.91 0 0 0 252.98 344.2ZM272.49 345.31L270.05 344.66A5.96 5.96 0 0 1 270.4 343.68L272.69 344.75A3.43 3.43 0 0 0 272.49 345.31ZM270.05 344.66L262.73 342.7A13.53 13.53 0 0 1 263.54 340.48L270.4 343.68A5.96 5.96 0 0 0 270.05 344.66ZM262.73 342.7L254.37 340.46A22.19 22.19 0 0 1 255.69 336.82L263.54 340.48A13.53 13.53 0 0 0 262.73 342.7ZM254.37 340.46L248.1 338.78A28.68 28.68 0 0 1 249.81 334.08L255.69 336.82A22.19 22.19 0 0 0 254.37 340.46ZM248.1 338.78L243.92 337.66A33.01 33.01 0 0 1 245.88 332.25L249.81 334.08A28.68 28.68 0 0 0 248.1 338.78ZM243.92 337.66L241.48 337A35.53 35.53 0 0 1 243.6 331.18L245.88 332.25A33.01 33.01 0 0 0 243.92 337.66ZM241.48 337L239.74 336.54A37.34 37.34 0 0 1 241.96 330.42L243.6 331.18A35.53 35.53 0 0 0 241.48 337ZM239.74 336.54L238.52 336.21A38.6 38.6 0 0 1 240.82 329.89L241.96 330.42A37.34 37.34 0 0 0 239.74 336.54ZM238.52 336.21L237.99 336.07A39.14 39.14 0 0 1 240.33 329.66L240.82 329.89A38.6 38.6 0 0 0 238.52 336.21ZM237.99 336.07L237.65 335.98A39.5 39.5 0 0 1 240 329.51L240.33 329.66A39.14 39.14 0 0 0 237.99 336.07ZM272.69 344.75L269.91 343.45A6.5 6.5 0 0 1 270.48 342.47L272.99 344.23A3.43 3.43 0 0 0 272.69 344.75ZM269.91 343.45L260.39 339.02A17 17 0 0 1 261.87 336.45L270.48 342.47A6.5 6.5 0 0 0 269.91 343.45ZM260.39 339.02L249.97 334.16A28.5 28.5 0 0 1 252.45 329.85L261.87 336.45A17 17 0 0 0 260.39 339.02ZM249.97 334.16L242.27 330.56A37 37 0 0 1 245.49 324.98L252.45 329.85A28.5 28.5 0 0 0 249.97 334.16ZM242.27 330.56L236.83 328.03A43 43 0 0 1 240.58 321.54L245.49 324.98A37 37 0 0 0 242.27 330.56ZM236.83 328.03L233.66 326.55A46.5 46.5 0 0 1 237.71 319.53L240.58 321.54A43 43 0 0 0 236.83 328.03ZM233.66 326.55L229.4 324.56A51.2 51.2 0 0 1 233.86 316.83L237.71 319.53A46.5 46.5 0 0 0 233.66 326.55ZM229.4 324.56L228.49 324.14A52.2 52.2 0 0 1 233.04 316.26L233.86 316.83A51.2 51.2 0 0 0 229.4 324.56ZM272.99 344.23L270.76 342.67A6.15 6.15 0 0 1 271.45 341.85L273.37 343.77A3.43 3.43 0 0 0 272.99 344.23ZM270.76 342.67L264.08 337.99A14.31 14.31 0 0 1 265.68 336.08L271.45 341.85A6.15 6.15 0 0 0 270.76 342.67ZM264.08 337.99L256.44 332.65A23.63 23.63 0 0 1 259.09 329.49L265.68 336.08A14.31 14.31 0 0 0 264.08 337.99ZM256.44 332.65L250.72 328.64A30.62 30.62 0 0 1 254.15 324.55L259.09 329.49A23.63 23.63 0 0 0 256.44 332.65ZM250.72 328.64L246.9 325.96A35.28 35.28 0 0 1 250.85 321.25L254.15 324.55A30.62 30.62 0 0 0 250.72 328.64ZM246.9 325.96L244.67 324.4A38 38 0 0 1 248.93 319.33L250.85 321.25A35.28 35.28 0 0 0 246.9 325.96ZM273.37 343.77L272.63 343.03A4.49 4.49 0 0 1 273.23 342.52L273.83 343.39A3.43 3.43 0 0 0 273.37 343.77ZM272.63 343.03L270.38 340.78A7.66 7.66 0 0 1 271.41 339.93L273.23 342.52A4.49 4.49 0 0 0 272.63 343.03ZM270.38 340.78L267.82 338.22A11.28 11.28 0 0 1 269.33 336.96L271.41 339.93A7.66 7.66 0 0 0 270.38 340.78ZM267.82 338.22L265.9 336.3A14 14 0 0 1 267.77 334.73L269.33 336.96A11.28 11.28 0 0 0 267.82 338.22ZM273.83 343.39L273.25 342.55A4.45 4.45 0 0 1 273.92 342.17L274.35 343.09A3.43 3.43 0 0 0 273.83 343.39ZM273.25 342.55L271.49 340.05A7.51 7.51 0 0 1 272.63 339.4L273.92 342.17A4.45 4.45 0 0 0 273.25 342.55ZM271.49 340.05L269.49 337.19A11 11 0 0 1 271.15 336.23L272.63 339.4A7.51 7.51 0 0 0 271.49 340.05ZM274.35 343.09L274.07 342.48A4.1 4.1 0 0 1 274.74 342.24L274.91 342.89A3.43 3.43 0 0 0 274.35 343.09ZM274.07 342.48L273.22 340.67A6.11 6.11 0 0 1 274.22 340.3L274.74 342.24A4.1 4.1 0 0 0 274.07 342.48ZM273.22 340.67L272.25 338.59A8.4 8.4 0 0 1 273.63 338.09L274.22 340.3A6.11 6.11 0 0 0 273.22 340.67ZM274.91 342.89L274.68 342.02A4.32 4.32 0 0 1 275.42 341.89L275.5 342.78A3.43 3.43 0 0 0 274.91 342.89ZM274.68 342.02L273.99 339.44A7 7 0 0 1 275.19 339.23L275.42 341.89A4.32 4.32 0 0 0 274.68 342.02Z" fill="none" stroke="#06183c" stroke-opacity="0.42" stroke-width="0.2"/>
<circle cx="275.8" cy="346.2" r="3.43" fill="#fff" stroke="#666" stroke-width="0.4"/>
<text x="276" y="347.1" font-size="2.6" text-anchor="middle" fill="#555" stroke="none">0%</text>
<text x="276.3" y="283.86" font-size="4.29" font-weight="bold" text-anchor="middle" fill="#111">Mean Wave Direction</text>
<text x="276" y="290.1" font-size="4.68" text-anchor="middle" fill="#222">North</text>
<text x="276" y="406.43" font-size="4.68" text-anchor="middle" fill="#222">South</text>
<text x="219.5" y="348.4" font-size="4.68" text-anchor="end" fill="#222">West</text>
<text x="332.6" y="348.4" font-size="4.68" text-anchor="start" fill="#222">East</text>
<text x="289.49" y="353.36" font-size="4.52" fill="#222">3.8%</text>
<text x="298.4" y="358.51" font-size="4.52" fill="#222">7.6%</text>
<text x="306.72" y="363.46" font-size="4.52" fill="#222">11.4%</text>
<text x="315.23" y="368.5" font-size="4.52" fill="#222">15.2%</text>
<text x="325.14" y="375.45" font-size="4.52" fill="#222">19%</text>
<text x="200.3" y="289.4" font-size="3.32" fill="#222">Significant Wave Height - SWH (m)</text>
<rect x="187.4" y="291" width="10.96" height="3.02" fill="#f9fb0e"/>
<text x="200.37" y="293.61" font-size="3.32" word-spacing="0.5" fill="#222">SHW ≥ 11</text>
<rect x="187.4" y="295.78" width="10.96" height="3.02" fill="#fad12b"/>
<text x="200.37" y="298.39" font-size="3.32" word-spacing="0.5" fill="#222">10 ≤ SHW &lt; 11</text>
<rect x="187.4" y="300.56" width="10.96" height="3.02" fill="#ecb94c"/>
<text x="200.37" y="303.17" font-size="3.32" word-spacing="0.5" fill="#222">9 ≤ SHW &lt; 10</text>
<rect x="187.4" y="305.34" width="10.96" height="3.02" fill="#b8bd63"/>
<text x="200.37" y="307.95" font-size="3.32" word-spacing="0.5" fill="#222">8 ≤ SHW &lt; 9</text>
<rect x="187.4" y="310.12" width="10.96" height="3.02" fill="#7abf7c"/>
<text x="200.37" y="312.73" font-size="3.32" word-spacing="0.5" fill="#222">7 ≤ SHW &lt; 8</text>
<rect x="187.4" y="314.9" width="10.96" height="3.02" fill="#33b8a1"/>
<text x="200.37" y="317.51" font-size="3.32" word-spacing="0.5" fill="#222">6 ≤ SHW &lt; 7</text>
<rect x="187.4" y="319.68" width="10.96" height="3.02" fill="#07aac1"/>
<text x="200.37" y="322.29" font-size="3.32" word-spacing="0.5" fill="#222">5 ≤ SHW &lt; 6</text>
<rect x="187.4" y="324.46" width="10.96" height="3.02" fill="#0d93d2"/>
<text x="200.37" y="327.07" font-size="3.32" word-spacing="0.5" fill="#222">4 ≤ SHW &lt; 5</text>
<rect x="187.4" y="329.24" width="10.96" height="3.02" fill="#0f77db"/>
<text x="200.37" y="331.85" font-size="3.32" word-spacing="0.5" fill="#222">3 ≤ SHW &lt; 4</text>
<rect x="187.4" y="334.02" width="10.96" height="3.02" fill="#1b55d7"/>
<text x="200.37" y="336.63" font-size="3.32" word-spacing="0.5" fill="#222">2 ≤ SHW &lt; 3</text>
<rect x="187.4" y="338.8" width="10.96" height="3.02" fill="#352a87"/>
<text x="200.37" y="341.41" font-size="3.32" word-spacing="0.5" fill="#222">1 ≤ SHW &lt; 2</text>
<text x="189.4" y="404.3" font-size="4.5" font-weight="bold" fill="#111">(f) SILL HFR</text>
</g>
<g>
<circle cx="98.2" cy="484.6" r="13.93" fill="none" stroke="#b4b4b4" stroke-width="0.35"/>
<circle cx="98.2" cy="484.6" r="24.37" fill="none" stroke="#b4b4b4" stroke-width="0.35"/>
<circle cx="98.2" cy="484.6" r="34.81" fill="none" stroke="#b4b4b4" stroke-width="0.35"/>
<circle cx="98.2" cy="484.6" r="45.26" fill="none" stroke="#b4b4b4" stroke-width="0.35"/>
<line x1="98.2" y1="481.12" x2="98.2" y2="428.9" stroke="#b4b4b4" stroke-width="0.35"/>
<line x1="99.94" y1="481.59" x2="126.05" y2="436.36" stroke="#b4b4b4" stroke-width="0.35"/>
<line x1="101.21" y1="482.86" x2="146.44" y2="456.75" stroke="#b4b4b4" stroke-width="0.35"/>
<line x1="101.68" y1="484.6" x2="153.9" y2="484.6" stroke="#b4b4b4" stroke-width="0.35"/>
<line x1="101.21" y1="486.34" x2="146.44" y2="512.45" stroke="#b4b4b4" stroke-width="0.35"/>
<line x1="99.94" y1="487.61" x2="126.05" y2="532.84" stroke="#b4b4b4" stroke-width="0.35"/>
<line x1="98.2" y1="488.08" x2="98.2" y2="540.3" stroke="#b4b4b4" stroke-width="0.35"/>
<line x1="96.46" y1="487.61" x2="70.35" y2="532.84" stroke="#b4b4b4" stroke-width="0.35"/>
<line x1="95.19" y1="486.34" x2="49.96" y2="512.45" stroke="#b4b4b4" stroke-width="0.35"/>
<line x1="94.72" y1="484.6" x2="42.5" y2="484.6" stroke="#b4b4b4" stroke-width="0.35"/>
<line x1="95.19" y1="482.86" x2="49.96" y2="456.75" stroke="#b4b4b4" stroke-width="0.35"/>
<line x1="96.46" y1="481.59" x2="70.35" y2="436.36" stroke="#b4b4b4" stroke-width="0.35"/>
<circle cx="98.2" cy="484.6" r="55.7" fill="none" stroke="#666" stroke-width="0.55"/>
<path d="M95.75 487.07L93.97 488.86A6 6 0 0 1 93.27 488.02L95.34 486.59A3.48 3.48 0 0 0 95.75 487.07Z" fill="#352a87"/>
<path d="M94.04 488.79L92.92 489.92A7.5 7.5 0 0 1 92.04 488.88L93.36 487.97A5.9 5.9 0 0 0 94.04 488.79Z" fill="#0268e1"/>
<path d="M92.99 489.85L92.35 490.49A8.3 8.3 0 0 1 91.38 489.34L92.12 488.82A7.4 7.4 0 0 0 92.99 489.85Z" fill="#0faeb9"/>
<path d="M92.42 490.42L91.51 491.34A9.5 9.5 0 0 1 90.4 490.02L91.47 489.28A8.2 8.2 0 0 0 92.42 490.42Z" fill="#ffc337"/>
<path d="M95.36 486.61L91.66 489.21A8 8 0 0 1 90.94 487.96L95.04 486.06A3.48 3.48 0 0 0 95.36 486.61Z" fill="#352a87"/>
<path d="M91.74 489.15L87.58 492.09A13 13 0 0 1 86.4 490.05L91.03 487.91A7.9 7.9 0 0 0 91.74 489.15Z" fill="#0268e1"/>
<path d="M87.66 492.04L85.13 493.82A16 16 0 0 1 83.68 491.31L86.49 490.01A12.9 12.9 0 0 0 87.66 492.04Z" fill="#108ed2"/>
<path d="M85.21 493.77L83.9 494.69A17.5 17.5 0 0 1 82.31 491.94L83.77 491.27A15.9 15.9 0 0 0 85.21 493.77Z" fill="#0faeb9"/>
<path d="M83.98 494.63L83 495.32A18.6 18.6 0 0 1 81.32 492.4L82.4 491.9A17.4 17.4 0 0 0 83.98 494.63Z" fill="#65be86"/>
<path d="M83.08 495.26L82.02 496.01A19.8 19.8 0 0 1 80.23 492.91L81.41 492.36A18.5 18.5 0 0 0 83.08 495.26Z" fill="#c0bc60"/>
<path d="M95.05 486.08L87.34 489.71A12 12 0 0 1 86.6 487.67L94.83 485.49A3.48 3.48 0 0 0 95.05 486.08Z" fill="#352a87"/>
<path d="M87.43 489.67L71.42 497.2A29.6 29.6 0 0 1 69.58 492.16L86.69 487.64A11.9 11.9 0 0 0 87.43 489.67Z" fill="#0268e1"/>
<path d="M71.51 497.16L58.39 503.33A44 44 0 0 1 55.66 495.84L69.68 492.14A29.5 29.5 0 0 0 71.51 497.16Z" fill="#108ed2"/>
<path d="M58.48 503.29L50.24 507.17A53 53 0 0 1 46.96 498.14L55.76 495.81A43.9 43.9 0 0 0 58.48 503.29Z" fill="#0faeb9"/>
<path d="M50.33 507.12L49.43 507.55A53.9 53.9 0 0 1 46.09 498.37L47.06 498.11A52.9 52.9 0 0 0 50.33 507.12Z" fill="#65be86"/>
<path d="M49.52 507.51L48.62 507.93A54.8 54.8 0 0 1 45.22 498.6L46.18 498.34A53.8 53.8 0 0 0 49.52 507.51Z" fill="#c0bc60"/>
<path d="M94.84 485.51L86.62 487.75A12 12 0 0 1 86.24 485.6L94.73 484.89A3.48 3.48 0 0 0 94.84 485.51Z" fill="#352a87"/>
<path d="M86.72 487.72L73.11 491.42A26 26 0 0 1 72.29 486.78L86.34 485.6A11.9 11.9 0 0 0 86.72 487.72Z" fill="#0268e1"/>
<path d="M73.21 491.39L68.77 492.6A30.5 30.5 0 0 1 67.81 487.15L72.39 486.77A25.9 25.9 0 0 0 73.21 491.39Z" fill="#108ed2"/>
<path d="M68.86 492.57L65.49 493.49A33.9 33.9 0 0 1 64.42 487.44L67.91 487.14A30.4 30.4 0 0 0 68.86 492.57Z" fill="#0faeb9"/>
<path d="M94.73 484.92L93.72 485.01A4.5 4.5 0 0 1 93.72 484.19L94.73 484.28A3.48 3.48 0 0 0 94.73 484.92Z" fill="#352a87"/>
<path d="M95.74 487.06L93.96 488.84A6 6 0 0 1 93.29 488.04L95.35 486.6A3.48 3.48 0 0 0 95.74 487.06ZM93.96 488.84L92.9 489.9A7.5 7.5 0 0 1 92.06 488.9L93.29 488.04A6 6 0 0 0 93.96 488.84ZM92.9 489.9L92.33 490.47A8.3 8.3 0 0 1 91.4 489.36L92.06 488.9A7.5 7.5 0 0 0 92.9 489.9ZM92.33 490.47L91.48 491.32A9.5 9.5 0 0 1 90.42 490.05L91.4 489.36A8.3 8.3 0 0 0 92.33 490.47ZM95.35 486.6L91.65 489.19A8 8 0 0 1 90.95 487.98L95.04 486.07A3.48 3.48 0 0 0 95.35 486.6ZM91.65 489.19L87.55 492.06A13 13 0 0 1 86.42 490.09L90.95 487.98A8 8 0 0 0 91.65 489.19ZM87.55 492.06L85.09 493.78A16 16 0 0 1 83.7 491.36L86.42 490.09A13 13 0 0 0 87.55 492.06ZM85.09 493.78L83.86 494.64A17.5 17.5 0 0 1 82.34 492L83.7 491.36A16 16 0 0 0 85.09 493.78ZM83.86 494.64L82.96 495.27A18.6 18.6 0 0 1 81.34 492.46L82.34 492A17.5 17.5 0 0 0 83.86 494.64ZM82.96 495.27L81.98 495.96A19.8 19.8 0 0 1 80.26 492.97L81.34 492.46A18.6 18.6 0 0 0 82.96 495.27ZM95.04 486.07L87.32 489.67A12 12 0 0 1 86.61 487.71L94.84 485.5A3.48 3.48 0 0 0 95.04 486.07ZM87.32 489.67L71.37 497.11A29.6 29.6 0 0 1 69.61 492.26L86.61 487.71A12 12 0 0 0 87.32 489.67ZM71.37 497.11L58.32 503.2A44 44 0 0 1 55.7 495.99L69.61 492.26A29.6 29.6 0 0 0 71.37 497.11ZM58.32 503.2L50.17 507A53 53 0 0 1 47.01 498.32L55.7 495.99A44 44 0 0 0 58.32 503.2ZM50.17 507L49.35 507.38A53.9 53.9 0 0 1 46.14 498.55L47.01 498.32A53 53 0 0 0 50.17 507ZM49.35 507.38L48.53 507.76A54.8 54.8 0 0 1 45.27 498.78L46.14 498.55A53.9 53.9 0 0 0 49.35 507.38ZM94.84 485.5L86.61 487.71A12 12 0 0 1 86.25 485.65L94.73 484.9A3.48 3.48 0 0 0 94.84 485.5ZM86.61 487.71L73.09 491.33A26 26 0 0 1 72.3 486.87L86.25 485.65A12 12 0 0 0 86.61 487.71ZM73.09 491.33L68.74 492.49A30.5 30.5 0 0 1 67.82 487.26L72.3 486.87A26 26 0 0 0 73.09 491.33ZM68.74 492.49L65.46 493.37A33.9 33.9 0 0 1 64.43 487.55L67.82 487.26A30.5 30.5 0 0 0 68.74 492.49ZM94.73 484.9L93.72 484.99A4.5 4.5 0 0 1 93.72 484.21L94.73 484.3A3.48 3.48 0 0 0 94.73 484.9Z" fill="none" stroke="#06183c" stroke-opacity="0.42" stroke-width="0.2"/>
<circle cx="98.2" cy="484.6" r="3.48" fill="#fff" stroke="#666" stroke-width="0.4"/>
<text x="98.4" y="485.5" font-size="2.6" text-anchor="middle" fill="#555" stroke="none">0%</text>
<text x="98.7" y="421.14" font-size="4.36" font-weight="bold" text-anchor="middle" fill="#111">Mean Wave Direction</text>
<text x="98.4" y="427.7" font-size="4.74" text-anchor="middle" fill="#222">North</text>
<text x="98.4" y="545.71" font-size="4.74" text-anchor="middle" fill="#222">South</text>
<text x="41.1" y="486.8" font-size="4.74" text-anchor="end" fill="#222">West</text>
<text x="155.8" y="486.8" font-size="4.74" text-anchor="start" fill="#222">East</text>
<text x="110.66" y="496.66" font-size="4.59" fill="#222">9.2%</text>
<text x="119.2" y="501.88" font-size="4.59" fill="#222">18.4%</text>
<text x="128.45" y="507.31" font-size="4.59" fill="#222">27.6%</text>
<text x="137.59" y="512.53" font-size="4.59" fill="#222">36.8%</text>
<text x="146.84" y="517.55" font-size="4.59" fill="#222">46%</text>
<text x="21.2" y="428" font-size="3.37" fill="#222">Significant Wave Height - SWH (m)</text>
<rect x="8.4" y="429.6" width="11.12" height="3.06" fill="#f9fb0e"/>
<text x="21.56" y="432.25" font-size="3.37" word-spacing="0.5" fill="#222">SHW ≥ 7</text>
<rect x="8.4" y="434.48" width="11.12" height="3.06" fill="#ffc337"/>
<text x="21.56" y="437.13" font-size="3.37" word-spacing="0.5" fill="#222">6 ≤ SHW &lt; 7</text>
<rect x="8.4" y="439.36" width="11.12" height="3.06" fill="#c0bc60"/>
<text x="21.56" y="442.01" font-size="3.37" word-spacing="0.5" fill="#222">5 ≤ SHW &lt; 6</text>
<rect x="8.4" y="444.24" width="11.12" height="3.06" fill="#65be86"/>
<text x="21.56" y="446.89" font-size="3.37" word-spacing="0.5" fill="#222">4 ≤ SHW &lt; 5</text>
<rect x="8.4" y="449.12" width="11.12" height="3.06" fill="#0faeb9"/>
<text x="21.56" y="451.77" font-size="3.37" word-spacing="0.5" fill="#222">3 ≤ SHW &lt; 4</text>
<rect x="8.4" y="454" width="11.12" height="3.06" fill="#108ed2"/>
<text x="21.56" y="456.65" font-size="3.37" word-spacing="0.5" fill="#222">2 ≤ SHW &lt; 3</text>
<rect x="8.4" y="458.88" width="11.12" height="3.06" fill="#0268e1"/>
<text x="21.56" y="461.53" font-size="3.37" word-spacing="0.5" fill="#222">1 ≤ SHW &lt; 2</text>
<rect x="8.4" y="463.76" width="11.12" height="3.06" fill="#352a87"/>
<text x="21.56" y="466.41" font-size="3.37" word-spacing="0.5" fill="#222">0 ≤ SHW &lt; 1</text>
<text x="8.6" y="545.3" font-size="4.65" font-weight="bold" fill="#111">(g) Faro coastal buoy</text>
</g>
<g>
<circle cx="275.6" cy="484.5" r="13.93" fill="none" stroke="#b4b4b4" stroke-width="0.35"/>
<circle cx="275.6" cy="484.5" r="24.37" fill="none" stroke="#b4b4b4" stroke-width="0.35"/>
<circle cx="275.6" cy="484.5" r="34.81" fill="none" stroke="#b4b4b4" stroke-width="0.35"/>
<circle cx="275.6" cy="484.5" r="45.26" fill="none" stroke="#b4b4b4" stroke-width="0.35"/>
<line x1="275.6" y1="481.02" x2="275.6" y2="428.8" stroke="#b4b4b4" stroke-width="0.35"/>
<line x1="277.34" y1="481.49" x2="303.45" y2="436.26" stroke="#b4b4b4" stroke-width="0.35"/>
<line x1="278.61" y1="482.76" x2="323.84" y2="456.65" stroke="#b4b4b4" stroke-width="0.35"/>
<line x1="279.08" y1="484.5" x2="331.3" y2="484.5" stroke="#b4b4b4" stroke-width="0.35"/>
<line x1="278.61" y1="486.24" x2="323.84" y2="512.35" stroke="#b4b4b4" stroke-width="0.35"/>
<line x1="277.34" y1="487.51" x2="303.45" y2="532.74" stroke="#b4b4b4" stroke-width="0.35"/>
<line x1="275.6" y1="487.98" x2="275.6" y2="540.2" stroke="#b4b4b4" stroke-width="0.35"/>
<line x1="273.86" y1="487.51" x2="247.75" y2="532.74" stroke="#b4b4b4" stroke-width="0.35"/>
<line x1="272.59" y1="486.24" x2="227.36" y2="512.35" stroke="#b4b4b4" stroke-width="0.35"/>
<line x1="272.12" y1="484.5" x2="219.9" y2="484.5" stroke="#b4b4b4" stroke-width="0.35"/>
<line x1="272.59" y1="482.76" x2="227.36" y2="456.65" stroke="#b4b4b4" stroke-width="0.35"/>
<line x1="273.86" y1="481.49" x2="247.75" y2="436.26" stroke="#b4b4b4" stroke-width="0.35"/>
<circle cx="275.6" cy="484.5" r="55.7" fill="none" stroke="#666" stroke-width="0.55"/>
<path d="M275.28 481.03L275.03 478.23A6.3 6.3 0 0 1 276.17 478.23L275.92 481.03A3.48 3.48 0 0 0 275.28 481.03Z" fill="#352a87"/>
<path d="M275.04 478.33L274.85 476.23A8.3 8.3 0 0 1 276.35 476.23L276.16 478.33A6.2 6.2 0 0 0 275.04 478.33Z" fill="#0462e0"/>
<path d="M274.86 476.33L274.72 474.84A9.7 9.7 0 0 1 276.48 474.84L276.34 476.33A8.2 8.2 0 0 0 274.86 476.33Z" fill="#06a6c7"/>
<path d="M275.89 481.03L276.13 478.22A6.3 6.3 0 0 1 277.25 478.42L276.51 481.14A3.48 3.48 0 0 0 275.89 481.03Z" fill="#352a87"/>
<path d="M276.12 478.32L276.31 476.03A8.5 8.5 0 0 1 277.83 476.3L277.23 478.52A6.2 6.2 0 0 0 276.12 478.32Z" fill="#0462e0"/>
<path d="M276.3 476.13L276.44 474.54A10 10 0 0 1 278.22 474.85L277.8 476.39A8.4 8.4 0 0 0 276.3 476.13Z" fill="#06a6c7"/>
<path d="M276.49 481.13L277.13 478.7A6 6 0 0 1 278.15 479.07L277.08 481.35A3.48 3.48 0 0 0 276.49 481.13Z" fill="#352a87"/>
<path d="M277.11 478.8L277.39 477.73A7 7 0 0 1 278.58 478.17L278.11 479.16A5.9 5.9 0 0 0 277.11 478.8Z" fill="#0462e0"/>
<path d="M277.06 481.34L278.54 478.15A7 7 0 0 1 279.64 478.78L277.61 481.66A3.48 3.48 0 0 0 277.06 481.34Z" fill="#352a87"/>
<path d="M277.59 481.64L279.31 479.16A6.5 6.5 0 0 1 280.21 479.92L278.07 482.05A3.48 3.48 0 0 0 277.59 481.64Z" fill="#352a87"/>
<path d="M278.05 482.03L280.53 479.53A7 7 0 0 1 281.35 480.51L278.46 482.51A3.48 3.48 0 0 0 278.05 482.03Z" fill="#352a87"/>
<path d="M278.44 482.49L280.75 480.87A6.3 6.3 0 0 1 281.32 481.86L278.76 483.04A3.48 3.48 0 0 0 278.44 482.49Z" fill="#352a87"/>
<path d="M278.75 483.02L281.93 481.52A7 7 0 0 1 282.37 482.71L278.97 483.61A3.48 3.48 0 0 0 278.75 483.02Z" fill="#352a87"/>
<path d="M278.96 483.59L281.87 482.8A6.5 6.5 0 0 1 282.08 483.96L279.07 484.21A3.48 3.48 0 0 0 278.96 483.59Z" fill="#352a87"/>
<path d="M279.07 484.18L279.59 484.14A4 4 0 0 1 279.59 484.86L279.07 484.82A3.48 3.48 0 0 0 279.07 484.18Z" fill="#352a87"/>
<path d="M279.49 484.15L282.77 483.85A7.2 7.2 0 0 1 282.77 485.15L279.49 484.85A3.9 3.9 0 0 0 279.49 484.15Z" fill="#0462e0"/>
<path d="M279.07 484.79L282.08 485.04A6.5 6.5 0 0 1 281.87 486.2L278.96 485.41A3.48 3.48 0 0 0 279.07 484.79Z" fill="#352a87"/>
<path d="M278.97 485.39L281.69 486.11A6.3 6.3 0 0 1 281.3 487.18L278.75 485.98A3.48 3.48 0 0 0 278.97 485.39Z" fill="#352a87"/>
<path d="M278.76 485.96L281.77 487.35A6.8 6.8 0 0 1 281.16 488.42L278.44 486.51A3.48 3.48 0 0 0 278.76 485.96Z" fill="#352a87"/>
<path d="M278.46 486.49L280.77 488.1A6.3 6.3 0 0 1 280.04 488.97L278.05 486.97A3.48 3.48 0 0 0 278.46 486.49Z" fill="#352a87"/>
<path d="M278.07 486.95L280.21 489.08A6.5 6.5 0 0 1 279.31 489.84L277.59 487.36A3.48 3.48 0 0 0 278.07 486.95Z" fill="#352a87"/>
<path d="M277.61 487.34L279.23 489.65A6.3 6.3 0 0 1 278.24 490.22L277.06 487.66A3.48 3.48 0 0 0 277.61 487.34Z" fill="#352a87"/>
<path d="M277.08 487.65L278.37 490.38A6.5 6.5 0 0 1 277.26 490.78L276.49 487.87A3.48 3.48 0 0 0 277.08 487.65Z" fill="#352a87"/>
<path d="M276.51 487.86L276.66 488.4A4.04 4.04 0 0 1 275.94 488.53L275.89 487.97A3.48 3.48 0 0 0 276.51 487.86Z" fill="#352a87"/>
<path d="M276.63 488.31L277.57 491.74A7.5 7.5 0 0 1 276.23 491.97L275.93 488.43A3.94 3.94 0 0 0 276.63 488.31Z" fill="#0462e0"/>
<path d="M275.92 487.97L276.06 489.5A5.02 5.02 0 0 1 275.14 489.5L275.28 487.97A3.48 3.48 0 0 0 275.92 487.97Z" fill="#352a87"/>
<path d="M276.05 489.4L276.91 498.93A14.49 14.49 0 0 1 274.29 498.93L275.15 489.4A4.92 4.92 0 0 0 276.05 489.4Z" fill="#0462e0"/>
<path d="M276.9 498.83L277.41 504.42A20 20 0 0 1 273.79 504.42L274.3 498.83A14.39 14.39 0 0 0 276.9 498.83Z" fill="#1484d4"/>
<path d="M275.31 487.97L275.14 489.97A5.49 5.49 0 0 1 274.16 489.8L274.69 487.86A3.48 3.48 0 0 0 275.31 487.97Z" fill="#352a87"/>
<path d="M275.15 489.87L274.11 502.26A17.83 17.83 0 0 1 270.93 501.7L274.19 489.7A5.39 5.39 0 0 0 275.15 489.87Z" fill="#0462e0"/>
<path d="M274.12 502.16L273.51 509.41A25 25 0 0 1 269.05 508.63L270.95 501.61A17.73 17.73 0 0 0 274.12 502.16Z" fill="#1484d4"/>
<path d="M274.71 487.87L274.04 490.4A6.11 6.11 0 0 1 273 490.03L274.12 487.65A3.48 3.48 0 0 0 274.71 487.87Z" fill="#352a87"/>
<path d="M274.07 490.31L269.92 506A22.24 22.24 0 0 1 266.13 504.62L273.04 489.94A6.01 6.01 0 0 0 274.07 490.31Z" fill="#0462e0"/>
<path d="M269.94 505.91L267.52 515.07A31.62 31.62 0 0 1 262.14 513.11L266.17 504.53A22.14 22.14 0 0 0 269.94 505.91Z" fill="#1484d4"/>
<path d="M267.55 514.97L266.28 519.79A36.5 36.5 0 0 1 260.06 517.52L262.18 513.02A31.52 31.52 0 0 0 267.55 514.97Z" fill="#06a6c7"/>
<path d="M266.3 519.69L265.65 522.14A38.94 38.94 0 0 1 259.02 519.73L260.1 517.43A36.4 36.4 0 0 0 266.3 519.69Z" fill="#33b8a1"/>
<path d="M265.68 522.05L265.37 523.23A40.06 40.06 0 0 1 258.54 520.75L259.06 519.64A38.84 38.84 0 0 0 265.68 522.05Z" fill="#8bbf75"/>
<path d="M265.39 523.14L265.13 524.14A41 41 0 0 1 258.14 521.6L258.58 520.66A39.96 39.96 0 0 0 265.39 523.14Z" fill="#d3bb58"/>
<path d="M274.14 487.66L272.67 490.84A6.98 6.98 0 0 1 271.58 490.21L273.59 487.34A3.48 3.48 0 0 0 274.14 487.66Z" fill="#352a87"/>
<path d="M272.71 490.75L263.65 510.36A28.49 28.49 0 0 1 259.18 507.78L271.63 490.12A6.88 6.88 0 0 0 272.71 490.75Z" fill="#0462e0"/>
<path d="M263.69 510.27L258.4 521.71A41 41 0 0 1 251.97 518L259.23 507.7A28.39 28.39 0 0 0 263.69 510.27Z" fill="#1484d4"/>
<path d="M258.45 521.62L255.68 527.62A47.5 47.5 0 0 1 248.22 523.31L252.03 517.92A40.9 40.9 0 0 0 258.45 521.62Z" fill="#06a6c7"/>
<path d="M255.72 527.53L254.31 530.57A50.75 50.75 0 0 1 246.35 525.97L248.28 523.23A47.4 47.4 0 0 0 255.72 527.53Z" fill="#33b8a1"/>
<path d="M254.36 530.48L253.68 531.93A52.25 52.25 0 0 1 245.48 527.2L246.4 525.89A50.65 50.65 0 0 0 254.36 530.48Z" fill="#8bbf75"/>
<path d="M253.73 531.84L253.16 533.07A53.5 53.5 0 0 1 244.76 528.22L245.54 527.11A52.15 52.15 0 0 0 253.73 531.84Z" fill="#d3bb58"/>
<path d="M273.61 487.36L271.75 490.04A6.75 6.75 0 0 1 270.81 489.26L273.13 486.95A3.48 3.48 0 0 0 273.61 487.36Z" fill="#352a87"/>
<path d="M271.81 489.96L260.29 506.53A26.82 26.82 0 0 1 256.57 503.4L270.88 489.19A6.65 6.65 0 0 0 271.81 489.96Z" fill="#0462e0"/>
<path d="M260.35 506.44L253.63 516.11A38.5 38.5 0 0 1 248.28 511.63L256.64 503.33A26.72 26.72 0 0 0 260.35 506.44Z" fill="#1484d4"/>
<path d="M253.69 516.03L250.17 521.09A44.56 44.56 0 0 1 243.98 515.9L248.36 511.55A38.4 38.4 0 0 0 253.69 516.03Z" fill="#06a6c7"/>
<path d="M250.22 521.01L248.43 523.59A47.6 47.6 0 0 1 241.82 518.04L244.05 515.83A44.46 44.46 0 0 0 250.22 521.01Z" fill="#33b8a1"/>
<path d="M248.49 523.5L247.64 524.74A49 49 0 0 1 240.83 519.03L241.9 517.97A47.5 47.5 0 0 0 248.49 523.5Z" fill="#8bbf75"/>
<path d="M273.15 486.97L271.3 488.83A6.1 6.1 0 0 1 270.59 487.98L272.74 486.49A3.48 3.48 0 0 0 273.15 486.97Z" fill="#352a87"/>
<path d="M271.37 488.76L259.95 500.26A22.21 22.21 0 0 1 257.36 497.17L270.67 487.93A6 6 0 0 0 271.37 488.76Z" fill="#0462e0"/>
<path d="M260.02 500.19L253.35 506.9A31.57 31.57 0 0 1 249.67 502.52L257.45 497.12A22.11 22.11 0 0 0 260.02 500.19Z" fill="#1484d4"/>
<path d="M253.42 506.83L249.92 510.36A36.44 36.44 0 0 1 245.68 505.3L249.76 502.46A31.47 31.47 0 0 0 253.42 506.83Z" fill="#06a6c7"/>
<path d="M249.99 510.29L248.21 512.09A38.88 38.88 0 0 1 243.68 506.69L245.76 505.24A36.34 36.34 0 0 0 249.99 510.29Z" fill="#33b8a1"/>
<path d="M248.28 512.01L247.41 512.88A40 40 0 0 1 242.75 507.33L243.76 506.63A38.78 38.78 0 0 0 248.28 512.01Z" fill="#8bbf75"/>
<path d="M272.76 486.51L270.79 487.89A5.89 5.89 0 0 1 270.26 486.97L272.44 485.96A3.48 3.48 0 0 0 272.76 486.51Z" fill="#352a87"/>
<path d="M270.87 487.84L258.71 496.42A20.67 20.67 0 0 1 256.84 493.17L270.35 486.93A5.79 5.79 0 0 0 270.87 487.84Z" fill="#0462e0"/>
<path d="M258.79 496.36L251.69 501.37A29.26 29.26 0 0 1 249.03 496.78L256.93 493.13A20.57 20.57 0 0 0 258.79 496.36Z" fill="#1484d4"/>
<path d="M251.77 501.31L248.03 503.95A33.73 33.73 0 0 1 244.98 498.65L249.12 496.73A29.16 29.16 0 0 0 251.77 501.31Z" fill="#06a6c7"/>
<path d="M248.12 503.89L246.21 505.23A35.97 35.97 0 0 1 242.95 499.59L245.07 498.61A33.63 33.63 0 0 0 248.12 503.89Z" fill="#33b8a1"/>
<path d="M246.29 505.18L245.37 505.83A37 37 0 0 1 242.01 500.02L243.04 499.55A35.87 35.87 0 0 0 246.29 505.18Z" fill="#8bbf75"/>
<path d="M272.45 485.98L270.77 486.77A5.33 5.33 0 0 1 270.44 485.86L272.23 485.39A3.48 3.48 0 0 0 272.45 485.98Z" fill="#352a87"/>
<path d="M270.86 486.73L260.47 491.62A16.72 16.72 0 0 1 259.44 488.77L270.54 485.84A5.23 5.23 0 0 0 270.86 486.73Z" fill="#0462e0"/>
<path d="M260.56 491.58L254.48 494.44A23.34 23.34 0 0 1 253.04 490.46L259.53 488.75A16.62 16.62 0 0 0 260.56 491.58Z" fill="#1484d4"/>
<path d="M254.57 494.39L251.37 495.9A26.78 26.78 0 0 1 249.71 491.34L253.13 490.44A23.24 23.24 0 0 0 254.57 494.39Z" fill="#06a6c7"/>
<path d="M251.46 495.86L249.81 496.63A28.5 28.5 0 0 1 248.05 491.78L249.81 491.32A26.68 26.68 0 0 0 251.46 495.86Z" fill="#33b8a1"/>
<path d="M272.24 485.41L269.33 486.2A6.5 6.5 0 0 1 269.12 485.04L272.13 484.79A3.48 3.48 0 0 0 272.24 485.41Z" fill="#352a87"/>
<path d="M269.42 486.18L264.02 487.65A12 12 0 0 1 263.64 485.5L269.22 485.04A6.4 6.4 0 0 0 269.42 486.18Z" fill="#0462e0"/>
<path d="M264.12 487.62L261.61 488.3A14.5 14.5 0 0 1 261.15 485.71L263.74 485.5A11.9 11.9 0 0 0 264.12 487.62Z" fill="#1484d4"/>
<path d="M261.7 488.28L259.68 488.83A16.5 16.5 0 0 1 259.16 485.88L261.25 485.7A14.4 14.4 0 0 0 261.7 488.28Z" fill="#06a6c7"/>
<path d="M272.13 484.82L269.33 485.07A6.3 6.3 0 0 1 269.33 483.93L272.13 484.18A3.48 3.48 0 0 0 272.13 484.82Z" fill="#352a87"/>
<path d="M269.43 485.06L266.14 485.36A9.5 9.5 0 0 1 266.14 483.64L269.43 483.94A6.2 6.2 0 0 0 269.43 485.06Z" fill="#0462e0"/>
<path d="M266.24 485.35L264.65 485.5A11 11 0 0 1 264.65 483.5L266.24 483.65A9.4 9.4 0 0 0 266.24 485.35Z" fill="#1484d4"/>
<path d="M264.74 485.49L263.65 485.59A12 12 0 0 1 263.65 483.41L264.74 483.51A10.9 10.9 0 0 0 264.74 485.49Z" fill="#06a6c7"/>
<path d="M272.13 484.21L269.32 483.97A6.3 6.3 0 0 1 269.52 482.85L272.24 483.59A3.48 3.48 0 0 0 272.13 484.21Z" fill="#352a87"/>
<path d="M269.42 483.98L267.63 483.83A8 8 0 0 1 267.88 482.4L269.62 482.87A6.2 6.2 0 0 0 269.42 483.98Z" fill="#0462e0"/>
<path d="M267.73 483.84L266.63 483.75A9 9 0 0 1 266.91 482.14L267.98 482.43A7.9 7.9 0 0 0 267.73 483.84Z" fill="#1484d4"/>
<path d="M272.23 483.61L269.51 482.89A6.3 6.3 0 0 1 269.9 481.82L272.45 483.02A3.48 3.48 0 0 0 272.23 483.61Z" fill="#352a87"/>
<path d="M269.61 482.92L267.87 482.46A8 8 0 0 1 268.36 481.09L269.99 481.86A6.2 6.2 0 0 0 269.61 482.92Z" fill="#0462e0"/>
<path d="M267.96 482.48L266.9 482.2A9 9 0 0 1 267.46 480.67L268.45 481.14A7.9 7.9 0 0 0 267.96 482.48Z" fill="#06a6c7"/>
<path d="M272.44 483.04L269.88 481.86A6.3 6.3 0 0 1 270.45 480.87L272.76 482.49A3.48 3.48 0 0 0 272.44 483.04Z" fill="#352a87"/>
<path d="M269.97 481.9L268.79 481.35A7.5 7.5 0 0 1 269.47 480.18L270.53 480.93A6.2 6.2 0 0 0 269.97 481.9Z" fill="#0462e0"/>
<path d="M268.88 481.4L268.07 481.02A8.3 8.3 0 0 1 268.82 479.72L269.55 480.23A7.4 7.4 0 0 0 268.88 481.4Z" fill="#1484d4"/>
<path d="M268.16 481.06L267.25 480.64A9.2 9.2 0 0 1 268.08 479.2L268.9 479.77A8.2 8.2 0 0 0 268.16 481.06Z" fill="#06a6c7"/>
<path d="M267.34 480.68L266.07 480.1A10.5 10.5 0 0 1 267.02 478.45L268.16 479.25A9.1 9.1 0 0 0 267.34 480.68Z" fill="#8bbf75"/>
<path d="M272.74 482.51L270.43 480.9A6.3 6.3 0 0 1 271.16 480.03L273.15 482.03A3.48 3.48 0 0 0 272.74 482.51Z" fill="#352a87"/>
<path d="M270.51 480.96L269.2 480.05A7.8 7.8 0 0 1 270.1 478.97L271.23 480.1A6.2 6.2 0 0 0 270.51 480.96Z" fill="#0462e0"/>
<path d="M269.28 480.11L268.37 479.48A8.8 8.8 0 0 1 269.4 478.26L270.17 479.04A7.7 7.7 0 0 0 269.28 480.11Z" fill="#1484d4"/>
<path d="M268.46 479.53L267.39 478.79A10 10 0 0 1 268.55 477.4L269.47 478.33A8.7 8.7 0 0 0 268.46 479.53Z" fill="#06a6c7"/>
<path d="M273.13 482.05L271.13 480.06A6.3 6.3 0 0 1 272 479.33L273.61 481.64A3.48 3.48 0 0 0 273.13 482.05Z" fill="#352a87"/>
<path d="M271.2 480.13L270.07 479A7.8 7.8 0 0 1 271.15 478.1L272.06 479.41A6.2 6.2 0 0 0 271.2 480.13Z" fill="#0462e0"/>
<path d="M270.14 479.07L269.5 478.44A8.6 8.6 0 0 1 270.69 477.44L271.21 478.18A7.7 7.7 0 0 0 270.14 479.07Z" fill="#1484d4"/>
<path d="M269.57 478.51L268.86 477.81A9.5 9.5 0 0 1 270.18 476.7L270.75 477.52A8.5 8.5 0 0 0 269.57 478.51Z" fill="#06a6c7"/>
<path d="M273.59 481.66L271.97 479.35A6.3 6.3 0 0 1 272.96 478.78L274.14 481.34A3.48 3.48 0 0 0 273.59 481.66Z" fill="#352a87"/>
<path d="M272.03 479.43L271.1 478.13A7.8 7.8 0 0 1 272.33 477.42L273 478.87A6.2 6.2 0 0 0 272.03 479.43Z" fill="#0462e0"/>
<path d="M271.16 478.21L270.41 477.15A9 9 0 0 1 271.82 476.33L272.37 477.51A7.7 7.7 0 0 0 271.16 478.21Z" fill="#06a6c7"/>
<path d="M274.12 481.35L272.92 478.8A6.3 6.3 0 0 1 273.99 478.41L274.71 481.13A3.48 3.48 0 0 0 274.12 481.35Z" fill="#352a87"/>
<path d="M272.96 478.89L272.19 477.26A8 8 0 0 1 273.56 476.77L274.02 478.51A6.2 6.2 0 0 0 272.96 478.89Z" fill="#0462e0"/>
<path d="M274.69 481.14L273.95 478.42A6.3 6.3 0 0 1 275.07 478.22L275.31 481.03A3.48 3.48 0 0 0 274.69 481.14Z" fill="#352a87"/>
<path d="M273.97 478.52L273.5 476.78A8 8 0 0 1 274.93 476.53L275.08 478.32A6.2 6.2 0 0 0 273.97 478.52Z" fill="#0462e0"/>
<path d="M275.3 481.03L275.05 478.22A6.3 6.3 0 0 1 276.15 478.22L275.9 481.03A3.48 3.48 0 0 0 275.3 481.03ZM275.05 478.22L274.88 476.23A8.3 8.3 0 0 1 276.32 476.23L276.15 478.22A6.3 6.3 0 0 0 275.05 478.22ZM274.88 476.23L274.75 474.84A9.7 9.7 0 0 1 276.45 474.84L276.32 476.23A8.3 8.3 0 0 0 274.88 476.23ZM275.9 481.03L276.15 478.22A6.3 6.3 0 0 1 277.23 478.41L276.5 481.14A3.48 3.48 0 0 0 275.9 481.03ZM276.15 478.22L276.34 476.03A8.5 8.5 0 0 1 277.8 476.29L277.23 478.41A6.3 6.3 0 0 0 276.15 478.22ZM276.34 476.03L276.47 474.54A10 10 0 0 1 278.19 474.84L277.8 476.29A8.5 8.5 0 0 0 276.34 476.03ZM276.5 481.14L277.15 478.7A6 6 0 0 1 278.14 479.06L277.07 481.34A3.48 3.48 0 0 0 276.5 481.14ZM277.15 478.7L277.41 477.74A7 7 0 0 1 278.56 478.16L278.14 479.06A6 6 0 0 0 277.15 478.7ZM277.07 481.34L278.56 478.16A7 7 0 0 1 279.62 478.77L277.6 481.65A3.48 3.48 0 0 0 277.07 481.34ZM277.6 481.65L279.33 479.18A6.5 6.5 0 0 1 280.2 479.9L278.06 482.04A3.48 3.48 0 0 0 277.6 481.65ZM278.06 482.04L280.55 479.55A7 7 0 0 1 281.33 480.48L278.45 482.5A3.48 3.48 0 0 0 278.06 482.04ZM278.45 482.5L280.76 480.89A6.3 6.3 0 0 1 281.31 481.84L278.76 483.03A3.48 3.48 0 0 0 278.45 482.5ZM278.76 483.03L281.94 481.54A7 7 0 0 1 282.36 482.69L278.96 483.6A3.48 3.48 0 0 0 278.76 483.03ZM278.96 483.6L281.88 482.82A6.5 6.5 0 0 1 282.08 483.93L279.07 484.2A3.48 3.48 0 0 0 278.96 483.6ZM279.07 484.2L279.59 484.15A4 4 0 0 1 279.59 484.85L279.07 484.8A3.48 3.48 0 0 0 279.07 484.2ZM279.59 484.15L282.77 483.87A7.2 7.2 0 0 1 282.77 485.13L279.59 484.85A4 4 0 0 0 279.59 484.15ZM279.07 484.8L282.08 485.07A6.5 6.5 0 0 1 281.88 486.18L278.96 485.4A3.48 3.48 0 0 0 279.07 484.8ZM278.96 485.4L281.69 486.13A6.3 6.3 0 0 1 281.31 487.16L278.76 485.97A3.48 3.48 0 0 0 278.96 485.4ZM278.76 485.97L281.76 487.37A6.8 6.8 0 0 1 281.17 488.4L278.45 486.5A3.48 3.48 0 0 0 278.76 485.97ZM278.45 486.5L280.76 488.11A6.3 6.3 0 0 1 280.05 488.95L278.06 486.96A3.48 3.48 0 0 0 278.45 486.5ZM278.06 486.96L280.2 489.1A6.5 6.5 0 0 1 279.33 489.82L277.6 487.35A3.48 3.48 0 0 0 278.06 486.96ZM277.6 487.35L279.21 489.66A6.3 6.3 0 0 1 278.26 490.21L277.07 487.66A3.48 3.48 0 0 0 277.6 487.35ZM277.07 487.66L278.35 490.39A6.5 6.5 0 0 1 277.28 490.78L276.5 487.86A3.48 3.48 0 0 0 277.07 487.66ZM276.5 487.86L276.65 488.41A4.04 4.04 0 0 1 275.95 488.53L275.9 487.97A3.48 3.48 0 0 0 276.5 487.86ZM276.65 488.41L277.54 491.74A7.5 7.5 0 0 1 276.25 491.97L275.95 488.53A4.04 4.04 0 0 0 276.65 488.41ZM275.9 487.97L276.04 489.5A5.02 5.02 0 0 1 275.16 489.5L275.3 487.97A3.48 3.48 0 0 0 275.9 487.97ZM276.04 489.5L276.86 498.94A14.49 14.49 0 0 1 274.34 498.94L275.16 489.5A5.02 5.02 0 0 0 276.04 489.5ZM276.86 498.94L277.34 504.42A20 20 0 0 1 273.86 504.42L274.34 498.94A14.49 14.49 0 0 0 276.86 498.94ZM275.3 487.97L275.12 489.97A5.49 5.49 0 0 1 274.18 489.8L274.7 487.86A3.48 3.48 0 0 0 275.3 487.97ZM275.12 489.97L274.05 502.26A17.83 17.83 0 0 1 270.99 501.72L274.18 489.8A5.49 5.49 0 0 0 275.12 489.97ZM274.05 502.26L273.42 509.4A25 25 0 0 1 269.13 508.65L270.99 501.72A17.83 17.83 0 0 0 274.05 502.26ZM274.7 487.86L274.02 490.4A6.11 6.11 0 0 1 273.02 490.04L274.13 487.66A3.48 3.48 0 0 0 274.7 487.86ZM274.02 490.4L269.84 505.98A22.24 22.24 0 0 1 266.2 504.66L273.02 490.04A6.11 6.11 0 0 0 274.02 490.4ZM269.84 505.98L267.42 515.04A31.62 31.62 0 0 1 262.24 513.16L266.2 504.66A22.24 22.24 0 0 0 269.84 505.98ZM267.42 515.04L266.15 519.75A36.5 36.5 0 0 1 260.18 517.58L262.24 513.16A31.62 31.62 0 0 0 267.42 515.04ZM266.15 519.75L265.52 522.11A38.94 38.94 0 0 1 259.14 519.79L260.18 517.58A36.5 36.5 0 0 0 266.15 519.75ZM265.52 522.11L265.23 523.2A40.06 40.06 0 0 1 258.67 520.81L259.14 519.79A38.94 38.94 0 0 0 265.52 522.11ZM265.23 523.2L264.99 524.1A41 41 0 0 1 258.27 521.66L258.67 520.81A40.06 40.06 0 0 0 265.23 523.2ZM274.13 487.66L272.65 490.83A6.98 6.98 0 0 1 271.59 490.22L273.6 487.35A3.48 3.48 0 0 0 274.13 487.66ZM272.65 490.83L263.56 510.32A28.49 28.49 0 0 1 259.26 507.84L271.59 490.22A6.98 6.98 0 0 0 272.65 490.83ZM263.56 510.32L258.27 521.65A41 41 0 0 1 252.09 518.08L259.26 507.84A28.49 28.49 0 0 0 263.56 510.32ZM258.27 521.65L255.53 527.55A47.5 47.5 0 0 1 248.36 523.41L252.09 518.08A41 41 0 0 0 258.27 521.65ZM255.53 527.55L254.15 530.49A50.75 50.75 0 0 1 246.49 526.07L248.36 523.41A47.5 47.5 0 0 0 255.53 527.55ZM254.15 530.49L253.52 531.85A52.25 52.25 0 0 1 245.63 527.3L246.49 526.07A50.75 50.75 0 0 0 254.15 530.49ZM253.52 531.85L252.99 532.99A53.5 53.5 0 0 1 244.91 528.32L245.63 527.3A52.25 52.25 0 0 0 253.52 531.85ZM273.6 487.35L271.73 490.03A6.75 6.75 0 0 1 270.83 489.27L273.14 486.96A3.48 3.48 0 0 0 273.6 487.35ZM271.73 490.03L260.21 506.47A26.82 26.82 0 0 1 256.63 503.47L270.83 489.27A6.75 6.75 0 0 0 271.73 490.03ZM260.21 506.47L253.52 516.03A38.5 38.5 0 0 1 248.38 511.72L256.63 503.47A26.82 26.82 0 0 0 260.21 506.47ZM253.52 516.03L250.04 521.01A44.56 44.56 0 0 1 244.09 516.01L248.38 511.72A38.5 38.5 0 0 0 253.52 516.03ZM250.04 521.01L248.3 523.49A47.6 47.6 0 0 1 241.94 518.16L244.09 516.01A44.56 44.56 0 0 0 250.04 521.01ZM248.3 523.49L247.49 524.64A49 49 0 0 1 240.95 519.15L241.94 518.16A47.6 47.6 0 0 0 248.3 523.49ZM273.14 486.96L271.28 488.82A6.1 6.1 0 0 1 270.6 488L272.75 486.5A3.48 3.48 0 0 0 273.14 486.96ZM271.28 488.82L259.9 500.2A22.21 22.21 0 0 1 257.41 497.24L270.6 488A6.1 6.1 0 0 0 271.28 488.82ZM259.9 500.2L253.27 506.83A31.57 31.57 0 0 1 249.74 502.61L257.41 497.24A22.21 22.21 0 0 0 259.9 500.2ZM253.27 506.83L249.83 510.27A36.44 36.44 0 0 1 245.75 505.4L249.74 502.61A31.57 31.57 0 0 0 253.27 506.83ZM249.83 510.27L248.11 511.99A38.88 38.88 0 0 1 243.75 506.8L245.75 505.4A36.44 36.44 0 0 0 249.83 510.27ZM248.11 511.99L247.32 512.78A40 40 0 0 1 242.83 507.44L243.75 506.8A38.88 38.88 0 0 0 248.11 511.99ZM272.75 486.5L270.78 487.88A5.89 5.89 0 0 1 270.26 486.99L272.44 485.97A3.48 3.48 0 0 0 272.75 486.5ZM270.78 487.88L258.67 496.36A20.67 20.67 0 0 1 256.87 493.24L270.26 486.99A5.89 5.89 0 0 0 270.78 487.88ZM258.67 496.36L251.63 501.29A29.26 29.26 0 0 1 249.08 496.87L256.87 493.24A20.67 20.67 0 0 0 258.67 496.36ZM251.63 501.29L247.97 503.85A33.73 33.73 0 0 1 245.03 498.76L249.08 496.87A29.26 29.26 0 0 0 251.63 501.29ZM247.97 503.85L246.14 505.13A35.97 35.97 0 0 1 243 499.7L245.03 498.76A33.73 33.73 0 0 0 247.97 503.85ZM246.14 505.13L245.29 505.72A37 37 0 0 1 242.07 500.14L243 499.7A35.97 35.97 0 0 0 246.14 505.13ZM272.44 485.97L270.77 486.75A5.33 5.33 0 0 1 270.45 485.88L272.24 485.4A3.48 3.48 0 0 0 272.44 485.97ZM270.77 486.75L260.45 491.57A16.72 16.72 0 0 1 259.45 488.83L270.45 485.88A5.33 5.33 0 0 0 270.77 486.75ZM260.45 491.57L254.45 494.36A23.34 23.34 0 0 1 253.06 490.54L259.45 488.83A16.72 16.72 0 0 0 260.45 491.57ZM254.45 494.36L251.33 495.82A26.78 26.78 0 0 1 249.73 491.43L253.06 490.54A23.34 23.34 0 0 0 254.45 494.36ZM251.33 495.82L249.77 496.54A28.5 28.5 0 0 1 248.07 491.88L249.73 491.43A26.78 26.78 0 0 0 251.33 495.82ZM272.24 485.4L269.32 486.18A6.5 6.5 0 0 1 269.12 485.07L272.13 484.8A3.48 3.48 0 0 0 272.24 485.4ZM269.32 486.18L264.01 487.61A12 12 0 0 1 263.65 485.55L269.12 485.07A6.5 6.5 0 0 0 269.32 486.18ZM264.01 487.61L261.59 488.25A14.5 14.5 0 0 1 261.16 485.76L263.65 485.55A12 12 0 0 0 264.01 487.61ZM261.59 488.25L259.66 488.77A16.5 16.5 0 0 1 259.16 485.94L261.16 485.76A14.5 14.5 0 0 0 261.59 488.25ZM272.13 484.8L269.32 485.05A6.3 6.3 0 0 1 269.32 483.95L272.13 484.2A3.48 3.48 0 0 0 272.13 484.8ZM269.32 485.05L266.14 485.33A9.5 9.5 0 0 1 266.14 483.67L269.32 483.95A6.3 6.3 0 0 0 269.32 485.05ZM266.14 485.33L264.64 485.46A11 11 0 0 1 264.64 483.54L266.14 483.67A9.5 9.5 0 0 0 266.14 485.33ZM264.64 485.46L263.65 485.55A12 12 0 0 1 263.65 483.45L264.64 483.54A11 11 0 0 0 264.64 485.46ZM272.13 484.2L269.32 483.95A6.3 6.3 0 0 1 269.51 482.87L272.24 483.6A3.48 3.48 0 0 0 272.13 484.2ZM269.32 483.95L267.63 483.8A8 8 0 0 1 267.87 482.43L269.51 482.87A6.3 6.3 0 0 0 269.32 483.95ZM267.63 483.8L266.63 483.72A9 9 0 0 1 266.91 482.17L267.87 482.43A8 8 0 0 0 267.63 483.8ZM272.24 483.6L269.51 482.87A6.3 6.3 0 0 1 269.89 481.84L272.44 483.03A3.48 3.48 0 0 0 272.24 483.6ZM269.51 482.87L267.87 482.43A8 8 0 0 1 268.35 481.12L269.89 481.84A6.3 6.3 0 0 0 269.51 482.87ZM267.87 482.43L266.91 482.17A9 9 0 0 1 267.44 480.7L268.35 481.12A8 8 0 0 0 267.87 482.43ZM272.44 483.03L269.89 481.84A6.3 6.3 0 0 1 270.44 480.89L272.75 482.5A3.48 3.48 0 0 0 272.44 483.03ZM269.89 481.84L268.8 481.33A7.5 7.5 0 0 1 269.46 480.2L270.44 480.89A6.3 6.3 0 0 0 269.89 481.84ZM268.8 481.33L268.08 480.99A8.3 8.3 0 0 1 268.8 479.74L269.46 480.2A7.5 7.5 0 0 0 268.8 481.33ZM268.08 480.99L267.26 480.61A9.2 9.2 0 0 1 268.06 479.22L268.8 479.74A8.3 8.3 0 0 0 268.08 480.99ZM267.26 480.61L266.08 480.06A10.5 10.5 0 0 1 267 478.48L268.06 479.22A9.2 9.2 0 0 0 267.26 480.61ZM272.75 482.5L270.44 480.89A6.3 6.3 0 0 1 271.15 480.05L273.14 482.04A3.48 3.48 0 0 0 272.75 482.5ZM270.44 480.89L269.21 480.03A7.8 7.8 0 0 1 270.08 478.98L271.15 480.05A6.3 6.3 0 0 0 270.44 480.89ZM269.21 480.03L268.39 479.45A8.8 8.8 0 0 1 269.38 478.28L270.08 478.98A7.8 7.8 0 0 0 269.21 480.03ZM268.39 479.45L267.41 478.76A10 10 0 0 1 268.53 477.43L269.38 478.28A8.8 8.8 0 0 0 268.39 479.45ZM273.14 482.04L271.15 480.05A6.3 6.3 0 0 1 271.99 479.34L273.6 481.65A3.48 3.48 0 0 0 273.14 482.04ZM271.15 480.05L270.08 478.98A7.8 7.8 0 0 1 271.13 478.11L271.99 479.34A6.3 6.3 0 0 0 271.15 480.05ZM270.08 478.98L269.52 478.42A8.6 8.6 0 0 1 270.67 477.46L271.13 478.11A7.8 7.8 0 0 0 270.08 478.98ZM269.52 478.42L268.88 477.78A9.5 9.5 0 0 1 270.15 476.72L270.67 477.46A8.6 8.6 0 0 0 269.52 478.42ZM273.6 481.65L271.99 479.34A6.3 6.3 0 0 1 272.94 478.79L274.13 481.34A3.48 3.48 0 0 0 273.6 481.65ZM271.99 479.34L271.13 478.11A7.8 7.8 0 0 1 272.3 477.43L272.94 478.79A6.3 6.3 0 0 0 271.99 479.34ZM271.13 478.11L270.44 477.13A9 9 0 0 1 271.8 476.34L272.3 477.43A7.8 7.8 0 0 0 271.13 478.11ZM274.13 481.34L272.94 478.79A6.3 6.3 0 0 1 273.97 478.41L274.7 481.14A3.48 3.48 0 0 0 274.13 481.34ZM272.94 478.79L272.22 477.25A8 8 0 0 1 273.53 476.77L273.97 478.41A6.3 6.3 0 0 0 272.94 478.79ZM274.7 481.14L273.97 478.41A6.3 6.3 0 0 1 275.05 478.22L275.3 481.03A3.48 3.48 0 0 0 274.7 481.14ZM273.97 478.41L273.53 476.77A8 8 0 0 1 274.9 476.53L275.05 478.22A6.3 6.3 0 0 0 273.97 478.41Z" fill="none" stroke="#06183c" stroke-opacity="0.42" stroke-width="0.2"/>
<circle cx="275.6" cy="484.5" r="3.48" fill="#fff" stroke="#666" stroke-width="0.4"/>
<text x="275.8" y="485.4" font-size="2.6" text-anchor="middle" fill="#555" stroke="none">0%</text>
<text x="276.1" y="420.44" font-size="4.36" font-weight="bold" text-anchor="middle" fill="#111">Mean Wave Direction</text>
<text x="275.8" y="427.6" font-size="4.74" text-anchor="middle" fill="#222">North</text>
<text x="275.8" y="545.61" font-size="4.74" text-anchor="middle" fill="#222">South</text>
<text x="218.5" y="486.7" font-size="4.74" text-anchor="end" fill="#222">West</text>
<text x="333.2" y="486.7" font-size="4.74" text-anchor="start" fill="#222">East</text>
<text x="288.06" y="496.56" font-size="4.59" fill="#222">2.8%</text>
<text x="296.6" y="501.78" font-size="4.59" fill="#222">5.6%</text>
<text x="305.85" y="507.21" font-size="4.59" fill="#222">8.4%</text>
<text x="314.99" y="512.43" font-size="4.59" fill="#222">11.2%</text>
<text x="324.24" y="517.45" font-size="4.59" fill="#222">14%</text>
<text x="198.7" y="428" font-size="3.37" fill="#222">Significant Wave Height - SWH (m)</text>
<rect x="185.4" y="429.6" width="11.12" height="3.06" fill="#f9fb0e"/>
<text x="198.56" y="432.25" font-size="3.37" word-spacing="0.5" fill="#222">SHW ≥ 8</text>
<rect x="185.4" y="434.52" width="11.12" height="3.06" fill="#fec932"/>
<text x="198.56" y="437.17" font-size="3.37" word-spacing="0.5" fill="#222">7 ≤ SHW &lt; 8</text>
<rect x="185.4" y="439.44" width="11.12" height="3.06" fill="#d3bb58"/>
<text x="198.56" y="442.09" font-size="3.37" word-spacing="0.5" fill="#222">6 ≤ SHW &lt; 7</text>
<rect x="185.4" y="444.36" width="11.12" height="3.06" fill="#8bbf75"/>
<text x="198.56" y="447.01" font-size="3.37" word-spacing="0.5" fill="#222">5 ≤ SHW &lt; 6</text>
<rect x="185.4" y="449.28" width="11.12" height="3.06" fill="#33b8a1"/>
<text x="198.56" y="451.93" font-size="3.37" word-spacing="0.5" fill="#222">4 ≤ SHW &lt; 5</text>
<rect x="185.4" y="454.2" width="11.12" height="3.06" fill="#06a6c7"/>
<text x="198.56" y="456.85" font-size="3.37" word-spacing="0.5" fill="#222">3 ≤ SHW &lt; 4</text>
<rect x="185.4" y="459.12" width="11.12" height="3.06" fill="#1484d4"/>
<text x="198.56" y="461.77" font-size="3.37" word-spacing="0.5" fill="#222">2 ≤ SHW &lt; 3</text>
<rect x="185.4" y="464.04" width="11.12" height="3.06" fill="#0462e0"/>
<text x="198.56" y="466.69" font-size="3.37" word-spacing="0.5" fill="#222">1 ≤ SHW &lt; 2</text>
<rect x="185.4" y="468.96" width="11.12" height="3.06" fill="#352a87"/>
<text x="198.56" y="471.61" font-size="3.37" word-spacing="0.5" fill="#222">0 ≤ SHW &lt; 1</text>
<text x="186" y="544.8" font-size="4.8" font-weight="bold" fill="#111">(h) ALFA HFR</text>
</g>
</svg>
</body></html>
